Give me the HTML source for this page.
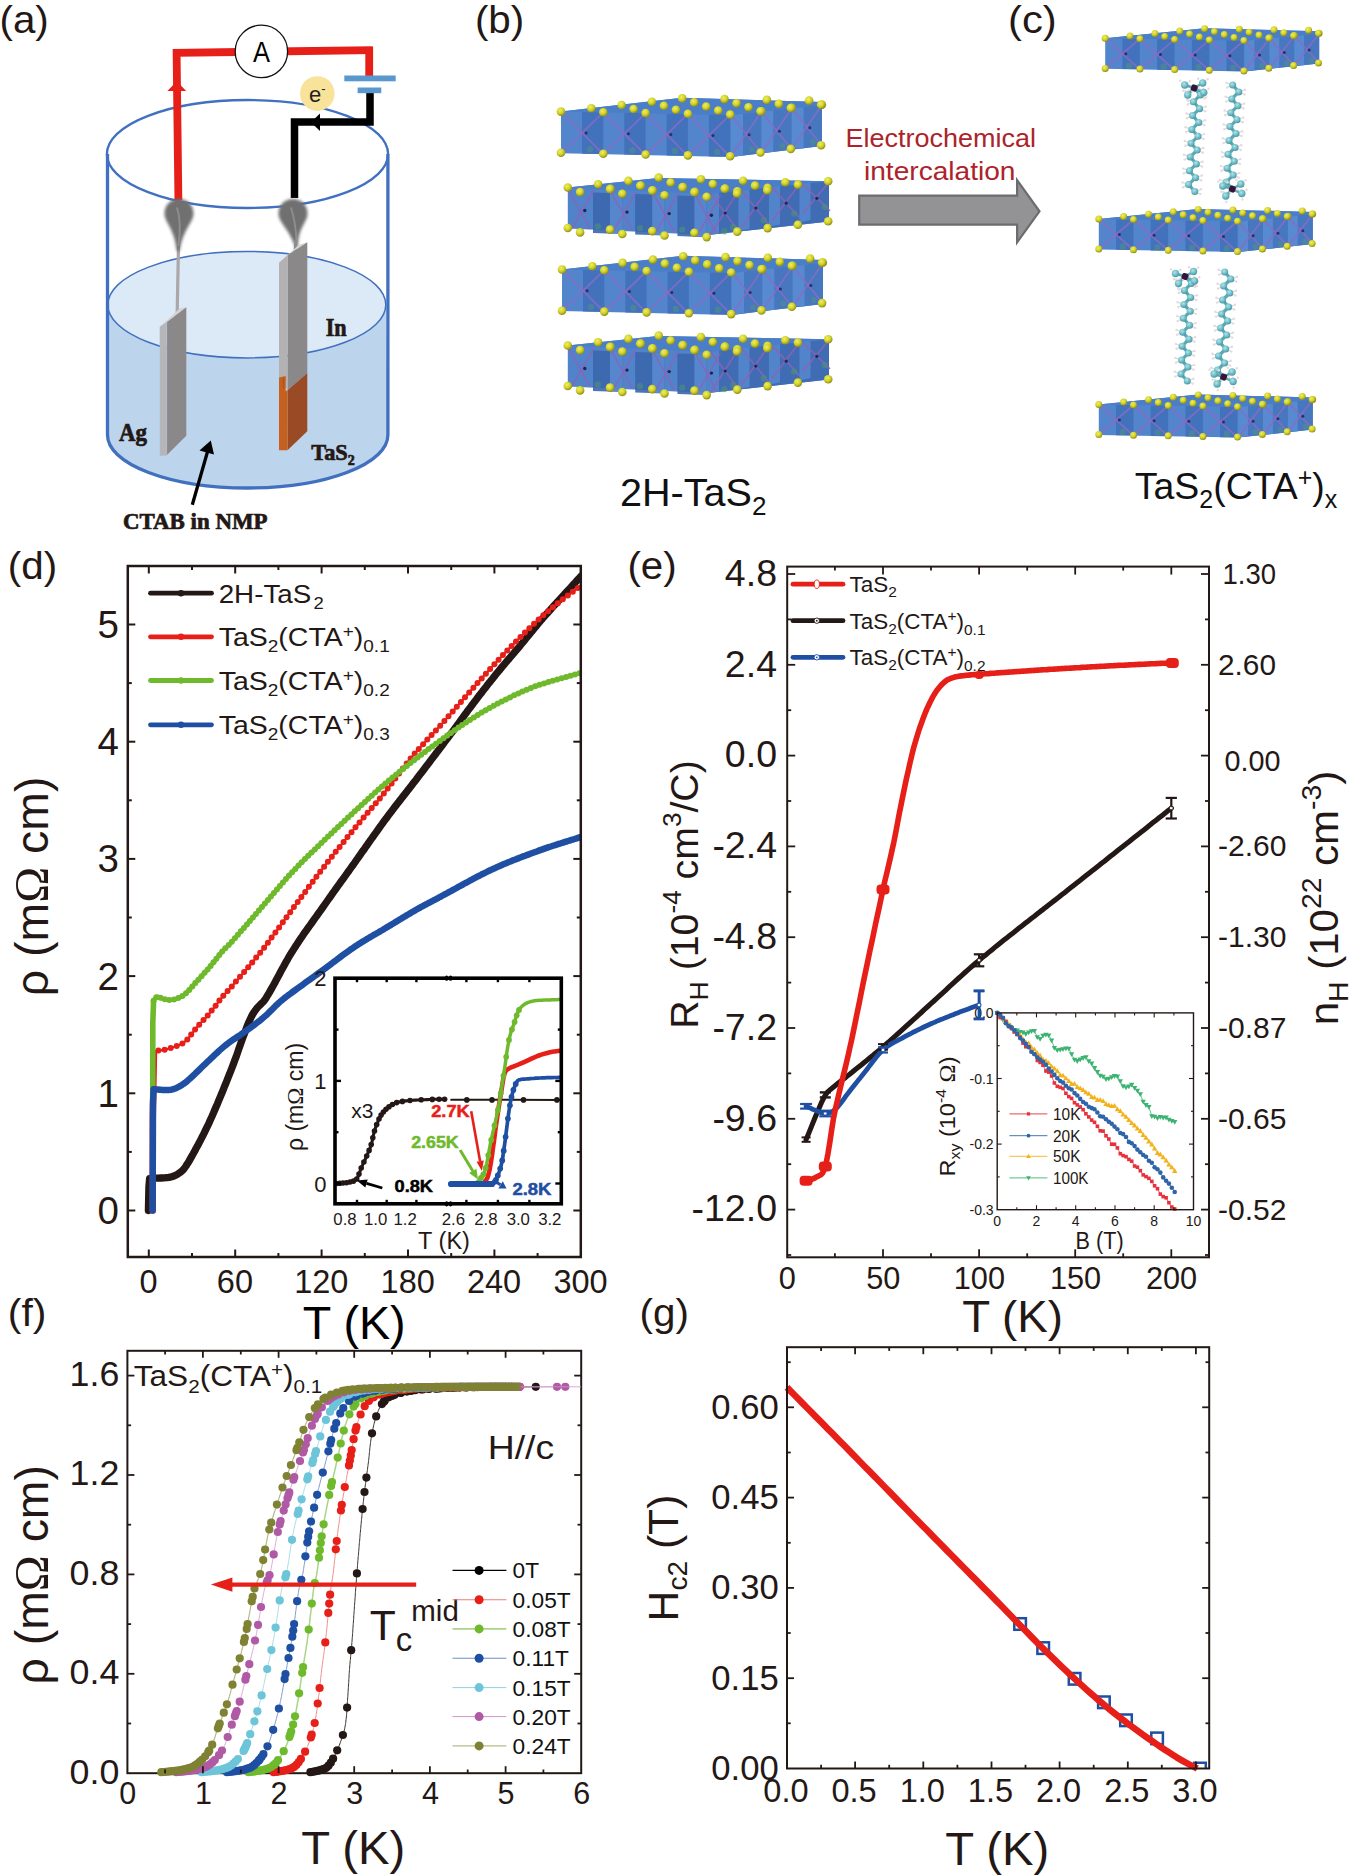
<!DOCTYPE html>
<html><head><meta charset="utf-8"><title>Figure</title>
<style>html,body{margin:0;padding:0;background:#fff}svg{display:block}</style>
</head><body>
<svg width="1349" height="1875" viewBox="0 0 1349 1875" font-family="'Liberation Sans', 'DejaVu Sans', sans-serif">
<rect width="1349" height="1875" fill="#fff"/>
<text x="-0.5" y="32.7" font-size="38.5" fill="#231815" textLength="49.3" lengthAdjust="spacingAndGlyphs">(a)</text>
<text x="474.9" y="32.7" font-size="38.5" fill="#231815" textLength="49.3" lengthAdjust="spacingAndGlyphs">(b)</text>
<text x="1008" y="32.7" font-size="38.5" fill="#231815" textLength="48.7" lengthAdjust="spacingAndGlyphs">(c)</text>
<defs><radialGradient id="gs" cx="50%" cy="40%" r="60%"><stop offset="0" stop-color="#777"/><stop offset="0.7" stop-color="#666"/><stop offset="1" stop-color="#8a8a8a"/></radialGradient><filter id="bl" x="-30%" y="-30%" width="160%" height="160%"><feGaussianBlur stdDeviation="1.6"/></filter><filter id="bl2" x="-30%" y="-30%" width="160%" height="160%"><feGaussianBlur stdDeviation="0.7"/></filter><radialGradient id="sy" cx="40%" cy="35%" r="65%"><stop offset="0" stop-color="#eeee66"/><stop offset="0.55" stop-color="#d3d328"/><stop offset="1" stop-color="#8f8d1a"/></radialGradient><radialGradient id="sc" cx="40%" cy="35%" r="65%"><stop offset="0" stop-color="#b4e3e8"/><stop offset="0.55" stop-color="#72c0c9"/><stop offset="1" stop-color="#4a98a3"/></radialGradient></defs>
<path d="M107.8,304.7 A139,53.2 0 0 0 385.8,304.7 L388,435 A140.5,53 0 0 1 107,435 Z" fill="#bdd5ec"/>
<ellipse cx="246.8" cy="304.7" rx="139" ry="53.2" fill="#dce9f6" stroke="#4170c0" stroke-width="1.5"/>
<ellipse cx="247.5" cy="154" rx="140.6" ry="54" fill="none" stroke="#4170c0" stroke-width="2.3"/>
<path d="M107.5,154 L107.5,435 A140.2,53 0 0 0 387.9,435 L387.9,154" fill="none" stroke="#4170c0" stroke-width="3.3"/>
<path d="M178.4,200 L176.6,52.8 L372.8,50.2" fill="none" stroke="#e71f19" stroke-width="7.8" stroke-linejoin="miter"/>
<path d="M369.2,47 L369.2,77" fill="none" stroke="#e71f19" stroke-width="7.8"/>
<polygon points="176.8,81.3 167.4,90.9 186.2,90.9" fill="#e71f19" />
<path d="M370,92 L370,122 L294.5,122 L294.5,198" fill="none" stroke="#000" stroke-width="7.5" stroke-linejoin="miter"/>
<polygon points="310.9,122.2 320,113.5 320,131" fill="#000" />
<rect x="344.3" y="75.5" width="51.4" height="5.8" fill="#5b97cf" />
<rect x="357.6" y="87.5" width="23.7" height="5.7" fill="#5b97cf" />
<circle cx="261.4" cy="51.4" r="26.2" fill="#fff" stroke="#111" stroke-width="1.3"/>
<text x="261.4" y="61.5" font-size="29" text-anchor="middle" fill="#000" textLength="17" lengthAdjust="spacingAndGlyphs">A</text>
<circle cx="317.3" cy="93.6" r="17.3" fill="#f9e29a" />
<text x="309" y="102" font-size="22" fill="#222">e<tspan font-size="13" dy="-9">-</tspan></text>
<path d="M178.6,240 L177,322" stroke="#aaa8a9" stroke-width="3.2" fill="none"/>
<path d="M179,199 C188,199 193.5,205.5 193.5,213.5 C193.5,222.5 184,227.5 179.7,250 C179.2,252 177.2,252 176.7,250 C174,227.5 164.5,222.5 164.5,213.5 C164.5,205.5 170,199 179,199 Z" fill="#6f6f6f" filter="url(#bl)"/>
<path d="M177,207.5 Q182,223.5 178.2,246" stroke="#999" stroke-width="2" fill="none" opacity="0.7" filter="url(#bl2)"/>
<path d="M293,199 C302,199 307.5,205.5 307.5,213.5 C307.5,222.5 298,227.5 298,246 C297.5,248 295.5,248 295,246 C288,227.5 278.5,222.5 278.5,213.5 C278.5,205.5 284,199 293,199 Z" fill="#6f6f6f" filter="url(#bl)"/>
<path d="M291,207.5 Q296,223.5 296.5,242" stroke="#999" stroke-width="2" fill="none" opacity="0.7" filter="url(#bl2)"/>
<path d="M296,240 L294,262" stroke="#8d8b8c" stroke-width="3" fill="none"/>
<polygon points="160,326.8 179.6,308.5 186.3,307.2 166.7,322.3" fill="#d4d3d4" />
<polygon points="166.7,322.3 186.3,307.2 186.3,435.7 166.7,455.3" fill="#8b8889" />
<polygon points="160,326.8 166.7,322.3 166.7,455.3 160,455.8" fill="#b7b5b6" stroke="#a9bfdc" stroke-width="0.6"/>
<polygon points="279,262.7 298.6,244.9 307.3,242.3 287.5,255.2" fill="#d4d3d4" />
<polygon points="287.5,255.2 307.3,242.3 307.3,373 287.5,390.2" fill="#8b8889" />
<polygon points="279,262.7 287.5,255.2 287.5,390.2 279,377.5" fill="#b3b1b2" />
<polygon points="287.5,390.2 307.3,373 307.3,431.3 287.5,450.2" fill="#9a4a25" />
<polygon points="279,377.5 285.7,376 285.7,391 287.5,390.2 287.5,450.2 279,450.2" fill="#c5601f" />
<path d="M283.5,378 L283.5,388" stroke="#a9521f" stroke-width="1.2"/>
<text x="325.7" y="335.7" font-size="25" fill="#231815" font-family="'Liberation Serif', 'DejaVu Serif', serif" font-weight="bold" textLength="21" lengthAdjust="spacingAndGlyphs" stroke="#231815" stroke-width="0.7">In</text>
<text x="118.9" y="441.3" font-size="25" fill="#231815" font-family="'Liberation Serif', 'DejaVu Serif', serif" font-weight="bold" textLength="28" lengthAdjust="spacingAndGlyphs" stroke="#231815" stroke-width="0.7">Ag</text>
<text x="311.3" y="460.2" font-size="24" fill="#231815" font-family="'Liberation Serif', 'DejaVu Serif', serif" font-weight="bold" textLength="43.5" lengthAdjust="spacingAndGlyphs" stroke="#231815" stroke-width="0.7">TaS<tspan font-size="15" dy="5">2</tspan></text>
<text x="123" y="529.1" font-size="22.5" fill="#231815" font-family="'Liberation Serif', 'DejaVu Serif', serif" font-weight="bold" textLength="144.5" lengthAdjust="spacingAndGlyphs" stroke="#231815" stroke-width="0.7">CTAB in NMP</text>
<line x1="192.3" y1="504.7" x2="208.3" y2="449" stroke="#000" stroke-width="3.3" />
<polygon points="210.8,440.5 199.5,450.5 214,454.6" fill="#000" />
<polygon points="561,111.6 682,97.8 822,102 822,146 731,157 561,153.2" fill="#5385cc" />
<polygon points="582,112 603.3,112.3 603.3,154.1 582,153.7" fill="#3f6fb8" opacity="0.85"/>
<polygon points="624.3,112.8 645.6,113.1 645.6,155 624.3,154.6" fill="#3f6fb8" opacity="0.85"/>
<polygon points="666.6,113.5 687.9,113.8 687.9,155.9 666.6,155.5" fill="#3f6fb8" opacity="0.85"/>
<polygon points="708.9,114.2 730.2,114.6 730.2,156.8 708.9,156.4" fill="#3f6fb8" opacity="0.85"/>
<polygon points="731,115 822,104.9 822,146 731,157" fill="#4677bf" />
<polygon points="731,115 743,113.7 743,155.2 731,157" fill="#5b8fd6" opacity="0.8"/>
<polygon points="761.3,111.7 773.3,110.4 773.3,151.9 761.3,152.5" fill="#5b8fd6" opacity="0.8"/>
<polygon points="791.6,108.4 803.6,107.1 803.6,148.6 791.6,148" fill="#5b8fd6" opacity="0.8"/>
<polygon points="561,111.6 682,97.8 822,102 822,104.9 731,115" fill="#4a7ec8" />
<line x1="561" y1="111.6" x2="603.3" y2="154.1" stroke="#8a6cc6" stroke-width="1.8" opacity="0.8"/>
<line x1="561" y1="153.2" x2="603.3" y2="112.3" stroke="#8a6cc6" stroke-width="1.8" opacity="0.8"/>
<circle cx="586.1" cy="132.9" r="1.5" fill="#2a2f6a" />
<circle cx="590.1" cy="149.2" r="3.2" fill="#4f8f8a" opacity="0.6"/>
<line x1="603.3" y1="112.3" x2="645.6" y2="155" stroke="#8a6cc6" stroke-width="1.8" opacity="0.8"/>
<line x1="603.3" y1="154.1" x2="645.6" y2="113.1" stroke="#8a6cc6" stroke-width="1.8" opacity="0.8"/>
<circle cx="628.4" cy="133.7" r="1.5" fill="#2a2f6a" />
<circle cx="632.4" cy="150.1" r="3.2" fill="#4f8f8a" opacity="0.6"/>
<line x1="645.6" y1="113.1" x2="687.9" y2="155.9" stroke="#8a6cc6" stroke-width="1.8" opacity="0.8"/>
<line x1="645.6" y1="155" x2="687.9" y2="113.8" stroke="#8a6cc6" stroke-width="1.8" opacity="0.8"/>
<circle cx="670.8" cy="134.6" r="1.5" fill="#2a2f6a" />
<circle cx="674.8" cy="151" r="3.2" fill="#4f8f8a" opacity="0.6"/>
<line x1="687.9" y1="113.8" x2="730.2" y2="156.8" stroke="#8a6cc6" stroke-width="1.8" opacity="0.8"/>
<line x1="687.9" y1="155.9" x2="730.2" y2="114.6" stroke="#8a6cc6" stroke-width="1.8" opacity="0.8"/>
<circle cx="713" cy="135.4" r="1.5" fill="#2a2f6a" />
<circle cx="717" cy="151.9" r="3.2" fill="#4f8f8a" opacity="0.6"/>
<line x1="731" y1="115" x2="761.3" y2="152.7" stroke="#8a6cc6" stroke-width="1.8" opacity="0.8"/>
<line x1="731" y1="156.3" x2="761.3" y2="111.7" stroke="#8a6cc6" stroke-width="1.8" opacity="0.8"/>
<circle cx="749.1" cy="134.7" r="1.5" fill="#2a2f6a" />
<circle cx="752.1" cy="149.3" r="3" fill="#4f8f8a" opacity="0.6"/>
<line x1="761.3" y1="111.7" x2="791.6" y2="149.1" stroke="#8a6cc6" stroke-width="1.8" opacity="0.8"/>
<line x1="761.3" y1="152.7" x2="791.6" y2="108.4" stroke="#8a6cc6" stroke-width="1.8" opacity="0.8"/>
<circle cx="779.4" cy="131.2" r="1.5" fill="#2a2f6a" />
<circle cx="782.4" cy="145.7" r="3" fill="#4f8f8a" opacity="0.6"/>
<line x1="791.6" y1="108.4" x2="821.9" y2="145.5" stroke="#8a6cc6" stroke-width="1.8" opacity="0.8"/>
<line x1="791.6" y1="149.1" x2="821.9" y2="105.1" stroke="#8a6cc6" stroke-width="1.8" opacity="0.8"/>
<circle cx="809.8" cy="127.8" r="1.5" fill="#2a2f6a" />
<circle cx="812.8" cy="142.1" r="3" fill="#4f8f8a" opacity="0.6"/>
<circle cx="682.2" cy="98.4" r="4.3" fill="url(#sy)"/>
<circle cx="724.5" cy="99.1" r="4.3" fill="url(#sy)"/>
<circle cx="766.8" cy="99.9" r="4.3" fill="url(#sy)"/>
<circle cx="809.1" cy="100.6" r="4.3" fill="url(#sy)"/>
<circle cx="651.9" cy="101.7" r="4.3" fill="url(#sy)"/>
<circle cx="694.2" cy="102.4" r="4.3" fill="url(#sy)"/>
<circle cx="736.5" cy="103.2" r="4.3" fill="url(#sy)"/>
<circle cx="778.8" cy="103.9" r="4.3" fill="url(#sy)"/>
<circle cx="821.9" cy="104.6" r="4.3" fill="url(#sy)"/>
<circle cx="821.1" cy="104.7" r="4.3" fill="url(#sy)"/>
<circle cx="621.6" cy="105" r="4.3" fill="url(#sy)"/>
<circle cx="663.9" cy="105.8" r="4.3" fill="url(#sy)"/>
<circle cx="706.2" cy="106.5" r="4.3" fill="url(#sy)"/>
<circle cx="748.5" cy="107.2" r="4.3" fill="url(#sy)"/>
<circle cx="791.6" cy="107.9" r="4.3" fill="url(#sy)"/>
<circle cx="790.8" cy="108" r="4.3" fill="url(#sy)"/>
<circle cx="591.3" cy="108.3" r="4.3" fill="url(#sy)"/>
<circle cx="633.6" cy="109" r="4.3" fill="url(#sy)"/>
<circle cx="675.9" cy="109.8" r="4.3" fill="url(#sy)"/>
<circle cx="718.2" cy="110.5" r="4.3" fill="url(#sy)"/>
<circle cx="761.3" cy="111.2" r="4.3" fill="url(#sy)"/>
<circle cx="760.5" cy="111.3" r="4.3" fill="url(#sy)"/>
<circle cx="561" cy="111.6" r="4.3" fill="url(#sy)"/>
<circle cx="603.3" cy="112.3" r="4.3" fill="url(#sy)"/>
<circle cx="645.6" cy="113.1" r="4.3" fill="url(#sy)"/>
<circle cx="687.9" cy="113.8" r="4.3" fill="url(#sy)"/>
<circle cx="730.2" cy="114.6" r="4.3" fill="url(#sy)"/>
<circle cx="561" cy="152.8" r="4.3" fill="url(#sy)"/>
<circle cx="603.3" cy="153.7" r="4.3" fill="url(#sy)"/>
<circle cx="645.6" cy="154.5" r="4.3" fill="url(#sy)"/>
<circle cx="687.9" cy="155.4" r="4.3" fill="url(#sy)"/>
<circle cx="730.2" cy="156.2" r="4.3" fill="url(#sy)"/>
<circle cx="760.5" cy="152.5" r="4.3" fill="url(#sy)"/>
<circle cx="790.8" cy="148.9" r="4.3" fill="url(#sy)"/>
<circle cx="821.1" cy="145.2" r="4.3" fill="url(#sy)"/>
<polygon points="567.8,187.5 658,178 829,181.2 829,221.5 708,235 567.8,228.5" fill="#5183ca" />
<polygon points="567.8,187.5 658,178 829,181.2 708,194" fill="#4a7ec8" />
<polygon points="593,192.5 622.2,193.6 622.2,234.1 593,233" fill="#3a66ad" opacity="0.9"/>
<polygon points="610,193 622.2,193.6 622.2,234.1 610,233" fill="#5f92d8" opacity="0.75"/>
<polygon points="635.2,194.1 664.4,195.1 664.4,235.6 635.2,234.6" fill="#3a66ad" opacity="0.9"/>
<polygon points="652.2,194.6 664.4,195.1 664.4,235.6 652.2,234.6" fill="#5f92d8" opacity="0.75"/>
<polygon points="677.4,195.6 706.6,196.7 706.6,237.2 677.4,236.1" fill="#3a66ad" opacity="0.9"/>
<polygon points="694.4,196.1 706.6,196.7 706.6,237.2 694.4,236.1" fill="#5f92d8" opacity="0.75"/>
<polygon points="708,194 829,181.2 829,221.5 708,235" fill="#3f6cb3" />
<polygon points="708,194 719,192.8 719,233.5 708,235" fill="#5b8fd6" opacity="0.7"/>
<line x1="711" y1="194" x2="738.5" y2="231" stroke="#8d62b8" stroke-width="1.8" opacity="0.8"/>
<line x1="711" y1="234" x2="738.5" y2="190.7" stroke="#8d62b8" stroke-width="1.8" opacity="0.8"/>
<circle cx="725.2" cy="213" r="1.6" fill="#1f2450" />
<circle cx="733.2" cy="227" r="3.2" fill="#4f8f7a" opacity="0.6"/>
<polygon points="738.5,190.7 749.5,189.5 749.5,229 738.5,230.8" fill="#5b8fd6" opacity="0.7"/>
<line x1="741.5" y1="190.7" x2="769" y2="224.3" stroke="#8d62b8" stroke-width="1.8" opacity="0.8"/>
<line x1="741.5" y1="227.3" x2="769" y2="187.4" stroke="#8d62b8" stroke-width="1.8" opacity="0.8"/>
<circle cx="755.8" cy="208.1" r="1.6" fill="#1f2450" />
<circle cx="763.8" cy="220.3" r="3.2" fill="#4f8f7a" opacity="0.6"/>
<polygon points="769,187.4 780,186.2 780,224.5 769,226.6" fill="#5b8fd6" opacity="0.7"/>
<line x1="772" y1="187.4" x2="799.5" y2="217.6" stroke="#8d62b8" stroke-width="1.8" opacity="0.8"/>
<line x1="772" y1="220.6" x2="799.5" y2="184.1" stroke="#8d62b8" stroke-width="1.8" opacity="0.8"/>
<circle cx="786.2" cy="203.2" r="1.6" fill="#1f2450" />
<circle cx="794.2" cy="213.6" r="3.2" fill="#4f8f7a" opacity="0.6"/>
<polygon points="799.5,184.1 810.5,182.9 810.5,220 799.5,222.4" fill="#5b8fd6" opacity="0.7"/>
<line x1="802.5" y1="184.1" x2="830" y2="210.9" stroke="#8d62b8" stroke-width="1.8" opacity="0.8"/>
<line x1="802.5" y1="213.9" x2="830" y2="180.8" stroke="#8d62b8" stroke-width="1.8" opacity="0.8"/>
<circle cx="816.8" cy="198.3" r="1.6" fill="#1f2450" />
<circle cx="824.8" cy="206.9" r="3.2" fill="#4f8f7a" opacity="0.6"/>
<line x1="567.8" y1="188.5" x2="589.8" y2="228.5" stroke="#8d62b8" stroke-width="1.8" opacity="0.75"/>
<line x1="571.8" y1="228.5" x2="593.8" y2="190.5" stroke="#8d62b8" stroke-width="1.8" opacity="0.75"/>
<circle cx="584.8" cy="210.5" r="1.7" fill="#1f2450" />
<circle cx="597.8" cy="226.5" r="3.2" fill="#4f8f7a" opacity="0.6"/>
<line x1="610" y1="190.1" x2="632" y2="230.1" stroke="#8d62b8" stroke-width="1.8" opacity="0.75"/>
<line x1="614" y1="230.1" x2="636" y2="192.1" stroke="#8d62b8" stroke-width="1.8" opacity="0.75"/>
<circle cx="627" cy="212.1" r="1.7" fill="#1f2450" />
<circle cx="640" cy="228.1" r="3.2" fill="#4f8f7a" opacity="0.6"/>
<line x1="652.2" y1="191.6" x2="674.2" y2="231.6" stroke="#8d62b8" stroke-width="1.8" opacity="0.75"/>
<line x1="656.2" y1="231.6" x2="678.2" y2="193.6" stroke="#8d62b8" stroke-width="1.8" opacity="0.75"/>
<circle cx="669.2" cy="213.6" r="1.7" fill="#1f2450" />
<circle cx="682.2" cy="229.6" r="3.2" fill="#4f8f7a" opacity="0.6"/>
<line x1="694.4" y1="193.2" x2="716.4" y2="233.2" stroke="#8d62b8" stroke-width="1.8" opacity="0.75"/>
<line x1="698.4" y1="233.2" x2="720.4" y2="195.2" stroke="#8d62b8" stroke-width="1.8" opacity="0.75"/>
<circle cx="711.4" cy="215.2" r="1.7" fill="#1f2450" />
<circle cx="724.4" cy="231.2" r="3.2" fill="#4f8f7a" opacity="0.6"/>
<circle cx="658.7" cy="177.6" r="4.3" fill="url(#sy)"/>
<circle cx="700.9" cy="179.2" r="4.3" fill="url(#sy)"/>
<circle cx="743.1" cy="180.7" r="4.3" fill="url(#sy)"/>
<circle cx="628.4" cy="180.9" r="4.3" fill="url(#sy)"/>
<circle cx="828.2" cy="181.3" r="4.3" fill="url(#sy)"/>
<circle cx="785.3" cy="182.2" r="4.3" fill="url(#sy)"/>
<circle cx="670.6" cy="182.5" r="4.3" fill="url(#sy)"/>
<circle cx="712.8" cy="184" r="4.3" fill="url(#sy)"/>
<circle cx="598.1" cy="184.2" r="4.3" fill="url(#sy)"/>
<circle cx="797.9" cy="184.6" r="4.3" fill="url(#sy)"/>
<circle cx="640.7" cy="185.5" r="4.3" fill="url(#sy)"/>
<circle cx="755" cy="185.6" r="4.3" fill="url(#sy)"/>
<circle cx="640.3" cy="185.8" r="4.3" fill="url(#sy)"/>
<circle cx="682.9" cy="187.1" r="4.3" fill="url(#sy)"/>
<circle cx="682.5" cy="187.3" r="4.3" fill="url(#sy)"/>
<circle cx="567.8" cy="187.5" r="4.3" fill="url(#sy)"/>
<circle cx="767.6" cy="187.9" r="4.3" fill="url(#sy)"/>
<circle cx="725.1" cy="188.6" r="4.3" fill="url(#sy)"/>
<circle cx="610.4" cy="188.8" r="4.3" fill="url(#sy)"/>
<circle cx="724.7" cy="188.8" r="4.3" fill="url(#sy)"/>
<circle cx="610" cy="189.1" r="4.3" fill="url(#sy)"/>
<circle cx="767.3" cy="190.2" r="4.3" fill="url(#sy)"/>
<circle cx="652.6" cy="190.3" r="4.3" fill="url(#sy)"/>
<circle cx="652.2" cy="190.6" r="4.3" fill="url(#sy)"/>
<circle cx="737.3" cy="191.2" r="4.3" fill="url(#sy)"/>
<circle cx="694.8" cy="191.9" r="4.3" fill="url(#sy)"/>
<circle cx="580.1" cy="192.1" r="4.3" fill="url(#sy)"/>
<circle cx="694.4" cy="192.2" r="4.3" fill="url(#sy)"/>
<circle cx="737" cy="193.4" r="4.3" fill="url(#sy)"/>
<circle cx="622.3" cy="193.7" r="4.3" fill="url(#sy)"/>
<circle cx="664.5" cy="195.2" r="4.3" fill="url(#sy)"/>
<circle cx="706.7" cy="196.8" r="4.3" fill="url(#sy)"/>
<circle cx="567.8" cy="228" r="4.3" fill="url(#sy)"/>
<circle cx="580.1" cy="232.4" r="4.3" fill="url(#sy)"/>
<circle cx="610" cy="229.6" r="4.3" fill="url(#sy)"/>
<circle cx="622.3" cy="234" r="4.3" fill="url(#sy)"/>
<circle cx="652.2" cy="231.1" r="4.3" fill="url(#sy)"/>
<circle cx="664.5" cy="235.5" r="4.3" fill="url(#sy)"/>
<circle cx="694.4" cy="232.7" r="4.3" fill="url(#sy)"/>
<circle cx="706.7" cy="237.1" r="4.3" fill="url(#sy)"/>
<circle cx="737.3" cy="231.6" r="4.3" fill="url(#sy)"/>
<circle cx="767.6" cy="228.1" r="4.3" fill="url(#sy)"/>
<circle cx="797.9" cy="224.7" r="4.3" fill="url(#sy)"/>
<circle cx="828.2" cy="221.2" r="4.3" fill="url(#sy)"/>
<polygon points="562,269.5 683,255.7 823,259.9 823,303.9 732,314.9 562,311.1" fill="#5385cc" />
<polygon points="583,269.9 604.3,270.2 604.3,312 583,311.6" fill="#3f6fb8" opacity="0.85"/>
<polygon points="625.3,270.6 646.6,271 646.6,312.9 625.3,312.5" fill="#3f6fb8" opacity="0.85"/>
<polygon points="667.6,271.4 688.9,271.8 688.9,313.8 667.6,313.4" fill="#3f6fb8" opacity="0.85"/>
<polygon points="709.9,272.1 731.2,272.5 731.2,314.7 709.9,314.3" fill="#3f6fb8" opacity="0.85"/>
<polygon points="732,272.9 823,262.8 823,303.9 732,314.9" fill="#4677bf" />
<polygon points="732,272.9 744,271.6 744,313.1 732,314.9" fill="#5b8fd6" opacity="0.8"/>
<polygon points="762.3,269.6 774.3,268.3 774.3,309.8 762.3,310.4" fill="#5b8fd6" opacity="0.8"/>
<polygon points="792.6,266.3 804.6,265 804.6,306.5 792.6,305.9" fill="#5b8fd6" opacity="0.8"/>
<polygon points="562,269.5 683,255.7 823,259.9 823,262.8 732,272.9" fill="#4a7ec8" />
<line x1="562" y1="269.5" x2="604.3" y2="312" stroke="#8a6cc6" stroke-width="1.8" opacity="0.8"/>
<line x1="562" y1="311.1" x2="604.3" y2="270.2" stroke="#8a6cc6" stroke-width="1.8" opacity="0.8"/>
<circle cx="587.1" cy="290.8" r="1.5" fill="#2a2f6a" />
<circle cx="591.1" cy="307.1" r="3.2" fill="#4f8f8a" opacity="0.6"/>
<line x1="604.3" y1="270.2" x2="646.6" y2="312.9" stroke="#8a6cc6" stroke-width="1.8" opacity="0.8"/>
<line x1="604.3" y1="312" x2="646.6" y2="271" stroke="#8a6cc6" stroke-width="1.8" opacity="0.8"/>
<circle cx="629.4" cy="291.6" r="1.5" fill="#2a2f6a" />
<circle cx="633.4" cy="308" r="3.2" fill="#4f8f8a" opacity="0.6"/>
<line x1="646.6" y1="271" x2="688.9" y2="313.8" stroke="#8a6cc6" stroke-width="1.8" opacity="0.8"/>
<line x1="646.6" y1="312.9" x2="688.9" y2="271.8" stroke="#8a6cc6" stroke-width="1.8" opacity="0.8"/>
<circle cx="671.8" cy="292.5" r="1.5" fill="#2a2f6a" />
<circle cx="675.8" cy="308.9" r="3.2" fill="#4f8f8a" opacity="0.6"/>
<line x1="688.9" y1="271.8" x2="731.2" y2="314.7" stroke="#8a6cc6" stroke-width="1.8" opacity="0.8"/>
<line x1="688.9" y1="313.8" x2="731.2" y2="272.5" stroke="#8a6cc6" stroke-width="1.8" opacity="0.8"/>
<circle cx="714" cy="293.3" r="1.5" fill="#2a2f6a" />
<circle cx="718" cy="309.8" r="3.2" fill="#4f8f8a" opacity="0.6"/>
<line x1="732" y1="272.9" x2="762.3" y2="310.6" stroke="#8a6cc6" stroke-width="1.8" opacity="0.8"/>
<line x1="732" y1="314.2" x2="762.3" y2="269.6" stroke="#8a6cc6" stroke-width="1.8" opacity="0.8"/>
<circle cx="750.1" cy="292.6" r="1.5" fill="#2a2f6a" />
<circle cx="753.1" cy="307.2" r="3" fill="#4f8f8a" opacity="0.6"/>
<line x1="762.3" y1="269.6" x2="792.6" y2="307" stroke="#8a6cc6" stroke-width="1.8" opacity="0.8"/>
<line x1="762.3" y1="310.6" x2="792.6" y2="266.3" stroke="#8a6cc6" stroke-width="1.8" opacity="0.8"/>
<circle cx="780.4" cy="289.1" r="1.5" fill="#2a2f6a" />
<circle cx="783.4" cy="303.6" r="3" fill="#4f8f8a" opacity="0.6"/>
<line x1="792.6" y1="266.3" x2="822.9" y2="303.4" stroke="#8a6cc6" stroke-width="1.8" opacity="0.8"/>
<line x1="792.6" y1="307" x2="822.9" y2="263" stroke="#8a6cc6" stroke-width="1.8" opacity="0.8"/>
<circle cx="810.8" cy="285.6" r="1.5" fill="#2a2f6a" />
<circle cx="813.8" cy="300" r="3" fill="#4f8f8a" opacity="0.6"/>
<circle cx="683.2" cy="256.3" r="4.3" fill="url(#sy)"/>
<circle cx="725.5" cy="257.1" r="4.3" fill="url(#sy)"/>
<circle cx="767.8" cy="257.8" r="4.3" fill="url(#sy)"/>
<circle cx="810.1" cy="258.6" r="4.3" fill="url(#sy)"/>
<circle cx="652.9" cy="259.6" r="4.3" fill="url(#sy)"/>
<circle cx="695.2" cy="260.4" r="4.3" fill="url(#sy)"/>
<circle cx="737.5" cy="261.1" r="4.3" fill="url(#sy)"/>
<circle cx="779.8" cy="261.9" r="4.3" fill="url(#sy)"/>
<circle cx="822.9" cy="262.5" r="4.3" fill="url(#sy)"/>
<circle cx="822.1" cy="262.6" r="4.3" fill="url(#sy)"/>
<circle cx="622.6" cy="262.9" r="4.3" fill="url(#sy)"/>
<circle cx="664.9" cy="263.6" r="4.3" fill="url(#sy)"/>
<circle cx="707.2" cy="264.4" r="4.3" fill="url(#sy)"/>
<circle cx="749.5" cy="265.1" r="4.3" fill="url(#sy)"/>
<circle cx="792.6" cy="265.8" r="4.3" fill="url(#sy)"/>
<circle cx="791.8" cy="265.9" r="4.3" fill="url(#sy)"/>
<circle cx="592.3" cy="266.2" r="4.3" fill="url(#sy)"/>
<circle cx="634.6" cy="266.9" r="4.3" fill="url(#sy)"/>
<circle cx="676.9" cy="267.7" r="4.3" fill="url(#sy)"/>
<circle cx="719.2" cy="268.4" r="4.3" fill="url(#sy)"/>
<circle cx="762.3" cy="269.1" r="4.3" fill="url(#sy)"/>
<circle cx="761.5" cy="269.2" r="4.3" fill="url(#sy)"/>
<circle cx="562" cy="269.5" r="4.3" fill="url(#sy)"/>
<circle cx="604.3" cy="270.2" r="4.3" fill="url(#sy)"/>
<circle cx="646.6" cy="271" r="4.3" fill="url(#sy)"/>
<circle cx="688.9" cy="271.8" r="4.3" fill="url(#sy)"/>
<circle cx="731.2" cy="272.5" r="4.3" fill="url(#sy)"/>
<circle cx="562" cy="310.7" r="4.3" fill="url(#sy)"/>
<circle cx="604.3" cy="311.6" r="4.3" fill="url(#sy)"/>
<circle cx="646.6" cy="312.4" r="4.3" fill="url(#sy)"/>
<circle cx="688.9" cy="313.2" r="4.3" fill="url(#sy)"/>
<circle cx="731.2" cy="314.1" r="4.3" fill="url(#sy)"/>
<circle cx="761.5" cy="310.4" r="4.3" fill="url(#sy)"/>
<circle cx="791.8" cy="306.8" r="4.3" fill="url(#sy)"/>
<circle cx="822.1" cy="303.1" r="4.3" fill="url(#sy)"/>
<polygon points="567.8,345.5 658,336 829,339.2 829,379.5 708,393 567.8,386.5" fill="#5183ca" />
<polygon points="567.8,345.5 658,336 829,339.2 708,352" fill="#4a7ec8" />
<polygon points="593,350.5 622.2,351.6 622.2,392.1 593,391" fill="#3a66ad" opacity="0.9"/>
<polygon points="610,351 622.2,351.6 622.2,392.1 610,391" fill="#5f92d8" opacity="0.75"/>
<polygon points="635.2,352.1 664.4,353.1 664.4,393.6 635.2,392.6" fill="#3a66ad" opacity="0.9"/>
<polygon points="652.2,352.6 664.4,353.1 664.4,393.6 652.2,392.6" fill="#5f92d8" opacity="0.75"/>
<polygon points="677.4,353.6 706.6,354.6 706.6,395.1 677.4,394.1" fill="#3a66ad" opacity="0.9"/>
<polygon points="694.4,354.1 706.6,354.6 706.6,395.1 694.4,394.1" fill="#5f92d8" opacity="0.75"/>
<polygon points="708,352 829,339.2 829,379.5 708,393" fill="#3f6cb3" />
<polygon points="708,352 719,350.8 719,391.5 708,393" fill="#5b8fd6" opacity="0.7"/>
<line x1="711" y1="352" x2="738.5" y2="389" stroke="#8d62b8" stroke-width="1.8" opacity="0.8"/>
<line x1="711" y1="392" x2="738.5" y2="348.7" stroke="#8d62b8" stroke-width="1.8" opacity="0.8"/>
<circle cx="725.2" cy="371" r="1.6" fill="#1f2450" />
<circle cx="733.2" cy="385" r="3.2" fill="#4f8f7a" opacity="0.6"/>
<polygon points="738.5,348.7 749.5,347.5 749.5,387 738.5,388.8" fill="#5b8fd6" opacity="0.7"/>
<line x1="741.5" y1="348.7" x2="769" y2="382.3" stroke="#8d62b8" stroke-width="1.8" opacity="0.8"/>
<line x1="741.5" y1="385.3" x2="769" y2="345.4" stroke="#8d62b8" stroke-width="1.8" opacity="0.8"/>
<circle cx="755.8" cy="366.1" r="1.6" fill="#1f2450" />
<circle cx="763.8" cy="378.3" r="3.2" fill="#4f8f7a" opacity="0.6"/>
<polygon points="769,345.4 780,344.2 780,382.5 769,384.6" fill="#5b8fd6" opacity="0.7"/>
<line x1="772" y1="345.4" x2="799.5" y2="375.6" stroke="#8d62b8" stroke-width="1.8" opacity="0.8"/>
<line x1="772" y1="378.6" x2="799.5" y2="342.1" stroke="#8d62b8" stroke-width="1.8" opacity="0.8"/>
<circle cx="786.2" cy="361.2" r="1.6" fill="#1f2450" />
<circle cx="794.2" cy="371.6" r="3.2" fill="#4f8f7a" opacity="0.6"/>
<polygon points="799.5,342.1 810.5,340.9 810.5,378 799.5,380.4" fill="#5b8fd6" opacity="0.7"/>
<line x1="802.5" y1="342.1" x2="830" y2="368.9" stroke="#8d62b8" stroke-width="1.8" opacity="0.8"/>
<line x1="802.5" y1="371.9" x2="830" y2="338.8" stroke="#8d62b8" stroke-width="1.8" opacity="0.8"/>
<circle cx="816.8" cy="356.3" r="1.6" fill="#1f2450" />
<circle cx="824.8" cy="364.9" r="3.2" fill="#4f8f7a" opacity="0.6"/>
<line x1="567.8" y1="346.5" x2="589.8" y2="386.5" stroke="#8d62b8" stroke-width="1.8" opacity="0.75"/>
<line x1="571.8" y1="386.5" x2="593.8" y2="348.5" stroke="#8d62b8" stroke-width="1.8" opacity="0.75"/>
<circle cx="584.8" cy="368.5" r="1.7" fill="#1f2450" />
<circle cx="597.8" cy="384.5" r="3.2" fill="#4f8f7a" opacity="0.6"/>
<line x1="610" y1="348.1" x2="632" y2="388.1" stroke="#8d62b8" stroke-width="1.8" opacity="0.75"/>
<line x1="614" y1="388.1" x2="636" y2="350.1" stroke="#8d62b8" stroke-width="1.8" opacity="0.75"/>
<circle cx="627" cy="370.1" r="1.7" fill="#1f2450" />
<circle cx="640" cy="386.1" r="3.2" fill="#4f8f7a" opacity="0.6"/>
<line x1="652.2" y1="349.6" x2="674.2" y2="389.6" stroke="#8d62b8" stroke-width="1.8" opacity="0.75"/>
<line x1="656.2" y1="389.6" x2="678.2" y2="351.6" stroke="#8d62b8" stroke-width="1.8" opacity="0.75"/>
<circle cx="669.2" cy="371.6" r="1.7" fill="#1f2450" />
<circle cx="682.2" cy="387.6" r="3.2" fill="#4f8f7a" opacity="0.6"/>
<line x1="694.4" y1="351.1" x2="716.4" y2="391.1" stroke="#8d62b8" stroke-width="1.8" opacity="0.75"/>
<line x1="698.4" y1="391.1" x2="720.4" y2="353.1" stroke="#8d62b8" stroke-width="1.8" opacity="0.75"/>
<circle cx="711.4" cy="373.1" r="1.7" fill="#1f2450" />
<circle cx="724.4" cy="389.1" r="3.2" fill="#4f8f7a" opacity="0.6"/>
<circle cx="658.7" cy="335.6" r="4.3" fill="url(#sy)"/>
<circle cx="700.9" cy="337.1" r="4.3" fill="url(#sy)"/>
<circle cx="743.1" cy="338.7" r="4.3" fill="url(#sy)"/>
<circle cx="628.4" cy="338.9" r="4.3" fill="url(#sy)"/>
<circle cx="828.2" cy="339.3" r="4.3" fill="url(#sy)"/>
<circle cx="785.3" cy="340.2" r="4.3" fill="url(#sy)"/>
<circle cx="670.6" cy="340.5" r="4.3" fill="url(#sy)"/>
<circle cx="712.8" cy="342" r="4.3" fill="url(#sy)"/>
<circle cx="598.1" cy="342.2" r="4.3" fill="url(#sy)"/>
<circle cx="797.9" cy="342.6" r="4.3" fill="url(#sy)"/>
<circle cx="640.7" cy="343.5" r="4.3" fill="url(#sy)"/>
<circle cx="755" cy="343.6" r="4.3" fill="url(#sy)"/>
<circle cx="640.3" cy="343.8" r="4.3" fill="url(#sy)"/>
<circle cx="682.9" cy="345.1" r="4.3" fill="url(#sy)"/>
<circle cx="682.5" cy="345.3" r="4.3" fill="url(#sy)"/>
<circle cx="567.8" cy="345.5" r="4.3" fill="url(#sy)"/>
<circle cx="767.6" cy="345.9" r="4.3" fill="url(#sy)"/>
<circle cx="725.1" cy="346.6" r="4.3" fill="url(#sy)"/>
<circle cx="610.4" cy="346.8" r="4.3" fill="url(#sy)"/>
<circle cx="724.7" cy="346.9" r="4.3" fill="url(#sy)"/>
<circle cx="610" cy="347.1" r="4.3" fill="url(#sy)"/>
<circle cx="767.3" cy="348.1" r="4.3" fill="url(#sy)"/>
<circle cx="652.6" cy="348.4" r="4.3" fill="url(#sy)"/>
<circle cx="652.2" cy="348.6" r="4.3" fill="url(#sy)"/>
<circle cx="737.3" cy="349.2" r="4.3" fill="url(#sy)"/>
<circle cx="694.8" cy="349.9" r="4.3" fill="url(#sy)"/>
<circle cx="580.1" cy="350.1" r="4.3" fill="url(#sy)"/>
<circle cx="694.4" cy="350.1" r="4.3" fill="url(#sy)"/>
<circle cx="737" cy="351.4" r="4.3" fill="url(#sy)"/>
<circle cx="622.3" cy="351.6" r="4.3" fill="url(#sy)"/>
<circle cx="664.5" cy="353.2" r="4.3" fill="url(#sy)"/>
<circle cx="706.7" cy="354.8" r="4.3" fill="url(#sy)"/>
<circle cx="567.8" cy="386" r="4.3" fill="url(#sy)"/>
<circle cx="580.1" cy="390.4" r="4.3" fill="url(#sy)"/>
<circle cx="610" cy="387.6" r="4.3" fill="url(#sy)"/>
<circle cx="622.3" cy="392" r="4.3" fill="url(#sy)"/>
<circle cx="652.2" cy="389.1" r="4.3" fill="url(#sy)"/>
<circle cx="664.5" cy="393.5" r="4.3" fill="url(#sy)"/>
<circle cx="694.4" cy="390.6" r="4.3" fill="url(#sy)"/>
<circle cx="706.7" cy="395.1" r="4.3" fill="url(#sy)"/>
<circle cx="737.3" cy="389.6" r="4.3" fill="url(#sy)"/>
<circle cx="767.6" cy="386.1" r="4.3" fill="url(#sy)"/>
<circle cx="797.9" cy="382.6" r="4.3" fill="url(#sy)"/>
<circle cx="828.2" cy="379.2" r="4.3" fill="url(#sy)"/>
<text x="620" y="506.2" font-size="39.5" fill="#111" textLength="146.5" lengthAdjust="spacingAndGlyphs">2H-TaS<tspan font-size="26" dy="9">2</tspan></text>
<text x="845.5" y="146.8" font-size="25.5" fill="#ad232a" textLength="190.5" lengthAdjust="spacingAndGlyphs">Electrochemical</text>
<text x="864" y="180.1" font-size="25.5" fill="#ad232a" textLength="151.5" lengthAdjust="spacingAndGlyphs">intercalation</text>
<polygon points="859.2,195.7 1017.1,195.7 1017.1,180.1 1039.5,211.3 1017.1,242.4 1017.1,224.6 859.2,224.6" fill="#939395" stroke="#6c6c6e" stroke-width="2.2" stroke-linejoin="miter"/>
<polygon points="1105.2,38.3 1204.4,28.2 1319.2,31.3 1319.2,63.4 1244.6,71.4 1105.2,68.7" fill="#5385cc" />
<polygon points="1122.4,38.6 1139.9,38.8 1139.9,69.3 1122.4,69" fill="#3f6fb8" opacity="0.85"/>
<polygon points="1157.1,39.1 1174.6,39.4 1174.6,70 1157.1,69.7" fill="#3f6fb8" opacity="0.85"/>
<polygon points="1191.8,39.7 1209.3,39.9 1209.3,70.6 1191.8,70.3" fill="#3f6fb8" opacity="0.85"/>
<polygon points="1226.5,40.2 1243.9,40.5 1243.9,71.3 1226.5,71" fill="#3f6fb8" opacity="0.85"/>
<polygon points="1244.6,40.8 1319.2,33.4 1319.2,63.4 1244.6,71.4" fill="#4677bf" />
<polygon points="1244.6,40.8 1254.4,39.8 1254.4,70.1 1244.6,71.4" fill="#5b8fd6" opacity="0.8"/>
<polygon points="1269.4,38.4 1279.3,37.4 1279.3,67.7 1269.4,68.2" fill="#5b8fd6" opacity="0.8"/>
<polygon points="1294.3,36 1304.1,35 1304.1,65.3 1294.3,64.9" fill="#5b8fd6" opacity="0.8"/>
<polygon points="1105.2,38.3 1204.4,28.2 1319.2,31.3 1319.2,33.4 1244.6,40.8" fill="#4a7ec8" />
<line x1="1105.2" y1="38.3" x2="1139.9" y2="69.3" stroke="#8a6cc6" stroke-width="1.8" opacity="0.8"/>
<line x1="1105.2" y1="68.7" x2="1139.9" y2="38.8" stroke="#8a6cc6" stroke-width="1.8" opacity="0.8"/>
<circle cx="1125.8" cy="53.8" r="1.5" fill="#2a2f6a" />
<circle cx="1129.1" cy="65.7" r="3.2" fill="#4f8f8a" opacity="0.6"/>
<line x1="1139.9" y1="38.8" x2="1174.6" y2="70" stroke="#8a6cc6" stroke-width="1.8" opacity="0.8"/>
<line x1="1139.9" y1="69.3" x2="1174.6" y2="39.4" stroke="#8a6cc6" stroke-width="1.8" opacity="0.8"/>
<circle cx="1160.5" cy="54.5" r="1.5" fill="#2a2f6a" />
<circle cx="1163.8" cy="66.4" r="3.2" fill="#4f8f8a" opacity="0.6"/>
<line x1="1174.6" y1="39.4" x2="1209.3" y2="70.6" stroke="#8a6cc6" stroke-width="1.8" opacity="0.8"/>
<line x1="1174.6" y1="70" x2="1209.3" y2="39.9" stroke="#8a6cc6" stroke-width="1.8" opacity="0.8"/>
<circle cx="1195.2" cy="55.1" r="1.5" fill="#2a2f6a" />
<circle cx="1198.5" cy="67.1" r="3.2" fill="#4f8f8a" opacity="0.6"/>
<line x1="1209.3" y1="39.9" x2="1243.9" y2="71.3" stroke="#8a6cc6" stroke-width="1.8" opacity="0.8"/>
<line x1="1209.3" y1="70.6" x2="1243.9" y2="40.5" stroke="#8a6cc6" stroke-width="1.8" opacity="0.8"/>
<circle cx="1229.9" cy="55.7" r="1.5" fill="#2a2f6a" />
<circle cx="1233.2" cy="67.7" r="3.2" fill="#4f8f8a" opacity="0.6"/>
<line x1="1244.6" y1="40.8" x2="1269.4" y2="68.3" stroke="#8a6cc6" stroke-width="1.8" opacity="0.8"/>
<line x1="1244.6" y1="70.9" x2="1269.4" y2="38.4" stroke="#8a6cc6" stroke-width="1.8" opacity="0.8"/>
<circle cx="1259.5" cy="55.1" r="1.5" fill="#2a2f6a" />
<circle cx="1261.9" cy="65.8" r="3" fill="#4f8f8a" opacity="0.6"/>
<line x1="1269.4" y1="38.4" x2="1294.3" y2="65.7" stroke="#8a6cc6" stroke-width="1.8" opacity="0.8"/>
<line x1="1269.4" y1="68.3" x2="1294.3" y2="36" stroke="#8a6cc6" stroke-width="1.8" opacity="0.8"/>
<circle cx="1284.3" cy="52.6" r="1.5" fill="#2a2f6a" />
<circle cx="1286.8" cy="63.2" r="3" fill="#4f8f8a" opacity="0.6"/>
<line x1="1294.3" y1="36" x2="1319.1" y2="63" stroke="#8a6cc6" stroke-width="1.8" opacity="0.8"/>
<line x1="1294.3" y1="65.7" x2="1319.1" y2="33.6" stroke="#8a6cc6" stroke-width="1.8" opacity="0.8"/>
<circle cx="1309.2" cy="50.1" r="1.5" fill="#2a2f6a" />
<circle cx="1311.6" cy="60.6" r="3" fill="#4f8f8a" opacity="0.6"/>
<circle cx="1204.6" cy="28.7" r="3.5" fill="url(#sy)"/>
<circle cx="1239.3" cy="29.2" r="3.5" fill="url(#sy)"/>
<circle cx="1274" cy="29.8" r="3.5" fill="url(#sy)"/>
<circle cx="1308.6" cy="30.3" r="3.5" fill="url(#sy)"/>
<circle cx="1179.7" cy="31.1" r="3.5" fill="url(#sy)"/>
<circle cx="1214.4" cy="31.6" r="3.5" fill="url(#sy)"/>
<circle cx="1249.1" cy="32.2" r="3.5" fill="url(#sy)"/>
<circle cx="1283.8" cy="32.7" r="3.5" fill="url(#sy)"/>
<circle cx="1319.1" cy="33.2" r="3.5" fill="url(#sy)"/>
<circle cx="1318.5" cy="33.3" r="3.5" fill="url(#sy)"/>
<circle cx="1154.9" cy="33.5" r="3.5" fill="url(#sy)"/>
<circle cx="1189.6" cy="34" r="3.5" fill="url(#sy)"/>
<circle cx="1224.3" cy="34.6" r="3.5" fill="url(#sy)"/>
<circle cx="1259" cy="35.1" r="3.5" fill="url(#sy)"/>
<circle cx="1294.3" cy="35.6" r="3.5" fill="url(#sy)"/>
<circle cx="1293.6" cy="35.7" r="3.5" fill="url(#sy)"/>
<circle cx="1130" cy="35.9" r="3.5" fill="url(#sy)"/>
<circle cx="1164.7" cy="36.4" r="3.5" fill="url(#sy)"/>
<circle cx="1199.4" cy="37" r="3.5" fill="url(#sy)"/>
<circle cx="1234.1" cy="37.5" r="3.5" fill="url(#sy)"/>
<circle cx="1269.4" cy="38" r="3.5" fill="url(#sy)"/>
<circle cx="1268.8" cy="38.1" r="3.5" fill="url(#sy)"/>
<circle cx="1105.2" cy="38.3" r="3.5" fill="url(#sy)"/>
<circle cx="1139.9" cy="38.8" r="3.5" fill="url(#sy)"/>
<circle cx="1174.6" cy="39.4" r="3.5" fill="url(#sy)"/>
<circle cx="1209.3" cy="39.9" r="3.5" fill="url(#sy)"/>
<circle cx="1243.9" cy="40.5" r="3.5" fill="url(#sy)"/>
<circle cx="1105.2" cy="68.4" r="3.5" fill="url(#sy)"/>
<circle cx="1139.9" cy="69" r="3.5" fill="url(#sy)"/>
<circle cx="1174.6" cy="69.6" r="3.5" fill="url(#sy)"/>
<circle cx="1209.3" cy="70.2" r="3.5" fill="url(#sy)"/>
<circle cx="1243.9" cy="70.9" r="3.5" fill="url(#sy)"/>
<circle cx="1268.8" cy="68.2" r="3.5" fill="url(#sy)"/>
<circle cx="1293.6" cy="65.5" r="3.5" fill="url(#sy)"/>
<circle cx="1318.5" cy="62.9" r="3.5" fill="url(#sy)"/>
<polygon points="1098.8,219 1198,208.9 1312.8,212 1312.8,244.1 1238.2,252.1 1098.8,249.4" fill="#5385cc" />
<polygon points="1116,219.3 1133.5,219.5 1133.5,250 1116,249.7" fill="#3f6fb8" opacity="0.85"/>
<polygon points="1150.7,219.8 1168.2,220.1 1168.2,250.7 1150.7,250.4" fill="#3f6fb8" opacity="0.85"/>
<polygon points="1185.4,220.4 1202.9,220.6 1202.9,251.3 1185.4,251" fill="#3f6fb8" opacity="0.85"/>
<polygon points="1220.1,220.9 1237.5,221.2 1237.5,252 1220.1,251.7" fill="#3f6fb8" opacity="0.85"/>
<polygon points="1238.2,221.5 1312.8,214.1 1312.8,244.1 1238.2,252.1" fill="#4677bf" />
<polygon points="1238.2,221.5 1248,220.5 1248,250.8 1238.2,252.1" fill="#5b8fd6" opacity="0.8"/>
<polygon points="1263,219.1 1272.9,218.1 1272.9,248.4 1263,248.9" fill="#5b8fd6" opacity="0.8"/>
<polygon points="1287.9,216.7 1297.7,215.7 1297.7,246 1287.9,245.6" fill="#5b8fd6" opacity="0.8"/>
<polygon points="1098.8,219 1198,208.9 1312.8,212 1312.8,214.1 1238.2,221.5" fill="#4a7ec8" />
<line x1="1098.8" y1="219" x2="1133.5" y2="250" stroke="#8a6cc6" stroke-width="1.8" opacity="0.8"/>
<line x1="1098.8" y1="249.4" x2="1133.5" y2="219.5" stroke="#8a6cc6" stroke-width="1.8" opacity="0.8"/>
<circle cx="1119.4" cy="234.5" r="1.5" fill="#2a2f6a" />
<circle cx="1122.7" cy="246.4" r="3.2" fill="#4f8f8a" opacity="0.6"/>
<line x1="1133.5" y1="219.5" x2="1168.2" y2="250.7" stroke="#8a6cc6" stroke-width="1.8" opacity="0.8"/>
<line x1="1133.5" y1="250" x2="1168.2" y2="220.1" stroke="#8a6cc6" stroke-width="1.8" opacity="0.8"/>
<circle cx="1154.1" cy="235.2" r="1.5" fill="#2a2f6a" />
<circle cx="1157.4" cy="247.1" r="3.2" fill="#4f8f8a" opacity="0.6"/>
<line x1="1168.2" y1="220.1" x2="1202.9" y2="251.3" stroke="#8a6cc6" stroke-width="1.8" opacity="0.8"/>
<line x1="1168.2" y1="250.7" x2="1202.9" y2="220.6" stroke="#8a6cc6" stroke-width="1.8" opacity="0.8"/>
<circle cx="1188.8" cy="235.8" r="1.5" fill="#2a2f6a" />
<circle cx="1192.1" cy="247.8" r="3.2" fill="#4f8f8a" opacity="0.6"/>
<line x1="1202.9" y1="220.6" x2="1237.5" y2="252" stroke="#8a6cc6" stroke-width="1.8" opacity="0.8"/>
<line x1="1202.9" y1="251.3" x2="1237.5" y2="221.2" stroke="#8a6cc6" stroke-width="1.8" opacity="0.8"/>
<circle cx="1223.5" cy="236.4" r="1.5" fill="#2a2f6a" />
<circle cx="1226.8" cy="248.4" r="3.2" fill="#4f8f8a" opacity="0.6"/>
<line x1="1238.2" y1="221.5" x2="1263" y2="249" stroke="#8a6cc6" stroke-width="1.8" opacity="0.8"/>
<line x1="1238.2" y1="251.6" x2="1263" y2="219.1" stroke="#8a6cc6" stroke-width="1.8" opacity="0.8"/>
<circle cx="1253.1" cy="235.8" r="1.5" fill="#2a2f6a" />
<circle cx="1255.5" cy="246.5" r="3" fill="#4f8f8a" opacity="0.6"/>
<line x1="1263" y1="219.1" x2="1287.9" y2="246.4" stroke="#8a6cc6" stroke-width="1.8" opacity="0.8"/>
<line x1="1263" y1="249" x2="1287.9" y2="216.7" stroke="#8a6cc6" stroke-width="1.8" opacity="0.8"/>
<circle cx="1277.9" cy="233.3" r="1.5" fill="#2a2f6a" />
<circle cx="1280.4" cy="243.9" r="3" fill="#4f8f8a" opacity="0.6"/>
<line x1="1287.9" y1="216.7" x2="1312.7" y2="243.7" stroke="#8a6cc6" stroke-width="1.8" opacity="0.8"/>
<line x1="1287.9" y1="246.4" x2="1312.7" y2="214.3" stroke="#8a6cc6" stroke-width="1.8" opacity="0.8"/>
<circle cx="1302.8" cy="230.8" r="1.5" fill="#2a2f6a" />
<circle cx="1305.2" cy="241.3" r="3" fill="#4f8f8a" opacity="0.6"/>
<circle cx="1198.2" cy="209.4" r="3.5" fill="url(#sy)"/>
<circle cx="1232.9" cy="209.9" r="3.5" fill="url(#sy)"/>
<circle cx="1267.6" cy="210.5" r="3.5" fill="url(#sy)"/>
<circle cx="1302.2" cy="211" r="3.5" fill="url(#sy)"/>
<circle cx="1173.3" cy="211.8" r="3.5" fill="url(#sy)"/>
<circle cx="1208" cy="212.3" r="3.5" fill="url(#sy)"/>
<circle cx="1242.7" cy="212.9" r="3.5" fill="url(#sy)"/>
<circle cx="1277.4" cy="213.4" r="3.5" fill="url(#sy)"/>
<circle cx="1312.7" cy="213.9" r="3.5" fill="url(#sy)"/>
<circle cx="1312.1" cy="214" r="3.5" fill="url(#sy)"/>
<circle cx="1148.5" cy="214.2" r="3.5" fill="url(#sy)"/>
<circle cx="1183.2" cy="214.7" r="3.5" fill="url(#sy)"/>
<circle cx="1217.9" cy="215.3" r="3.5" fill="url(#sy)"/>
<circle cx="1252.5" cy="215.8" r="3.5" fill="url(#sy)"/>
<circle cx="1287.9" cy="216.3" r="3.5" fill="url(#sy)"/>
<circle cx="1287.2" cy="216.4" r="3.5" fill="url(#sy)"/>
<circle cx="1123.6" cy="216.6" r="3.5" fill="url(#sy)"/>
<circle cx="1158.3" cy="217.1" r="3.5" fill="url(#sy)"/>
<circle cx="1193" cy="217.7" r="3.5" fill="url(#sy)"/>
<circle cx="1227.7" cy="218.2" r="3.5" fill="url(#sy)"/>
<circle cx="1263" cy="218.7" r="3.5" fill="url(#sy)"/>
<circle cx="1262.4" cy="218.8" r="3.5" fill="url(#sy)"/>
<circle cx="1098.8" cy="219" r="3.5" fill="url(#sy)"/>
<circle cx="1133.5" cy="219.5" r="3.5" fill="url(#sy)"/>
<circle cx="1168.2" cy="220.1" r="3.5" fill="url(#sy)"/>
<circle cx="1202.9" cy="220.6" r="3.5" fill="url(#sy)"/>
<circle cx="1237.5" cy="221.2" r="3.5" fill="url(#sy)"/>
<circle cx="1098.8" cy="249.1" r="3.5" fill="url(#sy)"/>
<circle cx="1133.5" cy="249.7" r="3.5" fill="url(#sy)"/>
<circle cx="1168.2" cy="250.3" r="3.5" fill="url(#sy)"/>
<circle cx="1202.9" cy="250.9" r="3.5" fill="url(#sy)"/>
<circle cx="1237.5" cy="251.6" r="3.5" fill="url(#sy)"/>
<circle cx="1262.4" cy="248.9" r="3.5" fill="url(#sy)"/>
<circle cx="1287.2" cy="246.2" r="3.5" fill="url(#sy)"/>
<circle cx="1312.1" cy="243.6" r="3.5" fill="url(#sy)"/>
<polygon points="1098.8,404.5 1198,394.4 1312.8,397.5 1312.8,429.6 1238.2,437.6 1098.8,434.9" fill="#5385cc" />
<polygon points="1116,404.8 1133.5,405 1133.5,435.5 1116,435.2" fill="#3f6fb8" opacity="0.85"/>
<polygon points="1150.7,405.3 1168.2,405.6 1168.2,436.2 1150.7,435.9" fill="#3f6fb8" opacity="0.85"/>
<polygon points="1185.4,405.9 1202.9,406.1 1202.9,436.8 1185.4,436.5" fill="#3f6fb8" opacity="0.85"/>
<polygon points="1220.1,406.4 1237.5,406.7 1237.5,437.5 1220.1,437.2" fill="#3f6fb8" opacity="0.85"/>
<polygon points="1238.2,407 1312.8,399.6 1312.8,429.6 1238.2,437.6" fill="#4677bf" />
<polygon points="1238.2,407 1248,406 1248,436.3 1238.2,437.6" fill="#5b8fd6" opacity="0.8"/>
<polygon points="1263,404.6 1272.9,403.6 1272.9,433.9 1263,434.4" fill="#5b8fd6" opacity="0.8"/>
<polygon points="1287.9,402.2 1297.7,401.2 1297.7,431.5 1287.9,431.1" fill="#5b8fd6" opacity="0.8"/>
<polygon points="1098.8,404.5 1198,394.4 1312.8,397.5 1312.8,399.6 1238.2,407" fill="#4a7ec8" />
<line x1="1098.8" y1="404.5" x2="1133.5" y2="435.5" stroke="#8a6cc6" stroke-width="1.8" opacity="0.8"/>
<line x1="1098.8" y1="434.9" x2="1133.5" y2="405" stroke="#8a6cc6" stroke-width="1.8" opacity="0.8"/>
<circle cx="1119.4" cy="420" r="1.5" fill="#2a2f6a" />
<circle cx="1122.7" cy="431.9" r="3.2" fill="#4f8f8a" opacity="0.6"/>
<line x1="1133.5" y1="405" x2="1168.2" y2="436.2" stroke="#8a6cc6" stroke-width="1.8" opacity="0.8"/>
<line x1="1133.5" y1="435.5" x2="1168.2" y2="405.6" stroke="#8a6cc6" stroke-width="1.8" opacity="0.8"/>
<circle cx="1154.1" cy="420.7" r="1.5" fill="#2a2f6a" />
<circle cx="1157.4" cy="432.6" r="3.2" fill="#4f8f8a" opacity="0.6"/>
<line x1="1168.2" y1="405.6" x2="1202.9" y2="436.8" stroke="#8a6cc6" stroke-width="1.8" opacity="0.8"/>
<line x1="1168.2" y1="436.2" x2="1202.9" y2="406.1" stroke="#8a6cc6" stroke-width="1.8" opacity="0.8"/>
<circle cx="1188.8" cy="421.3" r="1.5" fill="#2a2f6a" />
<circle cx="1192.1" cy="433.3" r="3.2" fill="#4f8f8a" opacity="0.6"/>
<line x1="1202.9" y1="406.1" x2="1237.5" y2="437.5" stroke="#8a6cc6" stroke-width="1.8" opacity="0.8"/>
<line x1="1202.9" y1="436.8" x2="1237.5" y2="406.7" stroke="#8a6cc6" stroke-width="1.8" opacity="0.8"/>
<circle cx="1223.5" cy="421.9" r="1.5" fill="#2a2f6a" />
<circle cx="1226.8" cy="433.9" r="3.2" fill="#4f8f8a" opacity="0.6"/>
<line x1="1238.2" y1="407" x2="1263" y2="434.5" stroke="#8a6cc6" stroke-width="1.8" opacity="0.8"/>
<line x1="1238.2" y1="437.1" x2="1263" y2="404.6" stroke="#8a6cc6" stroke-width="1.8" opacity="0.8"/>
<circle cx="1253.1" cy="421.3" r="1.5" fill="#2a2f6a" />
<circle cx="1255.5" cy="432" r="3" fill="#4f8f8a" opacity="0.6"/>
<line x1="1263" y1="404.6" x2="1287.9" y2="431.9" stroke="#8a6cc6" stroke-width="1.8" opacity="0.8"/>
<line x1="1263" y1="434.5" x2="1287.9" y2="402.2" stroke="#8a6cc6" stroke-width="1.8" opacity="0.8"/>
<circle cx="1277.9" cy="418.8" r="1.5" fill="#2a2f6a" />
<circle cx="1280.4" cy="429.4" r="3" fill="#4f8f8a" opacity="0.6"/>
<line x1="1287.9" y1="402.2" x2="1312.7" y2="429.2" stroke="#8a6cc6" stroke-width="1.8" opacity="0.8"/>
<line x1="1287.9" y1="431.9" x2="1312.7" y2="399.8" stroke="#8a6cc6" stroke-width="1.8" opacity="0.8"/>
<circle cx="1302.8" cy="416.3" r="1.5" fill="#2a2f6a" />
<circle cx="1305.2" cy="426.8" r="3" fill="#4f8f8a" opacity="0.6"/>
<circle cx="1198.2" cy="394.9" r="3.5" fill="url(#sy)"/>
<circle cx="1232.9" cy="395.4" r="3.5" fill="url(#sy)"/>
<circle cx="1267.6" cy="396" r="3.5" fill="url(#sy)"/>
<circle cx="1302.2" cy="396.5" r="3.5" fill="url(#sy)"/>
<circle cx="1173.3" cy="397.3" r="3.5" fill="url(#sy)"/>
<circle cx="1208" cy="397.8" r="3.5" fill="url(#sy)"/>
<circle cx="1242.7" cy="398.4" r="3.5" fill="url(#sy)"/>
<circle cx="1277.4" cy="398.9" r="3.5" fill="url(#sy)"/>
<circle cx="1312.7" cy="399.4" r="3.5" fill="url(#sy)"/>
<circle cx="1312.1" cy="399.5" r="3.5" fill="url(#sy)"/>
<circle cx="1148.5" cy="399.7" r="3.5" fill="url(#sy)"/>
<circle cx="1183.2" cy="400.2" r="3.5" fill="url(#sy)"/>
<circle cx="1217.9" cy="400.8" r="3.5" fill="url(#sy)"/>
<circle cx="1252.5" cy="401.3" r="3.5" fill="url(#sy)"/>
<circle cx="1287.9" cy="401.8" r="3.5" fill="url(#sy)"/>
<circle cx="1287.2" cy="401.9" r="3.5" fill="url(#sy)"/>
<circle cx="1123.6" cy="402.1" r="3.5" fill="url(#sy)"/>
<circle cx="1158.3" cy="402.6" r="3.5" fill="url(#sy)"/>
<circle cx="1193" cy="403.2" r="3.5" fill="url(#sy)"/>
<circle cx="1227.7" cy="403.7" r="3.5" fill="url(#sy)"/>
<circle cx="1263" cy="404.2" r="3.5" fill="url(#sy)"/>
<circle cx="1262.4" cy="404.3" r="3.5" fill="url(#sy)"/>
<circle cx="1098.8" cy="404.5" r="3.5" fill="url(#sy)"/>
<circle cx="1133.5" cy="405" r="3.5" fill="url(#sy)"/>
<circle cx="1168.2" cy="405.6" r="3.5" fill="url(#sy)"/>
<circle cx="1202.9" cy="406.1" r="3.5" fill="url(#sy)"/>
<circle cx="1237.5" cy="406.7" r="3.5" fill="url(#sy)"/>
<circle cx="1098.8" cy="434.6" r="3.5" fill="url(#sy)"/>
<circle cx="1133.5" cy="435.2" r="3.5" fill="url(#sy)"/>
<circle cx="1168.2" cy="435.8" r="3.5" fill="url(#sy)"/>
<circle cx="1202.9" cy="436.4" r="3.5" fill="url(#sy)"/>
<circle cx="1237.5" cy="437.1" r="3.5" fill="url(#sy)"/>
<circle cx="1262.4" cy="434.4" r="3.5" fill="url(#sy)"/>
<circle cx="1287.2" cy="431.7" r="3.5" fill="url(#sy)"/>
<circle cx="1312.1" cy="429.1" r="3.5" fill="url(#sy)"/>
<line x1="1194.2" y1="88" x2="1188" y2="85.8" stroke="#d9dfe1" stroke-width="1.3" />
<circle cx="1188" cy="85.8" r="1.2" fill="#e9d9de" />
<line x1="1194.2" y1="88" x2="1188.6" y2="90.6" stroke="#d9dfe1" stroke-width="1.3" />
<circle cx="1188.6" cy="90.6" r="1.2" fill="#e9d9de" />
<line x1="1200.4" y1="94.9" x2="1206.6" y2="92.7" stroke="#d9dfe1" stroke-width="1.3" />
<circle cx="1206.6" cy="92.7" r="1.2" fill="#e9d9de" />
<line x1="1200.4" y1="94.9" x2="1206" y2="97.5" stroke="#d9dfe1" stroke-width="1.3" />
<circle cx="1206" cy="97.5" r="1.2" fill="#e9d9de" />
<line x1="1193.4" y1="101.8" x2="1187.2" y2="99.6" stroke="#d9dfe1" stroke-width="1.3" />
<circle cx="1187.2" cy="99.6" r="1.2" fill="#e9d9de" />
<line x1="1193.4" y1="101.8" x2="1187.8" y2="104.4" stroke="#d9dfe1" stroke-width="1.3" />
<circle cx="1187.8" cy="104.4" r="1.2" fill="#e9d9de" />
<line x1="1199.6" y1="108.7" x2="1205.8" y2="106.5" stroke="#d9dfe1" stroke-width="1.3" />
<circle cx="1205.8" cy="106.5" r="1.2" fill="#e9d9de" />
<line x1="1199.6" y1="108.7" x2="1205.2" y2="111.3" stroke="#d9dfe1" stroke-width="1.3" />
<circle cx="1205.2" cy="111.3" r="1.2" fill="#e9d9de" />
<line x1="1192.6" y1="115.6" x2="1186.4" y2="113.4" stroke="#d9dfe1" stroke-width="1.3" />
<circle cx="1186.4" cy="113.4" r="1.2" fill="#e9d9de" />
<line x1="1192.6" y1="115.6" x2="1187" y2="118.2" stroke="#d9dfe1" stroke-width="1.3" />
<circle cx="1187" cy="118.2" r="1.2" fill="#e9d9de" />
<line x1="1198.8" y1="122.5" x2="1205" y2="120.3" stroke="#d9dfe1" stroke-width="1.3" />
<circle cx="1205" cy="120.3" r="1.2" fill="#e9d9de" />
<line x1="1198.8" y1="122.5" x2="1204.4" y2="125.1" stroke="#d9dfe1" stroke-width="1.3" />
<circle cx="1204.4" cy="125.1" r="1.2" fill="#e9d9de" />
<line x1="1191.8" y1="129.4" x2="1185.6" y2="127.2" stroke="#d9dfe1" stroke-width="1.3" />
<circle cx="1185.6" cy="127.2" r="1.2" fill="#e9d9de" />
<line x1="1191.8" y1="129.4" x2="1186.2" y2="132" stroke="#d9dfe1" stroke-width="1.3" />
<circle cx="1186.2" cy="132" r="1.2" fill="#e9d9de" />
<line x1="1198" y1="136.3" x2="1204.2" y2="134.1" stroke="#d9dfe1" stroke-width="1.3" />
<circle cx="1204.2" cy="134.1" r="1.2" fill="#e9d9de" />
<line x1="1198" y1="136.3" x2="1203.6" y2="138.9" stroke="#d9dfe1" stroke-width="1.3" />
<circle cx="1203.6" cy="138.9" r="1.2" fill="#e9d9de" />
<line x1="1191" y1="143.2" x2="1184.8" y2="141" stroke="#d9dfe1" stroke-width="1.3" />
<circle cx="1184.8" cy="141" r="1.2" fill="#e9d9de" />
<line x1="1191" y1="143.2" x2="1185.4" y2="145.8" stroke="#d9dfe1" stroke-width="1.3" />
<circle cx="1185.4" cy="145.8" r="1.2" fill="#e9d9de" />
<line x1="1197.2" y1="150.1" x2="1203.4" y2="147.9" stroke="#d9dfe1" stroke-width="1.3" />
<circle cx="1203.4" cy="147.9" r="1.2" fill="#e9d9de" />
<line x1="1197.2" y1="150.1" x2="1202.8" y2="152.7" stroke="#d9dfe1" stroke-width="1.3" />
<circle cx="1202.8" cy="152.7" r="1.2" fill="#e9d9de" />
<line x1="1190.2" y1="157" x2="1184" y2="154.8" stroke="#d9dfe1" stroke-width="1.3" />
<circle cx="1184" cy="154.8" r="1.2" fill="#e9d9de" />
<line x1="1190.2" y1="157" x2="1184.6" y2="159.6" stroke="#d9dfe1" stroke-width="1.3" />
<circle cx="1184.6" cy="159.6" r="1.2" fill="#e9d9de" />
<line x1="1196.4" y1="163.9" x2="1202.6" y2="161.7" stroke="#d9dfe1" stroke-width="1.3" />
<circle cx="1202.6" cy="161.7" r="1.2" fill="#e9d9de" />
<line x1="1196.4" y1="163.9" x2="1202" y2="166.5" stroke="#d9dfe1" stroke-width="1.3" />
<circle cx="1202" cy="166.5" r="1.2" fill="#e9d9de" />
<line x1="1189.4" y1="170.8" x2="1183.2" y2="168.6" stroke="#d9dfe1" stroke-width="1.3" />
<circle cx="1183.2" cy="168.6" r="1.2" fill="#e9d9de" />
<line x1="1189.4" y1="170.8" x2="1183.8" y2="173.4" stroke="#d9dfe1" stroke-width="1.3" />
<circle cx="1183.8" cy="173.4" r="1.2" fill="#e9d9de" />
<line x1="1195.6" y1="177.7" x2="1201.8" y2="175.5" stroke="#d9dfe1" stroke-width="1.3" />
<circle cx="1201.8" cy="175.5" r="1.2" fill="#e9d9de" />
<line x1="1195.6" y1="177.7" x2="1201.2" y2="180.3" stroke="#d9dfe1" stroke-width="1.3" />
<circle cx="1201.2" cy="180.3" r="1.2" fill="#e9d9de" />
<line x1="1188.6" y1="184.6" x2="1182.4" y2="182.4" stroke="#d9dfe1" stroke-width="1.3" />
<circle cx="1182.4" cy="182.4" r="1.2" fill="#e9d9de" />
<line x1="1188.6" y1="184.6" x2="1183" y2="187.2" stroke="#d9dfe1" stroke-width="1.3" />
<circle cx="1183" cy="187.2" r="1.2" fill="#e9d9de" />
<line x1="1194.8" y1="191.5" x2="1201" y2="189.3" stroke="#d9dfe1" stroke-width="1.3" />
<circle cx="1201" cy="189.3" r="1.2" fill="#e9d9de" />
<line x1="1194.8" y1="191.5" x2="1200.4" y2="194.1" stroke="#d9dfe1" stroke-width="1.3" />
<circle cx="1200.4" cy="194.1" r="1.2" fill="#e9d9de" />
<polyline points="1194.2,88 1200.4,94.9 1193.4,101.8 1199.6,108.7 1192.6,115.6 1198.8,122.5 1191.8,129.4 1198,136.3 1191,143.2 1197.2,150.1 1190.2,157 1196.4,163.9 1189.4,170.8 1195.6,177.7 1188.6,184.6 1194.8,191.5" fill="none" stroke="#5aa9b5" stroke-width="3.2" stroke-linejoin="round"/>
<circle cx="1194.2" cy="88" r="3.5" fill="url(#sc)" />
<circle cx="1200.4" cy="94.9" r="3.5" fill="url(#sc)" />
<circle cx="1193.4" cy="101.8" r="3.5" fill="url(#sc)" />
<circle cx="1199.6" cy="108.7" r="3.5" fill="url(#sc)" />
<circle cx="1192.6" cy="115.6" r="3.5" fill="url(#sc)" />
<circle cx="1198.8" cy="122.5" r="3.5" fill="url(#sc)" />
<circle cx="1191.8" cy="129.4" r="3.5" fill="url(#sc)" />
<circle cx="1198" cy="136.3" r="3.5" fill="url(#sc)" />
<circle cx="1191" cy="143.2" r="3.5" fill="url(#sc)" />
<circle cx="1197.2" cy="150.1" r="3.5" fill="url(#sc)" />
<circle cx="1190.2" cy="157" r="3.5" fill="url(#sc)" />
<circle cx="1196.4" cy="163.9" r="3.5" fill="url(#sc)" />
<circle cx="1189.4" cy="170.8" r="3.5" fill="url(#sc)" />
<circle cx="1195.6" cy="177.7" r="3.5" fill="url(#sc)" />
<circle cx="1188.6" cy="184.6" r="3.5" fill="url(#sc)" />
<circle cx="1194.8" cy="191.5" r="3.5" fill="url(#sc)" />
<line x1="1194.2" y1="88" x2="1184.7" y2="85" stroke="#5aa9b5" stroke-width="2.6" />
<circle cx="1180.2" cy="80.8" r="1.2" fill="#e9d9de" />
<circle cx="1189.5" cy="81.2" r="1.2" fill="#e9d9de" />
<circle cx="1185.3" cy="91" r="1.2" fill="#e9d9de" />
<circle cx="1184.7" cy="85" r="3.7" fill="url(#sc)" />
<line x1="1194.2" y1="88" x2="1202.7" y2="83" stroke="#5aa9b5" stroke-width="2.6" />
<circle cx="1198.2" cy="78.8" r="1.2" fill="#e9d9de" />
<circle cx="1207.5" cy="79.2" r="1.2" fill="#e9d9de" />
<circle cx="1203.3" cy="89" r="1.2" fill="#e9d9de" />
<circle cx="1202.7" cy="83" r="3.7" fill="url(#sc)" />
<line x1="1194.2" y1="88" x2="1187.7" y2="95" stroke="#5aa9b5" stroke-width="2.6" />
<circle cx="1183.2" cy="90.8" r="1.2" fill="#e9d9de" />
<circle cx="1192.5" cy="91.2" r="1.2" fill="#e9d9de" />
<circle cx="1188.3" cy="101" r="1.2" fill="#e9d9de" />
<circle cx="1187.7" cy="95" r="3.7" fill="url(#sc)" />
<line x1="1194.2" y1="88" x2="1203.7" y2="92.5" stroke="#5aa9b5" stroke-width="2.6" />
<circle cx="1199.2" cy="88.2" r="1.2" fill="#e9d9de" />
<circle cx="1208.5" cy="88.8" r="1.2" fill="#e9d9de" />
<circle cx="1204.3" cy="98.5" r="1.2" fill="#e9d9de" />
<circle cx="1203.7" cy="92.5" r="3.7" fill="url(#sc)" />
<rect x="1191.1" y="84.9" width="6.2" height="6.2" fill="#3a1238" rx="1.6" transform="rotate(20 1194.2 88)"/>
<line x1="1232.7" y1="85" x2="1226.5" y2="82.8" stroke="#d9dfe1" stroke-width="1.3" />
<circle cx="1226.5" cy="82.8" r="1.2" fill="#e9d9de" />
<line x1="1232.7" y1="85" x2="1227.1" y2="87.6" stroke="#d9dfe1" stroke-width="1.3" />
<circle cx="1227.1" cy="87.6" r="1.2" fill="#e9d9de" />
<line x1="1238.8" y1="91.9" x2="1245" y2="89.7" stroke="#d9dfe1" stroke-width="1.3" />
<circle cx="1245" cy="89.7" r="1.2" fill="#e9d9de" />
<line x1="1238.8" y1="91.9" x2="1244.4" y2="94.5" stroke="#d9dfe1" stroke-width="1.3" />
<circle cx="1244.4" cy="94.5" r="1.2" fill="#e9d9de" />
<line x1="1231.8" y1="98.9" x2="1225.6" y2="96.7" stroke="#d9dfe1" stroke-width="1.3" />
<circle cx="1225.6" cy="96.7" r="1.2" fill="#e9d9de" />
<line x1="1231.8" y1="98.9" x2="1226.2" y2="101.5" stroke="#d9dfe1" stroke-width="1.3" />
<circle cx="1226.2" cy="101.5" r="1.2" fill="#e9d9de" />
<line x1="1237.9" y1="105.8" x2="1244.1" y2="103.6" stroke="#d9dfe1" stroke-width="1.3" />
<circle cx="1244.1" cy="103.6" r="1.2" fill="#e9d9de" />
<line x1="1237.9" y1="105.8" x2="1243.5" y2="108.4" stroke="#d9dfe1" stroke-width="1.3" />
<circle cx="1243.5" cy="108.4" r="1.2" fill="#e9d9de" />
<line x1="1230.8" y1="112.7" x2="1224.6" y2="110.5" stroke="#d9dfe1" stroke-width="1.3" />
<circle cx="1224.6" cy="110.5" r="1.2" fill="#e9d9de" />
<line x1="1230.8" y1="112.7" x2="1225.2" y2="115.3" stroke="#d9dfe1" stroke-width="1.3" />
<circle cx="1225.2" cy="115.3" r="1.2" fill="#e9d9de" />
<line x1="1237" y1="119.7" x2="1243.2" y2="117.5" stroke="#d9dfe1" stroke-width="1.3" />
<circle cx="1243.2" cy="117.5" r="1.2" fill="#e9d9de" />
<line x1="1237" y1="119.7" x2="1242.6" y2="122.3" stroke="#d9dfe1" stroke-width="1.3" />
<circle cx="1242.6" cy="122.3" r="1.2" fill="#e9d9de" />
<line x1="1229.9" y1="126.6" x2="1223.7" y2="124.4" stroke="#d9dfe1" stroke-width="1.3" />
<circle cx="1223.7" cy="124.4" r="1.2" fill="#e9d9de" />
<line x1="1229.9" y1="126.6" x2="1224.3" y2="129.2" stroke="#d9dfe1" stroke-width="1.3" />
<circle cx="1224.3" cy="129.2" r="1.2" fill="#e9d9de" />
<line x1="1236" y1="133.5" x2="1242.2" y2="131.3" stroke="#d9dfe1" stroke-width="1.3" />
<circle cx="1242.2" cy="131.3" r="1.2" fill="#e9d9de" />
<line x1="1236" y1="133.5" x2="1241.6" y2="136.1" stroke="#d9dfe1" stroke-width="1.3" />
<circle cx="1241.6" cy="136.1" r="1.2" fill="#e9d9de" />
<line x1="1229" y1="140.5" x2="1222.8" y2="138.3" stroke="#d9dfe1" stroke-width="1.3" />
<circle cx="1222.8" cy="138.3" r="1.2" fill="#e9d9de" />
<line x1="1229" y1="140.5" x2="1223.4" y2="143.1" stroke="#d9dfe1" stroke-width="1.3" />
<circle cx="1223.4" cy="143.1" r="1.2" fill="#e9d9de" />
<line x1="1235.1" y1="147.4" x2="1241.3" y2="145.2" stroke="#d9dfe1" stroke-width="1.3" />
<circle cx="1241.3" cy="145.2" r="1.2" fill="#e9d9de" />
<line x1="1235.1" y1="147.4" x2="1240.7" y2="150" stroke="#d9dfe1" stroke-width="1.3" />
<circle cx="1240.7" cy="150" r="1.2" fill="#e9d9de" />
<line x1="1228" y1="154.3" x2="1221.8" y2="152.1" stroke="#d9dfe1" stroke-width="1.3" />
<circle cx="1221.8" cy="152.1" r="1.2" fill="#e9d9de" />
<line x1="1228" y1="154.3" x2="1222.4" y2="156.9" stroke="#d9dfe1" stroke-width="1.3" />
<circle cx="1222.4" cy="156.9" r="1.2" fill="#e9d9de" />
<line x1="1234.2" y1="161.3" x2="1240.4" y2="159.1" stroke="#d9dfe1" stroke-width="1.3" />
<circle cx="1240.4" cy="159.1" r="1.2" fill="#e9d9de" />
<line x1="1234.2" y1="161.3" x2="1239.8" y2="163.9" stroke="#d9dfe1" stroke-width="1.3" />
<circle cx="1239.8" cy="163.9" r="1.2" fill="#e9d9de" />
<line x1="1227.1" y1="168.2" x2="1220.9" y2="166" stroke="#d9dfe1" stroke-width="1.3" />
<circle cx="1220.9" cy="166" r="1.2" fill="#e9d9de" />
<line x1="1227.1" y1="168.2" x2="1221.5" y2="170.8" stroke="#d9dfe1" stroke-width="1.3" />
<circle cx="1221.5" cy="170.8" r="1.2" fill="#e9d9de" />
<line x1="1233.2" y1="175.1" x2="1239.4" y2="172.9" stroke="#d9dfe1" stroke-width="1.3" />
<circle cx="1239.4" cy="172.9" r="1.2" fill="#e9d9de" />
<line x1="1233.2" y1="175.1" x2="1238.8" y2="177.7" stroke="#d9dfe1" stroke-width="1.3" />
<circle cx="1238.8" cy="177.7" r="1.2" fill="#e9d9de" />
<line x1="1226.2" y1="182.1" x2="1220" y2="179.9" stroke="#d9dfe1" stroke-width="1.3" />
<circle cx="1220" cy="179.9" r="1.2" fill="#e9d9de" />
<line x1="1226.2" y1="182.1" x2="1220.6" y2="184.7" stroke="#d9dfe1" stroke-width="1.3" />
<circle cx="1220.6" cy="184.7" r="1.2" fill="#e9d9de" />
<line x1="1232.3" y1="189" x2="1238.5" y2="186.8" stroke="#d9dfe1" stroke-width="1.3" />
<circle cx="1238.5" cy="186.8" r="1.2" fill="#e9d9de" />
<line x1="1232.3" y1="189" x2="1237.9" y2="191.6" stroke="#d9dfe1" stroke-width="1.3" />
<circle cx="1237.9" cy="191.6" r="1.2" fill="#e9d9de" />
<polyline points="1232.7,85 1238.8,91.9 1231.8,98.9 1237.9,105.8 1230.8,112.7 1237,119.7 1229.9,126.6 1236,133.5 1229,140.5 1235.1,147.4 1228,154.3 1234.2,161.3 1227.1,168.2 1233.2,175.1 1226.2,182.1 1232.3,189" fill="none" stroke="#5aa9b5" stroke-width="3.2" stroke-linejoin="round"/>
<circle cx="1232.7" cy="85" r="3.5" fill="url(#sc)" />
<circle cx="1238.8" cy="91.9" r="3.5" fill="url(#sc)" />
<circle cx="1231.8" cy="98.9" r="3.5" fill="url(#sc)" />
<circle cx="1237.9" cy="105.8" r="3.5" fill="url(#sc)" />
<circle cx="1230.8" cy="112.7" r="3.5" fill="url(#sc)" />
<circle cx="1237" cy="119.7" r="3.5" fill="url(#sc)" />
<circle cx="1229.9" cy="126.6" r="3.5" fill="url(#sc)" />
<circle cx="1236" cy="133.5" r="3.5" fill="url(#sc)" />
<circle cx="1229" cy="140.5" r="3.5" fill="url(#sc)" />
<circle cx="1235.1" cy="147.4" r="3.5" fill="url(#sc)" />
<circle cx="1228" cy="154.3" r="3.5" fill="url(#sc)" />
<circle cx="1234.2" cy="161.3" r="3.5" fill="url(#sc)" />
<circle cx="1227.1" cy="168.2" r="3.5" fill="url(#sc)" />
<circle cx="1233.2" cy="175.1" r="3.5" fill="url(#sc)" />
<circle cx="1226.2" cy="182.1" r="3.5" fill="url(#sc)" />
<circle cx="1232.3" cy="189" r="3.5" fill="url(#sc)" />
<line x1="1232.3" y1="189" x2="1222.8" y2="186" stroke="#5aa9b5" stroke-width="2.6" />
<circle cx="1218.3" cy="181.8" r="1.2" fill="#e9d9de" />
<circle cx="1227.5" cy="182.2" r="1.2" fill="#e9d9de" />
<circle cx="1223.4" cy="192" r="1.2" fill="#e9d9de" />
<circle cx="1222.8" cy="186" r="3.7" fill="url(#sc)" />
<line x1="1232.3" y1="189" x2="1240.8" y2="184" stroke="#5aa9b5" stroke-width="2.6" />
<circle cx="1236.3" cy="179.8" r="1.2" fill="#e9d9de" />
<circle cx="1245.5" cy="180.2" r="1.2" fill="#e9d9de" />
<circle cx="1241.4" cy="190" r="1.2" fill="#e9d9de" />
<circle cx="1240.8" cy="184" r="3.7" fill="url(#sc)" />
<line x1="1232.3" y1="189" x2="1225.8" y2="196" stroke="#5aa9b5" stroke-width="2.6" />
<circle cx="1221.3" cy="191.8" r="1.2" fill="#e9d9de" />
<circle cx="1230.5" cy="192.2" r="1.2" fill="#e9d9de" />
<circle cx="1226.4" cy="202" r="1.2" fill="#e9d9de" />
<circle cx="1225.8" cy="196" r="3.7" fill="url(#sc)" />
<line x1="1232.3" y1="189" x2="1241.8" y2="193.5" stroke="#5aa9b5" stroke-width="2.6" />
<circle cx="1237.3" cy="189.2" r="1.2" fill="#e9d9de" />
<circle cx="1246.5" cy="189.8" r="1.2" fill="#e9d9de" />
<circle cx="1242.4" cy="199.5" r="1.2" fill="#e9d9de" />
<circle cx="1241.8" cy="193.5" r="3.7" fill="url(#sc)" />
<rect x="1229.2" y="185.9" width="6.2" height="6.2" fill="#3a1238" rx="1.6" transform="rotate(20 1232.3 189)"/>
<line x1="1185" y1="276.5" x2="1178.8" y2="274.3" stroke="#d9dfe1" stroke-width="1.3" />
<circle cx="1178.8" cy="274.3" r="1.2" fill="#e9d9de" />
<line x1="1185" y1="276.5" x2="1179.4" y2="279.1" stroke="#d9dfe1" stroke-width="1.3" />
<circle cx="1179.4" cy="279.1" r="1.2" fill="#e9d9de" />
<line x1="1191.3" y1="283.5" x2="1197.5" y2="281.3" stroke="#d9dfe1" stroke-width="1.3" />
<circle cx="1197.5" cy="281.3" r="1.2" fill="#e9d9de" />
<line x1="1191.3" y1="283.5" x2="1196.9" y2="286.1" stroke="#d9dfe1" stroke-width="1.3" />
<circle cx="1196.9" cy="286.1" r="1.2" fill="#e9d9de" />
<line x1="1184.4" y1="290.4" x2="1178.2" y2="288.2" stroke="#d9dfe1" stroke-width="1.3" />
<circle cx="1178.2" cy="288.2" r="1.2" fill="#e9d9de" />
<line x1="1184.4" y1="290.4" x2="1178.8" y2="293" stroke="#d9dfe1" stroke-width="1.3" />
<circle cx="1178.8" cy="293" r="1.2" fill="#e9d9de" />
<line x1="1190.7" y1="297.4" x2="1196.9" y2="295.2" stroke="#d9dfe1" stroke-width="1.3" />
<circle cx="1196.9" cy="295.2" r="1.2" fill="#e9d9de" />
<line x1="1190.7" y1="297.4" x2="1196.3" y2="300" stroke="#d9dfe1" stroke-width="1.3" />
<circle cx="1196.3" cy="300" r="1.2" fill="#e9d9de" />
<line x1="1183.9" y1="304.4" x2="1177.7" y2="302.2" stroke="#d9dfe1" stroke-width="1.3" />
<circle cx="1177.7" cy="302.2" r="1.2" fill="#e9d9de" />
<line x1="1183.9" y1="304.4" x2="1178.3" y2="307" stroke="#d9dfe1" stroke-width="1.3" />
<circle cx="1178.3" cy="307" r="1.2" fill="#e9d9de" />
<line x1="1190.2" y1="311.3" x2="1196.4" y2="309.1" stroke="#d9dfe1" stroke-width="1.3" />
<circle cx="1196.4" cy="309.1" r="1.2" fill="#e9d9de" />
<line x1="1190.2" y1="311.3" x2="1195.8" y2="313.9" stroke="#d9dfe1" stroke-width="1.3" />
<circle cx="1195.8" cy="313.9" r="1.2" fill="#e9d9de" />
<line x1="1183.3" y1="318.3" x2="1177.1" y2="316.1" stroke="#d9dfe1" stroke-width="1.3" />
<circle cx="1177.1" cy="316.1" r="1.2" fill="#e9d9de" />
<line x1="1183.3" y1="318.3" x2="1177.7" y2="320.9" stroke="#d9dfe1" stroke-width="1.3" />
<circle cx="1177.7" cy="320.9" r="1.2" fill="#e9d9de" />
<line x1="1189.6" y1="325.3" x2="1195.8" y2="323.1" stroke="#d9dfe1" stroke-width="1.3" />
<circle cx="1195.8" cy="323.1" r="1.2" fill="#e9d9de" />
<line x1="1189.6" y1="325.3" x2="1195.2" y2="327.9" stroke="#d9dfe1" stroke-width="1.3" />
<circle cx="1195.2" cy="327.9" r="1.2" fill="#e9d9de" />
<line x1="1182.7" y1="332.2" x2="1176.5" y2="330" stroke="#d9dfe1" stroke-width="1.3" />
<circle cx="1176.5" cy="330" r="1.2" fill="#e9d9de" />
<line x1="1182.7" y1="332.2" x2="1177.1" y2="334.8" stroke="#d9dfe1" stroke-width="1.3" />
<circle cx="1177.1" cy="334.8" r="1.2" fill="#e9d9de" />
<line x1="1189" y1="339.2" x2="1195.2" y2="337" stroke="#d9dfe1" stroke-width="1.3" />
<circle cx="1195.2" cy="337" r="1.2" fill="#e9d9de" />
<line x1="1189" y1="339.2" x2="1194.6" y2="341.8" stroke="#d9dfe1" stroke-width="1.3" />
<circle cx="1194.6" cy="341.8" r="1.2" fill="#e9d9de" />
<line x1="1182.1" y1="346.2" x2="1175.9" y2="344" stroke="#d9dfe1" stroke-width="1.3" />
<circle cx="1175.9" cy="344" r="1.2" fill="#e9d9de" />
<line x1="1182.1" y1="346.2" x2="1176.5" y2="348.8" stroke="#d9dfe1" stroke-width="1.3" />
<circle cx="1176.5" cy="348.8" r="1.2" fill="#e9d9de" />
<line x1="1188.4" y1="353.1" x2="1194.6" y2="350.9" stroke="#d9dfe1" stroke-width="1.3" />
<circle cx="1194.6" cy="350.9" r="1.2" fill="#e9d9de" />
<line x1="1188.4" y1="353.1" x2="1194" y2="355.7" stroke="#d9dfe1" stroke-width="1.3" />
<circle cx="1194" cy="355.7" r="1.2" fill="#e9d9de" />
<line x1="1181.6" y1="360.1" x2="1175.4" y2="357.9" stroke="#d9dfe1" stroke-width="1.3" />
<circle cx="1175.4" cy="357.9" r="1.2" fill="#e9d9de" />
<line x1="1181.6" y1="360.1" x2="1176" y2="362.7" stroke="#d9dfe1" stroke-width="1.3" />
<circle cx="1176" cy="362.7" r="1.2" fill="#e9d9de" />
<line x1="1187.9" y1="367.1" x2="1194.1" y2="364.9" stroke="#d9dfe1" stroke-width="1.3" />
<circle cx="1194.1" cy="364.9" r="1.2" fill="#e9d9de" />
<line x1="1187.9" y1="367.1" x2="1193.5" y2="369.7" stroke="#d9dfe1" stroke-width="1.3" />
<circle cx="1193.5" cy="369.7" r="1.2" fill="#e9d9de" />
<line x1="1181" y1="374" x2="1174.8" y2="371.8" stroke="#d9dfe1" stroke-width="1.3" />
<circle cx="1174.8" cy="371.8" r="1.2" fill="#e9d9de" />
<line x1="1181" y1="374" x2="1175.4" y2="376.6" stroke="#d9dfe1" stroke-width="1.3" />
<circle cx="1175.4" cy="376.6" r="1.2" fill="#e9d9de" />
<line x1="1187.3" y1="381" x2="1193.5" y2="378.8" stroke="#d9dfe1" stroke-width="1.3" />
<circle cx="1193.5" cy="378.8" r="1.2" fill="#e9d9de" />
<line x1="1187.3" y1="381" x2="1192.9" y2="383.6" stroke="#d9dfe1" stroke-width="1.3" />
<circle cx="1192.9" cy="383.6" r="1.2" fill="#e9d9de" />
<polyline points="1185,276.5 1191.3,283.5 1184.4,290.4 1190.7,297.4 1183.9,304.4 1190.2,311.3 1183.3,318.3 1189.6,325.3 1182.7,332.2 1189,339.2 1182.1,346.2 1188.4,353.1 1181.6,360.1 1187.9,367.1 1181,374 1187.3,381" fill="none" stroke="#5aa9b5" stroke-width="3.2" stroke-linejoin="round"/>
<circle cx="1185" cy="276.5" r="3.5" fill="url(#sc)" />
<circle cx="1191.3" cy="283.5" r="3.5" fill="url(#sc)" />
<circle cx="1184.4" cy="290.4" r="3.5" fill="url(#sc)" />
<circle cx="1190.7" cy="297.4" r="3.5" fill="url(#sc)" />
<circle cx="1183.9" cy="304.4" r="3.5" fill="url(#sc)" />
<circle cx="1190.2" cy="311.3" r="3.5" fill="url(#sc)" />
<circle cx="1183.3" cy="318.3" r="3.5" fill="url(#sc)" />
<circle cx="1189.6" cy="325.3" r="3.5" fill="url(#sc)" />
<circle cx="1182.7" cy="332.2" r="3.5" fill="url(#sc)" />
<circle cx="1189" cy="339.2" r="3.5" fill="url(#sc)" />
<circle cx="1182.1" cy="346.2" r="3.5" fill="url(#sc)" />
<circle cx="1188.4" cy="353.1" r="3.5" fill="url(#sc)" />
<circle cx="1181.6" cy="360.1" r="3.5" fill="url(#sc)" />
<circle cx="1187.9" cy="367.1" r="3.5" fill="url(#sc)" />
<circle cx="1181" cy="374" r="3.5" fill="url(#sc)" />
<circle cx="1187.3" cy="381" r="3.5" fill="url(#sc)" />
<line x1="1185" y1="276.5" x2="1175.5" y2="273.5" stroke="#5aa9b5" stroke-width="2.6" />
<circle cx="1171" cy="269.2" r="1.2" fill="#e9d9de" />
<circle cx="1180.2" cy="269.8" r="1.2" fill="#e9d9de" />
<circle cx="1176.1" cy="279.5" r="1.2" fill="#e9d9de" />
<circle cx="1175.5" cy="273.5" r="3.7" fill="url(#sc)" />
<line x1="1185" y1="276.5" x2="1193.5" y2="271.5" stroke="#5aa9b5" stroke-width="2.6" />
<circle cx="1189" cy="267.2" r="1.2" fill="#e9d9de" />
<circle cx="1198.2" cy="267.8" r="1.2" fill="#e9d9de" />
<circle cx="1194.1" cy="277.5" r="1.2" fill="#e9d9de" />
<circle cx="1193.5" cy="271.5" r="3.7" fill="url(#sc)" />
<line x1="1185" y1="276.5" x2="1178.5" y2="283.5" stroke="#5aa9b5" stroke-width="2.6" />
<circle cx="1174" cy="279.2" r="1.2" fill="#e9d9de" />
<circle cx="1183.2" cy="279.8" r="1.2" fill="#e9d9de" />
<circle cx="1179.1" cy="289.5" r="1.2" fill="#e9d9de" />
<circle cx="1178.5" cy="283.5" r="3.7" fill="url(#sc)" />
<line x1="1185" y1="276.5" x2="1194.5" y2="281" stroke="#5aa9b5" stroke-width="2.6" />
<circle cx="1190" cy="276.8" r="1.2" fill="#e9d9de" />
<circle cx="1199.2" cy="277.2" r="1.2" fill="#e9d9de" />
<circle cx="1195.1" cy="287" r="1.2" fill="#e9d9de" />
<circle cx="1194.5" cy="281" r="3.7" fill="url(#sc)" />
<rect x="1181.9" y="273.4" width="6.2" height="6.2" fill="#3a1238" rx="1.6" transform="rotate(20 1185 276.5)"/>
<line x1="1224.7" y1="272" x2="1218.5" y2="269.8" stroke="#d9dfe1" stroke-width="1.3" />
<circle cx="1218.5" cy="269.8" r="1.2" fill="#e9d9de" />
<line x1="1224.7" y1="272" x2="1219.1" y2="274.6" stroke="#d9dfe1" stroke-width="1.3" />
<circle cx="1219.1" cy="274.6" r="1.2" fill="#e9d9de" />
<line x1="1230.8" y1="279" x2="1237" y2="276.8" stroke="#d9dfe1" stroke-width="1.3" />
<circle cx="1237" cy="276.8" r="1.2" fill="#e9d9de" />
<line x1="1230.8" y1="279" x2="1236.4" y2="281.6" stroke="#d9dfe1" stroke-width="1.3" />
<circle cx="1236.4" cy="281.6" r="1.2" fill="#e9d9de" />
<line x1="1223.7" y1="286" x2="1217.5" y2="283.8" stroke="#d9dfe1" stroke-width="1.3" />
<circle cx="1217.5" cy="283.8" r="1.2" fill="#e9d9de" />
<line x1="1223.7" y1="286" x2="1218.1" y2="288.6" stroke="#d9dfe1" stroke-width="1.3" />
<circle cx="1218.1" cy="288.6" r="1.2" fill="#e9d9de" />
<line x1="1229.8" y1="293" x2="1236" y2="290.8" stroke="#d9dfe1" stroke-width="1.3" />
<circle cx="1236" cy="290.8" r="1.2" fill="#e9d9de" />
<line x1="1229.8" y1="293" x2="1235.4" y2="295.6" stroke="#d9dfe1" stroke-width="1.3" />
<circle cx="1235.4" cy="295.6" r="1.2" fill="#e9d9de" />
<line x1="1222.6" y1="300" x2="1216.4" y2="297.8" stroke="#d9dfe1" stroke-width="1.3" />
<circle cx="1216.4" cy="297.8" r="1.2" fill="#e9d9de" />
<line x1="1222.6" y1="300" x2="1217" y2="302.6" stroke="#d9dfe1" stroke-width="1.3" />
<circle cx="1217" cy="302.6" r="1.2" fill="#e9d9de" />
<line x1="1228.7" y1="307" x2="1234.9" y2="304.8" stroke="#d9dfe1" stroke-width="1.3" />
<circle cx="1234.9" cy="304.8" r="1.2" fill="#e9d9de" />
<line x1="1228.7" y1="307" x2="1234.3" y2="309.6" stroke="#d9dfe1" stroke-width="1.3" />
<circle cx="1234.3" cy="309.6" r="1.2" fill="#e9d9de" />
<line x1="1221.6" y1="314" x2="1215.4" y2="311.8" stroke="#d9dfe1" stroke-width="1.3" />
<circle cx="1215.4" cy="311.8" r="1.2" fill="#e9d9de" />
<line x1="1221.6" y1="314" x2="1216" y2="316.6" stroke="#d9dfe1" stroke-width="1.3" />
<circle cx="1216" cy="316.6" r="1.2" fill="#e9d9de" />
<line x1="1227.7" y1="321" x2="1233.9" y2="318.8" stroke="#d9dfe1" stroke-width="1.3" />
<circle cx="1233.9" cy="318.8" r="1.2" fill="#e9d9de" />
<line x1="1227.7" y1="321" x2="1233.3" y2="323.6" stroke="#d9dfe1" stroke-width="1.3" />
<circle cx="1233.3" cy="323.6" r="1.2" fill="#e9d9de" />
<line x1="1220.6" y1="328" x2="1214.4" y2="325.8" stroke="#d9dfe1" stroke-width="1.3" />
<circle cx="1214.4" cy="325.8" r="1.2" fill="#e9d9de" />
<line x1="1220.6" y1="328" x2="1215" y2="330.6" stroke="#d9dfe1" stroke-width="1.3" />
<circle cx="1215" cy="330.6" r="1.2" fill="#e9d9de" />
<line x1="1226.7" y1="335" x2="1232.9" y2="332.8" stroke="#d9dfe1" stroke-width="1.3" />
<circle cx="1232.9" cy="332.8" r="1.2" fill="#e9d9de" />
<line x1="1226.7" y1="335" x2="1232.3" y2="337.6" stroke="#d9dfe1" stroke-width="1.3" />
<circle cx="1232.3" cy="337.6" r="1.2" fill="#e9d9de" />
<line x1="1219.6" y1="342" x2="1213.4" y2="339.8" stroke="#d9dfe1" stroke-width="1.3" />
<circle cx="1213.4" cy="339.8" r="1.2" fill="#e9d9de" />
<line x1="1219.6" y1="342" x2="1214" y2="344.6" stroke="#d9dfe1" stroke-width="1.3" />
<circle cx="1214" cy="344.6" r="1.2" fill="#e9d9de" />
<line x1="1225.7" y1="349" x2="1231.9" y2="346.8" stroke="#d9dfe1" stroke-width="1.3" />
<circle cx="1231.9" cy="346.8" r="1.2" fill="#e9d9de" />
<line x1="1225.7" y1="349" x2="1231.3" y2="351.6" stroke="#d9dfe1" stroke-width="1.3" />
<circle cx="1231.3" cy="351.6" r="1.2" fill="#e9d9de" />
<line x1="1218.5" y1="356" x2="1212.3" y2="353.8" stroke="#d9dfe1" stroke-width="1.3" />
<circle cx="1212.3" cy="353.8" r="1.2" fill="#e9d9de" />
<line x1="1218.5" y1="356" x2="1212.9" y2="358.6" stroke="#d9dfe1" stroke-width="1.3" />
<circle cx="1212.9" cy="358.6" r="1.2" fill="#e9d9de" />
<line x1="1224.6" y1="363" x2="1230.8" y2="360.8" stroke="#d9dfe1" stroke-width="1.3" />
<circle cx="1230.8" cy="360.8" r="1.2" fill="#e9d9de" />
<line x1="1224.6" y1="363" x2="1230.2" y2="365.6" stroke="#d9dfe1" stroke-width="1.3" />
<circle cx="1230.2" cy="365.6" r="1.2" fill="#e9d9de" />
<line x1="1217.5" y1="370" x2="1211.3" y2="367.8" stroke="#d9dfe1" stroke-width="1.3" />
<circle cx="1211.3" cy="367.8" r="1.2" fill="#e9d9de" />
<line x1="1217.5" y1="370" x2="1211.9" y2="372.6" stroke="#d9dfe1" stroke-width="1.3" />
<circle cx="1211.9" cy="372.6" r="1.2" fill="#e9d9de" />
<line x1="1223.6" y1="377" x2="1229.8" y2="374.8" stroke="#d9dfe1" stroke-width="1.3" />
<circle cx="1229.8" cy="374.8" r="1.2" fill="#e9d9de" />
<line x1="1223.6" y1="377" x2="1229.2" y2="379.6" stroke="#d9dfe1" stroke-width="1.3" />
<circle cx="1229.2" cy="379.6" r="1.2" fill="#e9d9de" />
<polyline points="1224.7,272 1230.8,279 1223.7,286 1229.8,293 1222.6,300 1228.7,307 1221.6,314 1227.7,321 1220.6,328 1226.7,335 1219.6,342 1225.7,349 1218.5,356 1224.6,363 1217.5,370 1223.6,377" fill="none" stroke="#5aa9b5" stroke-width="3.2" stroke-linejoin="round"/>
<circle cx="1224.7" cy="272" r="3.5" fill="url(#sc)" />
<circle cx="1230.8" cy="279" r="3.5" fill="url(#sc)" />
<circle cx="1223.7" cy="286" r="3.5" fill="url(#sc)" />
<circle cx="1229.8" cy="293" r="3.5" fill="url(#sc)" />
<circle cx="1222.6" cy="300" r="3.5" fill="url(#sc)" />
<circle cx="1228.7" cy="307" r="3.5" fill="url(#sc)" />
<circle cx="1221.6" cy="314" r="3.5" fill="url(#sc)" />
<circle cx="1227.7" cy="321" r="3.5" fill="url(#sc)" />
<circle cx="1220.6" cy="328" r="3.5" fill="url(#sc)" />
<circle cx="1226.7" cy="335" r="3.5" fill="url(#sc)" />
<circle cx="1219.6" cy="342" r="3.5" fill="url(#sc)" />
<circle cx="1225.7" cy="349" r="3.5" fill="url(#sc)" />
<circle cx="1218.5" cy="356" r="3.5" fill="url(#sc)" />
<circle cx="1224.6" cy="363" r="3.5" fill="url(#sc)" />
<circle cx="1217.5" cy="370" r="3.5" fill="url(#sc)" />
<circle cx="1223.6" cy="377" r="3.5" fill="url(#sc)" />
<line x1="1223.6" y1="377" x2="1214.1" y2="374" stroke="#5aa9b5" stroke-width="2.6" />
<circle cx="1209.6" cy="369.8" r="1.2" fill="#e9d9de" />
<circle cx="1218.8" cy="370.2" r="1.2" fill="#e9d9de" />
<circle cx="1214.7" cy="380" r="1.2" fill="#e9d9de" />
<circle cx="1214.1" cy="374" r="3.7" fill="url(#sc)" />
<line x1="1223.6" y1="377" x2="1232.1" y2="372" stroke="#5aa9b5" stroke-width="2.6" />
<circle cx="1227.6" cy="367.8" r="1.2" fill="#e9d9de" />
<circle cx="1236.8" cy="368.2" r="1.2" fill="#e9d9de" />
<circle cx="1232.7" cy="378" r="1.2" fill="#e9d9de" />
<circle cx="1232.1" cy="372" r="3.7" fill="url(#sc)" />
<line x1="1223.6" y1="377" x2="1217.1" y2="384" stroke="#5aa9b5" stroke-width="2.6" />
<circle cx="1212.6" cy="379.8" r="1.2" fill="#e9d9de" />
<circle cx="1221.8" cy="380.2" r="1.2" fill="#e9d9de" />
<circle cx="1217.7" cy="390" r="1.2" fill="#e9d9de" />
<circle cx="1217.1" cy="384" r="3.7" fill="url(#sc)" />
<line x1="1223.6" y1="377" x2="1233.1" y2="381.5" stroke="#5aa9b5" stroke-width="2.6" />
<circle cx="1228.6" cy="377.2" r="1.2" fill="#e9d9de" />
<circle cx="1237.8" cy="377.8" r="1.2" fill="#e9d9de" />
<circle cx="1233.7" cy="387.5" r="1.2" fill="#e9d9de" />
<circle cx="1233.1" cy="381.5" r="3.7" fill="url(#sc)" />
<rect x="1220.5" y="373.9" width="6.2" height="6.2" fill="#3a1238" rx="1.6" transform="rotate(20 1223.6 377)"/>
<text x="1134.8" y="498.5" font-size="37.5" fill="#111" textLength="202.5" lengthAdjust="spacingAndGlyphs">TaS<tspan font-size="25" dy="9">2</tspan><tspan dy="-9">(CTA</tspan><tspan font-size="25" dy="-13">+</tspan><tspan dy="13">)</tspan><tspan font-size="25" dy="9">x</tspan></text>
<text x="7.8" y="579.2" font-size="38.5" fill="#231815" textLength="49.3" lengthAdjust="spacingAndGlyphs">(d)</text>
<clipPath id="cd"><rect x="127.8" y="566" width="454" height="691"/></clipPath>
<g stroke-linecap="round" stroke-linejoin="round" clip-path="url(#cd)">
<polyline points="148.4,1210.5 148.9,1187.1 149.6,1178.6 151.7,1178.3 153.1,1178.2 154.5,1178.2 156,1178.2 157.4,1178.2 158.8,1178.1 160.3,1178 161.7,1178 163.1,1177.9 164.6,1177.8 166,1177.7 167.4,1177.6 168.8,1177.4 170.3,1177.1 171.7,1176.8 173.1,1176.3 174.6,1175.8 176,1175.1 177.4,1174.3 178.9,1173.3 180.3,1172.3 181.7,1171.2 183.1,1169.8 184.6,1168 186,1166 187.4,1163.7 188.9,1161.4 190.3,1158.9 191.7,1156.4 193.2,1153.8 194.6,1151.2 196,1148.5 197.5,1145.9 198.9,1143.3 200.3,1140.6 201.7,1137.8 203.2,1135 204.6,1132.1 206,1129.2 207.5,1126.2 208.9,1123.2 210.3,1120 211.8,1116.8 213.2,1113.6 214.6,1110.3 216,1107 217.5,1103.7 218.9,1100.2 220.3,1096.8 221.8,1093.3 223.2,1089.8 224.6,1086.2 226.1,1082.7 227.5,1079.1 228.9,1075.5 230.4,1071.9 231.8,1068.3 233.2,1064.6 234.6,1060.8 236.1,1056.9 237.5,1052.9 238.9,1048.7 240.4,1044.5 241.8,1040.5 243.2,1036.6 244.7,1032.8 246.1,1029.1 247.5,1025.4 248.9,1022 250.4,1018.8 251.8,1015.9 253.2,1013.4 254.7,1011.2 256.1,1009.3 257.5,1007.5 259,1006 260.4,1004.6 261.8,1003.2 263.3,1001.8 264.7,1000 266.1,997.9 267.5,995.5 269,993.1 270.4,990.6 271.8,988.1 273.3,985.5 274.7,982.9 276.1,980.3 277.6,977.6 279,975 280.4,972.3 281.8,969.6 283.3,967 284.7,964.4 286.1,961.8 287.6,959.3 289,956.8 290.4,954.4 291.9,952.1 293.3,949.8 294.7,947.6 296.2,945.4 297.6,943.2 299,941 300.4,938.9 301.9,936.8 303.3,934.7 304.7,932.7 306.2,930.6 307.6,928.6 309,926.6 310.5,924.6 311.9,922.6 313.3,920.6 314.7,918.6 316.2,916.6 317.6,914.6 319,912.6 320.5,910.6 321.9,908.6 323.3,906.6 324.8,904.5 326.2,902.5 327.6,900.5 329,898.5 330.5,896.5 331.9,894.4 333.3,892.4 334.8,890.4 336.2,888.4 337.6,886.4 339.1,884.4 340.5,882.4 341.9,880.4 343.4,878.5 344.8,876.5 346.2,874.5 347.6,872.5 349.1,870.5 350.5,868.5 351.9,866.5 353.4,864.5 354.8,862.5 356.2,860.4 357.7,858.4 359.1,856.4 360.5,854.4 361.9,852.3 363.4,850.3 364.8,848.3 366.2,846.2 367.7,844.2 369.1,842.2 370.5,840.1 372,838.1 373.4,836.1 374.8,834.1 376.3,832.1 377.7,830.1 379.1,828.1 380.5,826.1 382,824.1 383.4,822.1 384.8,820.2 386.3,818.3 387.7,816.3 389.1,814.4 390.6,812.5 392,810.7 393.4,808.8 394.8,806.9 396.3,805.1 397.7,803.2 399.1,801.4 400.6,799.6 402,797.7 403.4,795.9 404.9,794.1 406.3,792.3 407.7,790.4 409.2,788.6 410.6,786.8 412,784.9 413.4,783.1 414.9,781.2 416.3,779.4 417.7,777.5 419.2,775.6 420.6,773.7 422,771.9 423.5,770 424.9,768.1 426.3,766.2 427.7,764.4 429.2,762.5 430.6,760.6 432,758.7 433.5,756.8 434.9,755 436.3,753.1 437.8,751.2 439.2,749.3 440.6,747.4 442.1,745.5 443.5,743.6 444.9,741.7 446.3,739.8 447.8,737.9 449.2,736 450.6,734.1 452.1,732.2 453.5,730.3 454.9,728.4 456.4,726.4 457.8,724.5 459.2,722.5 460.6,720.5 462.1,718.6 463.5,716.6 464.9,714.6 466.4,712.7 467.8,710.7 469.2,708.8 470.7,706.9 472.1,705 473.5,703.1 475,701.2 476.4,699.3 477.8,697.4 479.2,695.6 480.7,693.7 482.1,691.9 483.5,690 485,688.2 486.4,686.4 487.8,684.5 489.3,682.7 490.7,680.9 492.1,679.2 493.5,677.4 495,675.6 496.4,673.8 497.8,672.1 499.3,670.4 500.7,668.6 502.1,666.9 503.6,665.2 505,663.5 506.4,661.8 507.8,660.2 509.3,658.5 510.7,656.8 512.1,655.1 513.6,653.4 515,651.7 516.4,650.1 517.9,648.4 519.3,646.7 520.7,644.9 522.2,643.2 523.6,641.5 525,639.7 526.4,638 527.9,636.2 529.3,634.5 530.7,632.7 532.2,631 533.6,629.2 535,627.5 536.5,625.8 537.9,624 539.3,622.3 540.7,620.7 542.2,619 543.6,617.3 545,615.7 546.5,614.1 547.9,612.5 549.3,610.9 550.8,609.3 552.2,607.7 553.6,606.1 555.1,604.5 556.5,603 557.9,601.4 559.3,599.8 560.8,598.3 562.2,596.7 563.6,595.2 565.1,593.6 566.5,592 567.9,590.5 569.4,588.9 570.8,587.4 572.2,585.8 573.6,584.3 575.1,582.7 576.5,581.1 577.9,579.6 579.4,578 580.8,576.4" fill="none" stroke="#231815" stroke-width="7.3" />
<polyline points="152.8,1210.5 152.8,1116.7 154,1053.5" fill="none" stroke="#e71f19" stroke-width="6.4" />
<polyline points="154,1053.5 154.6,1051.1 155.6,1051 156.7,1050.8 157.8,1050.7 158.8,1050.6 159.9,1050.4 161,1050.3 162,1050.1 163.1,1050 164.2,1049.8 165.2,1049.6 166.3,1049.3 167.3,1049.1 168.4,1048.8 169.5,1048.5 170.5,1048.1 171.6,1047.7 172.7,1047.4 173.7,1047 174.8,1046.7 175.9,1046.3 176.9,1045.9 178,1045.5 179.1,1045.1 180.1,1044.6 181.2,1044.1 182.3,1043.5 183.3,1042.8 184.4,1042 185.5,1041.2 186.5,1040.2 187.6,1039 188.7,1037.8 189.7,1036.5 190.8,1035.1 191.9,1033.7 192.9,1032.3 194,1030.9 195.1,1029.5 196.1,1028.3 197.2,1027 198.2,1025.8 199.3,1024.7 200.4,1023.5 201.4,1022.3 202.5,1021.2 203.6,1020 204.6,1018.9 205.7,1017.7 206.8,1016.5 207.8,1015.3 208.9,1014.1 210,1012.8 211,1011.5 212.1,1010.2 213.2,1008.8 214.2,1007.5 215.3,1006.1 216.4,1004.7 217.4,1003.3 218.5,1001.8 219.6,1000.4 220.6,999.1 221.7,997.7 222.8,996.3 223.8,995 224.9,993.8 226,992.7 227,991.6 228.1,990.5 229.2,989.4 230.2,988.2 231.3,986.9 232.3,985.7 233.4,984.5 234.5,983.2 235.5,982 236.6,980.7 237.7,979.5 238.7,978.3 239.8,977 240.9,975.8 241.9,974.6 243,973.3 244.1,972.1 245.1,970.8 246.2,969.6 247.3,968.3 248.3,967.1 249.4,965.8 250.5,964.6 251.5,963.3 252.6,962 253.7,960.7 254.7,959.4 255.8,958.1 256.9,956.8 257.9,955.5 259,954.2 260.1,952.8 261.1,951.5 262.2,950.1 263.3,948.8 264.3,947.4 265.4,946 266.4,944.6 267.5,943.2 268.6,941.7 269.6,940.3 270.7,938.9 271.8,937.4 272.8,936 273.9,934.5 275,933.1 276,931.6 277.1,930.2 278.2,928.7 279.2,927.2 280.3,925.8 281.4,924.3 282.4,922.8 283.5,921.3 284.6,919.9 285.6,918.4 286.7,916.9 287.8,915.5 288.8,914 289.9,912.6 291,911.1 292,909.7 293.1,908.2 294.2,906.8 295.2,905.4 296.3,903.9 297.4,902.5 298.4,901 299.5,899.6 300.5,898.1 301.6,896.7 302.7,895.3 303.7,893.8 304.8,892.4 305.9,890.9 306.9,889.5 308,888 309.1,886.6 310.1,885.2 311.2,883.7 312.3,882.3 313.3,880.9 314.4,879.4 315.5,878 316.5,876.6 317.6,875.2 318.7,873.8 319.7,872.4 320.8,871 321.9,869.6 322.9,868.2 324,866.8 325.1,865.4 326.1,864 327.2,862.7 328.3,861.3 329.3,859.9 330.4,858.6 331.4,857.2 332.5,855.9 333.6,854.5 334.6,853.2 335.7,851.8 336.8,850.5 337.8,849.1 338.9,847.8 340,846.5 341,845.1 342.1,843.8 343.2,842.5 344.2,841.2 345.3,839.8 346.4,838.5 347.4,837.2 348.5,835.9 349.6,834.6 350.6,833.3 351.7,832 352.8,830.7 353.8,829.3 354.9,828 356,826.7 357,825.4 358.1,824.2 359.2,822.9 360.2,821.6 361.3,820.3 362.4,819.1 363.4,817.8 364.5,816.5 365.5,815.3 366.6,814 367.7,812.8 368.7,811.5 369.8,810.3 370.9,809 371.9,807.7 373,806.5 374.1,805.2 375.1,804 376.2,802.7 377.3,801.4 378.3,800.1 379.4,798.9 380.5,797.6 381.5,796.3 382.6,795 383.7,793.7 384.7,792.3 385.8,791 386.9,789.7 387.9,788.3 389,786.9 390.1,785.5 391.1,784.1 392.2,782.7 393.3,781.3 394.3,779.8 395.4,778.4 396.5,777 397.5,775.5 398.6,774.1 399.6,772.6 400.7,771.2 401.8,769.8 402.8,768.3 403.9,766.9 405,765.5 406,764.2 407.1,762.8 408.2,761.4 409.2,760.1 410.3,758.8 411.4,757.5 412.4,756.2 413.5,755 414.6,753.8 415.6,752.5 416.7,751.3 417.8,750.1 418.8,748.9 419.9,747.7 421,746.6 422,745.4 423.1,744.2 424.2,743.1 425.2,741.9 426.3,740.8 427.4,739.6 428.4,738.5 429.5,737.3 430.6,736.2 431.6,735.1 432.7,733.9 433.7,732.8 434.8,731.6 435.9,730.5 436.9,729.3 438,728.1 439.1,727 440.1,725.8 441.2,724.6 442.3,723.4 443.3,722.2 444.4,721 445.5,719.8 446.5,718.6 447.6,717.4 448.7,716.2 449.7,714.9 450.8,713.7 451.9,712.5 452.9,711.3 454,710 455.1,708.8 456.1,707.6 457.2,706.3 458.3,705.1 459.3,703.9 460.4,702.6 461.5,701.4 462.5,700.2 463.6,699 464.6,697.7 465.7,696.5 466.8,695.3 467.8,694.1 468.9,692.8 470,691.6 471,690.4 472.1,689.2 473.2,688 474.2,686.8 475.3,685.6 476.4,684.4 477.4,683.2 478.5,682 479.6,680.8 480.6,679.6 481.7,678.4 482.8,677.2 483.8,676 484.9,674.8 486,673.6 487,672.5 488.1,671.3 489.2,670.1 490.2,668.9 491.3,667.7 492.4,666.5 493.4,665.4 494.5,664.2 495.6,663 496.6,661.9 497.7,660.7 498.7,659.6 499.8,658.4 500.9,657.3 501.9,656.1 503,655 504.1,653.9 505.1,652.8 506.2,651.6 507.3,650.5 508.3,649.4 509.4,648.3 510.5,647.2 511.5,646.1 512.6,645 513.7,643.9 514.7,642.8 515.8,641.7 516.9,640.6 517.9,639.5 519,638.5 520.1,637.4 521.1,636.3 522.2,635.3 523.3,634.2 524.3,633.2 525.4,632.1 526.5,631.1 527.5,630 528.6,629 529.7,627.9 530.7,626.9 531.8,625.9 532.8,624.9 533.9,623.9 535,622.9 536,621.9 537.1,620.9 538.2,619.9 539.2,618.9 540.3,618 541.4,617 542.4,616.1 543.5,615.1 544.6,614.2 545.6,613.3 546.7,612.4 547.8,611.5 548.8,610.6 549.9,609.7 551,608.8 552,607.9 553.1,607.1 554.2,606.2 555.2,605.3 556.3,604.5 557.4,603.6 558.4,602.7 559.5,601.9 560.6,601 561.6,600.2 562.7,599.4 563.8,598.5 564.8,597.7 565.9,596.9 566.9,596.1 568,595.3 569.1,594.5 570.1,593.7 571.2,592.9 572.3,592.2 573.3,591.4 574.4,590.6 575.5,589.8 576.5,589 577.6,588.2 578.7,587.4 579.7,586.6 580.8,585.8" fill="none" stroke="#e71f19" stroke-width="2.2" />
<g fill="#e71f19">
<circle cx="154" cy="1053.5" r="3"/>
<circle cx="158.4" cy="1050.6" r="3"/>
<circle cx="164.6" cy="1049.7" r="3"/>
<circle cx="170.7" cy="1048.1" r="3"/>
<circle cx="176.7" cy="1046" r="3"/>
<circle cx="182.4" cy="1043.4" r="3"/>
<circle cx="187.3" cy="1039.4" r="3"/>
<circle cx="191.2" cy="1034.5" r="3"/>
<circle cx="195.1" cy="1029.5" r="3"/>
<circle cx="199.2" cy="1024.8" r="3"/>
<circle cx="203.5" cy="1020.1" r="3"/>
<circle cx="207.7" cy="1015.5" r="3"/>
<circle cx="211.7" cy="1010.6" r="3"/>
<circle cx="215.6" cy="1005.7" r="3"/>
<circle cx="219.4" cy="1000.6" r="3"/>
<circle cx="223.3" cy="995.7" r="3"/>
<circle cx="227.6" cy="991" r="3"/>
<circle cx="231.8" cy="986.4" r="3"/>
<circle cx="235.9" cy="981.6" r="3"/>
<circle cx="240" cy="976.8" r="3"/>
<circle cx="244.1" cy="972.1" r="3"/>
<circle cx="248.2" cy="967.3" r="3"/>
<circle cx="252.2" cy="962.4" r="3"/>
<circle cx="256.2" cy="957.6" r="3"/>
<circle cx="260.2" cy="952.7" r="3"/>
<circle cx="264.1" cy="947.7" r="3"/>
<circle cx="267.9" cy="942.7" r="3"/>
<circle cx="271.6" cy="937.6" r="3"/>
<circle cx="275.4" cy="932.5" r="3"/>
<circle cx="279.1" cy="927.4" r="3"/>
<circle cx="282.8" cy="922.3" r="3"/>
<circle cx="286.5" cy="917.2" r="3"/>
<circle cx="290.2" cy="912.2" r="3"/>
<circle cx="293.9" cy="907.1" r="3"/>
<circle cx="297.7" cy="902" r="3"/>
<circle cx="301.4" cy="897" r="3"/>
<circle cx="305.2" cy="891.9" r="3"/>
<circle cx="308.9" cy="886.8" r="3"/>
<circle cx="312.7" cy="881.8" r="3"/>
<circle cx="316.4" cy="876.7" r="3"/>
<circle cx="320.2" cy="871.7" r="3"/>
<circle cx="324.1" cy="866.7" r="3"/>
<circle cx="327.9" cy="861.7" r="3"/>
<circle cx="331.8" cy="856.8" r="3"/>
<circle cx="335.7" cy="851.8" r="3"/>
<circle cx="339.6" cy="846.9" r="3"/>
<circle cx="343.6" cy="842" r="3"/>
<circle cx="347.5" cy="837.1" r="3"/>
<circle cx="351.5" cy="832.2" r="3"/>
<circle cx="355.5" cy="827.3" r="3"/>
<circle cx="359.5" cy="822.4" r="3"/>
<circle cx="363.6" cy="817.6" r="3"/>
<circle cx="367.6" cy="812.8" r="3"/>
<circle cx="371.7" cy="808" r="3"/>
<circle cx="375.8" cy="803.2" r="3"/>
<circle cx="379.8" cy="798.4" r="3"/>
<circle cx="383.8" cy="793.5" r="3"/>
<circle cx="387.7" cy="788.6" r="3"/>
<circle cx="391.6" cy="783.5" r="3"/>
<circle cx="395.3" cy="778.5" r="3"/>
<circle cx="399.1" cy="773.4" r="3"/>
<circle cx="402.8" cy="768.4" r="3"/>
<circle cx="406.7" cy="763.4" r="3"/>
<circle cx="410.6" cy="758.5" r="3"/>
<circle cx="414.7" cy="753.6" r="3"/>
<circle cx="418.8" cy="748.9" r="3"/>
<circle cx="423.1" cy="744.3" r="3"/>
<circle cx="427.3" cy="739.6" r="3"/>
<circle cx="431.6" cy="735" r="3"/>
<circle cx="435.9" cy="730.4" r="3"/>
<circle cx="440.2" cy="725.8" r="3"/>
<circle cx="444.4" cy="721.1" r="3"/>
<circle cx="448.5" cy="716.3" r="3"/>
<circle cx="452.7" cy="711.6" r="3"/>
<circle cx="456.8" cy="706.8" r="3"/>
<circle cx="460.9" cy="702" r="3"/>
<circle cx="465" cy="697.3" r="3"/>
<circle cx="469.2" cy="692.5" r="3"/>
<circle cx="473.4" cy="687.8" r="3"/>
<circle cx="477.5" cy="683.1" r="3"/>
<circle cx="481.7" cy="678.4" r="3"/>
<circle cx="485.9" cy="673.7" r="3"/>
<circle cx="490.1" cy="669" r="3"/>
<circle cx="494.4" cy="664.3" r="3"/>
<circle cx="498.6" cy="659.7" r="3"/>
<circle cx="502.9" cy="655.1" r="3"/>
<circle cx="507.3" cy="650.5" r="3"/>
<circle cx="511.6" cy="646" r="3"/>
<circle cx="516" cy="641.5" r="3"/>
<circle cx="520.5" cy="637" r="3"/>
<circle cx="524.9" cy="632.6" r="3"/>
<circle cx="529.4" cy="628.2" r="3"/>
<circle cx="534" cy="623.8" r="3"/>
<circle cx="538.6" cy="619.5" r="3"/>
<circle cx="543.3" cy="615.3" r="3"/>
<circle cx="548.1" cy="611.2" r="3"/>
<circle cx="552.9" cy="607.2" r="3"/>
<circle cx="557.8" cy="603.2" r="3"/>
<circle cx="562.8" cy="599.3" r="3"/>
<circle cx="567.8" cy="595.5" r="3"/>
<circle cx="572.8" cy="591.7" r="3"/>
<circle cx="577.9" cy="588" r="3"/>
</g>
<polyline points="152.7,1105 152.8,1023 153.6,1000.7" fill="none" stroke="#6fba2c" stroke-width="5.6" />
<polyline points="153.6,1000.7 153.8,999.5 154.9,998.5 156,997.4 157,996.7 158.1,996.6 159.2,997 160.2,997.5 161.3,998.1 162.4,998.7 163.4,999 164.5,999.3 165.6,999.5 166.6,999.7 167.7,999.9 168.8,1000 169.9,1000 170.9,1000 172,999.9 173.1,999.7 174.1,999.5 175.2,999.2 176.3,998.9 177.3,998.5 178.4,998 179.5,997.6 180.5,997.1 181.6,996.5 182.7,995.9 183.7,995.1 184.8,994.3 185.9,993.3 186.9,992.3 188,991.2 189.1,990.1 190.1,988.9 191.2,987.7 192.3,986.5 193.3,985.3 194.4,984.1 195.5,982.9 196.5,981.7 197.6,980.5 198.7,979.4 199.7,978.2 200.8,977 201.9,975.8 202.9,974.6 204,973.4 205.1,972.2 206.1,971 207.2,969.8 208.3,968.6 209.3,967.4 210.4,966.1 211.5,964.8 212.5,963.5 213.6,962.2 214.7,960.9 215.7,959.6 216.8,958.2 217.9,956.9 219,955.5 220,954.2 221.1,952.9 222.2,951.6 223.2,950.4 224.3,949.2 225.4,948.1 226.4,947.2 227.5,946.2 228.6,945.2 229.6,944.2 230.7,943 231.8,941.8 232.8,940.6 233.9,939.4 235,938.2 236,936.9 237.1,935.7 238.2,934.5 239.2,933.3 240.3,932 241.4,930.8 242.4,929.6 243.5,928.3 244.6,927.1 245.6,925.9 246.7,924.6 247.8,923.4 248.8,922.1 249.9,920.9 251,919.7 252,918.4 253.1,917.2 254.2,915.9 255.2,914.7 256.3,913.4 257.4,912.2 258.4,911 259.5,909.7 260.6,908.5 261.6,907.3 262.7,906 263.8,904.8 264.8,903.6 265.9,902.3 267,901.1 268.1,899.8 269.1,898.6 270.2,897.3 271.3,896.1 272.3,894.8 273.4,893.6 274.5,892.3 275.5,891.1 276.6,889.8 277.7,888.6 278.7,887.3 279.8,886.1 280.9,884.9 281.9,883.6 283,882.4 284.1,881.2 285.1,880 286.2,878.8 287.3,877.6 288.3,876.4 289.4,875.2 290.5,874 291.5,872.9 292.6,871.7 293.7,870.6 294.7,869.5 295.8,868.4 296.9,867.2 297.9,866.1 299,865 300.1,863.9 301.1,862.9 302.2,861.8 303.3,860.7 304.3,859.6 305.4,858.6 306.5,857.5 307.5,856.5 308.6,855.4 309.7,854.4 310.7,853.3 311.8,852.3 312.9,851.2 314,850.2 315,849.2 316.1,848.1 317.2,847.1 318.2,846.1 319.3,845 320.4,844 321.4,843 322.5,841.9 323.6,840.9 324.6,839.8 325.7,838.8 326.8,837.8 327.8,836.7 328.9,835.7 330,834.7 331,833.7 332.1,832.6 333.2,831.6 334.2,830.6 335.3,829.6 336.4,828.5 337.4,827.5 338.5,826.5 339.6,825.5 340.6,824.5 341.7,823.5 342.8,822.5 343.8,821.5 344.9,820.5 346,819.5 347,818.5 348.1,817.5 349.2,816.5 350.2,815.5 351.3,814.5 352.4,813.5 353.4,812.5 354.5,811.5 355.6,810.5 356.6,809.5 357.7,808.5 358.8,807.5 359.8,806.5 360.9,805.6 362,804.6 363.1,803.6 364.1,802.6 365.2,801.6 366.3,800.6 367.3,799.7 368.4,798.7 369.5,797.7 370.5,796.7 371.6,795.8 372.7,794.8 373.7,793.8 374.8,792.9 375.9,791.9 376.9,791 378,790 379.1,789.1 380.1,788.1 381.2,787.2 382.3,786.3 383.3,785.3 384.4,784.4 385.5,783.5 386.5,782.6 387.6,781.7 388.7,780.8 389.7,779.9 390.8,779 391.9,778.1 392.9,777.2 394,776.3 395.1,775.4 396.1,774.5 397.2,773.7 398.3,772.8 399.3,771.9 400.4,771.1 401.5,770.2 402.5,769.4 403.6,768.5 404.7,767.6 405.7,766.8 406.8,765.9 407.9,765.1 408.9,764.3 410,763.4 411.1,762.6 412.2,761.7 413.2,760.9 414.3,760.1 415.4,759.2 416.4,758.4 417.5,757.6 418.6,756.7 419.6,755.9 420.7,755.1 421.8,754.3 422.8,753.4 423.9,752.6 425,751.8 426,751 427.1,750.2 428.2,749.4 429.2,748.6 430.3,747.8 431.4,747 432.4,746.3 433.5,745.5 434.6,744.7 435.6,743.9 436.7,743.1 437.8,742.4 438.8,741.6 439.9,740.8 441,740.1 442,739.3 443.1,738.5 444.2,737.8 445.2,737 446.3,736.2 447.4,735.5 448.4,734.7 449.5,733.9 450.6,733.2 451.6,732.4 452.7,731.7 453.8,730.9 454.8,730.2 455.9,729.4 457,728.6 458,727.9 459.1,727.2 460.2,726.4 461.3,725.7 462.3,724.9 463.4,724.2 464.5,723.5 465.5,722.8 466.6,722.1 467.7,721.4 468.7,720.7 469.8,720 470.9,719.3 471.9,718.6 473,717.9 474.1,717.2 475.1,716.6 476.2,715.9 477.3,715.3 478.3,714.6 479.4,714 480.5,713.3 481.5,712.7 482.6,712.1 483.7,711.4 484.7,710.8 485.8,710.2 486.9,709.6 487.9,709 489,708.4 490.1,707.8 491.1,707.2 492.2,706.6 493.3,706 494.3,705.4 495.4,704.8 496.5,704.3 497.5,703.7 498.6,703.1 499.7,702.6 500.7,702 501.8,701.5 502.9,700.9 503.9,700.4 505,699.8 506.1,699.3 507.1,698.8 508.2,698.2 509.3,697.7 510.4,697.2 511.4,696.6 512.5,696.1 513.6,695.6 514.6,695.1 515.7,694.6 516.8,694.1 517.8,693.6 518.9,693.1 520,692.6 521,692.1 522.1,691.6 523.2,691.2 524.2,690.7 525.3,690.2 526.4,689.8 527.4,689.4 528.5,688.9 529.6,688.5 530.6,688.1 531.7,687.6 532.8,687.2 533.8,686.8 534.9,686.4 536,686.1 537,685.7 538.1,685.3 539.2,685 540.2,684.6 541.3,684.2 542.4,683.9 543.4,683.6 544.5,683.2 545.6,682.9 546.6,682.5 547.7,682.2 548.8,681.9 549.8,681.6 550.9,681.3 552,681 553,680.6 554.1,680.3 555.2,680 556.2,679.7 557.3,679.4 558.4,679.1 559.5,678.8 560.5,678.5 561.6,678.3 562.7,678 563.7,677.7 564.8,677.4 565.9,677.1 566.9,676.8 568,676.5 569.1,676.2 570.1,675.9 571.2,675.6 572.3,675.3 573.3,675 574.4,674.7 575.5,674.4 576.5,674.1 577.6,673.8 578.7,673.5 579.7,673.2 580.8,672.9" fill="none" stroke="#6fba2c" stroke-width="4.2" />
<g fill="#6fba2c">
<circle cx="153.6" cy="1000.7" r="3"/>
<circle cx="156.3" cy="997.2" r="3"/>
<circle cx="160.5" cy="997.7" r="3"/>
<circle cx="164.8" cy="999.3" r="3"/>
<circle cx="169.3" cy="1000" r="3"/>
<circle cx="173.9" cy="999.5" r="3"/>
<circle cx="178.3" cy="998.1" r="3"/>
<circle cx="182.4" cy="996.1" r="3"/>
<circle cx="186" cy="993.2" r="3"/>
<circle cx="189.2" cy="989.9" r="3"/>
<circle cx="192.3" cy="986.5" r="3"/>
<circle cx="195.3" cy="983.1" r="3"/>
<circle cx="198.4" cy="979.7" r="3"/>
<circle cx="201.5" cy="976.3" r="3"/>
<circle cx="204.6" cy="972.8" r="3"/>
<circle cx="207.6" cy="969.4" r="3"/>
<circle cx="210.6" cy="965.9" r="3"/>
<circle cx="213.5" cy="962.3" r="3"/>
<circle cx="216.4" cy="958.7" r="3"/>
<circle cx="219.3" cy="955.1" r="3"/>
<circle cx="222.2" cy="951.6" r="3"/>
<circle cx="225.3" cy="948.2" r="3"/>
<circle cx="228.7" cy="945.1" r="3"/>
<circle cx="231.8" cy="941.7" r="3"/>
<circle cx="234.9" cy="938.3" r="3"/>
<circle cx="237.9" cy="934.8" r="3"/>
<circle cx="240.9" cy="931.3" r="3"/>
<circle cx="243.9" cy="927.9" r="3"/>
<circle cx="246.9" cy="924.4" r="3"/>
<circle cx="249.9" cy="920.9" r="3"/>
<circle cx="252.9" cy="917.4" r="3"/>
<circle cx="255.9" cy="913.9" r="3"/>
<circle cx="258.9" cy="910.4" r="3"/>
<circle cx="261.9" cy="907" r="3"/>
<circle cx="264.9" cy="903.5" r="3"/>
<circle cx="267.9" cy="900" r="3"/>
<circle cx="270.9" cy="896.5" r="3"/>
<circle cx="273.9" cy="893" r="3"/>
<circle cx="276.9" cy="889.5" r="3"/>
<circle cx="279.9" cy="886" r="3"/>
<circle cx="282.9" cy="882.5" r="3"/>
<circle cx="285.9" cy="879.1" r="3"/>
<circle cx="289" cy="875.6" r="3"/>
<circle cx="292.1" cy="872.3" r="3"/>
<circle cx="295.3" cy="868.9" r="3"/>
<circle cx="298.5" cy="865.6" r="3"/>
<circle cx="301.7" cy="862.3" r="3"/>
<circle cx="304.9" cy="859.1" r="3"/>
<circle cx="308.2" cy="855.8" r="3"/>
<circle cx="311.5" cy="852.6" r="3"/>
<circle cx="314.8" cy="849.4" r="3"/>
<circle cx="318.1" cy="846.2" r="3"/>
<circle cx="321.4" cy="843" r="3"/>
<circle cx="324.7" cy="839.8" r="3"/>
<circle cx="328" cy="836.6" r="3"/>
<circle cx="331.3" cy="833.4" r="3"/>
<circle cx="334.6" cy="830.2" r="3"/>
<circle cx="338" cy="827" r="3"/>
<circle cx="341.3" cy="823.9" r="3"/>
<circle cx="344.6" cy="820.7" r="3"/>
<circle cx="348" cy="817.6" r="3"/>
<circle cx="351.4" cy="814.4" r="3"/>
<circle cx="354.7" cy="811.3" r="3"/>
<circle cx="358.1" cy="808.2" r="3"/>
<circle cx="361.5" cy="805" r="3"/>
<circle cx="364.9" cy="801.9" r="3"/>
<circle cx="368.3" cy="798.8" r="3"/>
<circle cx="371.7" cy="795.7" r="3"/>
<circle cx="375.1" cy="792.6" r="3"/>
<circle cx="378.5" cy="789.6" r="3"/>
<circle cx="382" cy="786.5" r="3"/>
<circle cx="385.4" cy="783.5" r="3"/>
<circle cx="388.9" cy="780.5" r="3"/>
<circle cx="392.5" cy="777.6" r="3"/>
<circle cx="396" cy="774.7" r="3"/>
<circle cx="399.6" cy="771.7" r="3"/>
<circle cx="403.2" cy="768.9" r="3"/>
<circle cx="406.8" cy="766" r="3"/>
<circle cx="410.4" cy="763.1" r="3"/>
<circle cx="414" cy="760.3" r="3"/>
<circle cx="417.6" cy="757.5" r="3"/>
<circle cx="421.2" cy="754.7" r="3"/>
<circle cx="424.9" cy="751.9" r="3"/>
<circle cx="428.6" cy="749.1" r="3"/>
<circle cx="432.3" cy="746.4" r="3"/>
<circle cx="436" cy="743.7" r="3"/>
<circle cx="439.7" cy="741" r="3"/>
<circle cx="443.5" cy="738.3" r="3"/>
<circle cx="447.2" cy="735.6" r="3"/>
<circle cx="450.9" cy="732.9" r="3"/>
<circle cx="454.7" cy="730.3" r="3"/>
<circle cx="458.5" cy="727.6" r="3"/>
<circle cx="462.2" cy="725" r="3"/>
<circle cx="466" cy="722.4" r="3"/>
<circle cx="469.9" cy="719.9" r="3"/>
<circle cx="473.8" cy="717.4" r="3"/>
<circle cx="477.7" cy="715" r="3"/>
<circle cx="481.6" cy="712.6" r="3"/>
<circle cx="485.6" cy="710.3" r="3"/>
<circle cx="489.6" cy="708" r="3"/>
<circle cx="493.6" cy="705.8" r="3"/>
<circle cx="497.7" cy="703.6" r="3"/>
<circle cx="501.7" cy="701.5" r="3"/>
<circle cx="505.8" cy="699.4" r="3"/>
<circle cx="510" cy="697.4" r="3"/>
<circle cx="514.1" cy="695.3" r="3"/>
<circle cx="518.3" cy="693.4" r="3"/>
<circle cx="522.4" cy="691.5" r="3"/>
<circle cx="526.7" cy="689.7" r="3"/>
<circle cx="530.9" cy="687.9" r="3"/>
<circle cx="535.2" cy="686.3" r="3"/>
<circle cx="539.6" cy="684.8" r="3"/>
<circle cx="544" cy="683.4" r="3"/>
<circle cx="548.4" cy="682" r="3"/>
<circle cx="552.8" cy="680.7" r="3"/>
<circle cx="557.2" cy="679.5" r="3"/>
<circle cx="561.6" cy="678.2" r="3"/>
<circle cx="566.1" cy="677" r="3"/>
<circle cx="570.5" cy="675.8" r="3"/>
<circle cx="574.9" cy="674.6" r="3"/>
<circle cx="579.4" cy="673.3" r="3"/>
</g>
<polyline points="152.6,1210.5 153,1105 153.6,1089.2 153.8,1089.2 155.3,1089.3 156.7,1089.5 158.1,1089.6 159.5,1089.7 161,1089.8 162.4,1089.9 163.8,1089.9 165.2,1090 166.6,1090 168.1,1090 169.5,1089.9 170.9,1089.7 172.3,1089.4 173.8,1089 175.2,1088.5 176.6,1087.9 178,1087.2 179.5,1086.4 180.9,1085.6 182.3,1084.7 183.7,1083.7 185.2,1082.7 186.6,1081.6 188,1080.3 189.4,1079.1 190.8,1077.8 192.3,1076.5 193.7,1075.1 195.1,1073.8 196.5,1072.4 198,1071 199.4,1069.6 200.8,1068.2 202.2,1066.8 203.7,1065.4 205.1,1064.1 206.5,1062.7 207.9,1061.4 209.3,1060.1 210.8,1058.7 212.2,1057.3 213.6,1056 215,1054.6 216.5,1053.3 217.9,1052 219.3,1050.6 220.7,1049.4 222.2,1048.1 223.6,1046.9 225,1045.7 226.4,1044.6 227.8,1043.5 229.3,1042.4 230.7,1041.4 232.1,1040.4 233.5,1039.4 235,1038.5 236.4,1037.5 237.8,1036.6 239.2,1035.7 240.7,1034.7 242.1,1033.7 243.5,1032.7 244.9,1031.7 246.3,1030.7 247.8,1029.6 249.2,1028.6 250.6,1027.6 252,1026.5 253.5,1025.5 254.9,1024.4 256.3,1023.3 257.7,1022.2 259.2,1021.1 260.6,1020 262,1018.8 263.4,1017.6 264.8,1016.4 266.3,1015.1 267.7,1013.8 269.1,1012.4 270.5,1011 272,1009.6 273.4,1008.1 274.8,1006.7 276.2,1005.3 277.7,1004 279.1,1002.6 280.5,1001.4 281.9,1000.2 283.4,999 284.8,997.9 286.2,996.8 287.6,995.7 289,994.6 290.5,993.6 291.9,992.5 293.3,991.5 294.7,990.5 296.2,989.4 297.6,988.4 299,987.4 300.4,986.4 301.9,985.3 303.3,984.3 304.7,983.2 306.1,982.2 307.5,981.2 309,980.1 310.4,979.1 311.8,978.1 313.2,977.1 314.7,976 316.1,975 317.5,974 318.9,973 320.4,971.9 321.8,970.9 323.2,969.9 324.6,968.8 326,967.8 327.5,966.7 328.9,965.6 330.3,964.6 331.7,963.5 333.2,962.4 334.6,961.3 336,960.3 337.4,959.2 338.9,958.1 340.3,957 341.7,956 343.1,954.9 344.5,953.9 346,952.8 347.4,951.8 348.8,950.8 350.2,949.8 351.7,948.8 353.1,947.8 354.5,946.8 355.9,945.9 357.4,945 358.8,944.1 360.2,943.2 361.6,942.3 363.1,941.4 364.5,940.5 365.9,939.7 367.3,938.8 368.7,938 370.2,937.1 371.6,936.3 373,935.5 374.4,934.6 375.9,933.8 377.3,933 378.7,932.2 380.1,931.3 381.6,930.5 383,929.7 384.4,928.8 385.8,928 387.2,927.1 388.7,926.2 390.1,925.4 391.5,924.5 392.9,923.7 394.4,922.8 395.8,921.9 397.2,921.1 398.6,920.2 400.1,919.3 401.5,918.5 402.9,917.6 404.3,916.8 405.7,915.9 407.2,915 408.6,914.2 410,913.4 411.4,912.5 412.9,911.7 414.3,910.9 415.7,910 417.1,909.2 418.6,908.4 420,907.6 421.4,906.8 422.8,906.1 424.2,905.3 425.7,904.5 427.1,903.8 428.5,903 429.9,902.3 431.4,901.5 432.8,900.8 434.2,900 435.6,899.3 437.1,898.5 438.5,897.8 439.9,897 441.3,896.3 442.7,895.5 444.2,894.7 445.6,894 447,893.2 448.4,892.4 449.9,891.6 451.3,890.9 452.7,890.1 454.1,889.3 455.6,888.5 457,887.7 458.4,886.9 459.8,886.2 461.3,885.4 462.7,884.6 464.1,883.8 465.5,883 466.9,882.3 468.4,881.5 469.8,880.7 471.2,880 472.6,879.2 474.1,878.4 475.5,877.7 476.9,876.9 478.3,876.2 479.8,875.5 481.2,874.7 482.6,874 484,873.3 485.4,872.6 486.9,871.9 488.3,871.2 489.7,870.5 491.1,869.8 492.6,869.2 494,868.5 495.4,867.9 496.8,867.2 498.3,866.6 499.7,866 501.1,865.3 502.5,864.7 503.9,864.1 505.4,863.5 506.8,862.9 508.2,862.3 509.6,861.8 511.1,861.2 512.5,860.6 513.9,860 515.3,859.5 516.8,858.9 518.2,858.4 519.6,857.8 521,857.3 522.4,856.7 523.9,856.2 525.3,855.7 526.7,855.1 528.1,854.6 529.6,854.1 531,853.5 532.4,853 533.8,852.5 535.3,852 536.7,851.5 538.1,850.9 539.5,850.4 541,849.9 542.4,849.4 543.8,848.9 545.2,848.4 546.6,847.9 548.1,847.4 549.5,846.9 550.9,846.5 552.3,846 553.8,845.5 555.2,845.1 556.6,844.6 558,844.2 559.5,843.7 560.9,843.3 562.3,842.8 563.7,842.4 565.1,841.9 566.6,841.5 568,841 569.4,840.6 570.8,840.1 572.3,839.7 573.7,839.3 575.1,838.8 576.5,838.4 578,837.9 579.4,837.4 580.8,837" fill="none" stroke="#1f4fa3" stroke-width="6.5" />
</g>
<rect x="127.8" y="566" width="453" height="691" fill="none" stroke="#231815" stroke-width="2.5"/>
<line x1="148.8" y1="1257" x2="148.8" y2="1249.5" stroke="#231815" stroke-width="2" />
<line x1="148.8" y1="566" x2="148.8" y2="573.5" stroke="#231815" stroke-width="2" />
<line x1="192" y1="1257" x2="192" y2="1253" stroke="#231815" stroke-width="2" />
<line x1="192" y1="566" x2="192" y2="570" stroke="#231815" stroke-width="2" />
<line x1="235.2" y1="1257" x2="235.2" y2="1249.5" stroke="#231815" stroke-width="2" />
<line x1="235.2" y1="566" x2="235.2" y2="573.5" stroke="#231815" stroke-width="2" />
<line x1="278.4" y1="1257" x2="278.4" y2="1253" stroke="#231815" stroke-width="2" />
<line x1="278.4" y1="566" x2="278.4" y2="570" stroke="#231815" stroke-width="2" />
<line x1="321.6" y1="1257" x2="321.6" y2="1249.5" stroke="#231815" stroke-width="2" />
<line x1="321.6" y1="566" x2="321.6" y2="573.5" stroke="#231815" stroke-width="2" />
<line x1="364.8" y1="1257" x2="364.8" y2="1253" stroke="#231815" stroke-width="2" />
<line x1="364.8" y1="566" x2="364.8" y2="570" stroke="#231815" stroke-width="2" />
<line x1="408" y1="1257" x2="408" y2="1249.5" stroke="#231815" stroke-width="2" />
<line x1="408" y1="566" x2="408" y2="573.5" stroke="#231815" stroke-width="2" />
<line x1="451.2" y1="1257" x2="451.2" y2="1253" stroke="#231815" stroke-width="2" />
<line x1="451.2" y1="566" x2="451.2" y2="570" stroke="#231815" stroke-width="2" />
<line x1="494.4" y1="1257" x2="494.4" y2="1249.5" stroke="#231815" stroke-width="2" />
<line x1="494.4" y1="566" x2="494.4" y2="573.5" stroke="#231815" stroke-width="2" />
<line x1="537.6" y1="1257" x2="537.6" y2="1253" stroke="#231815" stroke-width="2" />
<line x1="537.6" y1="566" x2="537.6" y2="570" stroke="#231815" stroke-width="2" />
<line x1="127.8" y1="1210.5" x2="135.3" y2="1210.5" stroke="#231815" stroke-width="2" />
<line x1="580.8" y1="1210.5" x2="573.3" y2="1210.5" stroke="#231815" stroke-width="2" />
<line x1="127.8" y1="1151.9" x2="131.8" y2="1151.9" stroke="#231815" stroke-width="2" />
<line x1="580.8" y1="1151.9" x2="576.8" y2="1151.9" stroke="#231815" stroke-width="2" />
<line x1="127.8" y1="1093.3" x2="135.3" y2="1093.3" stroke="#231815" stroke-width="2" />
<line x1="580.8" y1="1093.3" x2="573.3" y2="1093.3" stroke="#231815" stroke-width="2" />
<line x1="127.8" y1="1034.7" x2="131.8" y2="1034.7" stroke="#231815" stroke-width="2" />
<line x1="580.8" y1="1034.7" x2="576.8" y2="1034.7" stroke="#231815" stroke-width="2" />
<line x1="127.8" y1="976.1" x2="135.3" y2="976.1" stroke="#231815" stroke-width="2" />
<line x1="580.8" y1="976.1" x2="573.3" y2="976.1" stroke="#231815" stroke-width="2" />
<line x1="127.8" y1="917.5" x2="131.8" y2="917.5" stroke="#231815" stroke-width="2" />
<line x1="580.8" y1="917.5" x2="576.8" y2="917.5" stroke="#231815" stroke-width="2" />
<line x1="127.8" y1="858.9" x2="135.3" y2="858.9" stroke="#231815" stroke-width="2" />
<line x1="580.8" y1="858.9" x2="573.3" y2="858.9" stroke="#231815" stroke-width="2" />
<line x1="127.8" y1="800.3" x2="131.8" y2="800.3" stroke="#231815" stroke-width="2" />
<line x1="580.8" y1="800.3" x2="576.8" y2="800.3" stroke="#231815" stroke-width="2" />
<line x1="127.8" y1="741.7" x2="135.3" y2="741.7" stroke="#231815" stroke-width="2" />
<line x1="580.8" y1="741.7" x2="573.3" y2="741.7" stroke="#231815" stroke-width="2" />
<line x1="127.8" y1="683.1" x2="131.8" y2="683.1" stroke="#231815" stroke-width="2" />
<line x1="580.8" y1="683.1" x2="576.8" y2="683.1" stroke="#231815" stroke-width="2" />
<line x1="127.8" y1="624.5" x2="135.3" y2="624.5" stroke="#231815" stroke-width="2" />
<line x1="580.8" y1="624.5" x2="573.3" y2="624.5" stroke="#231815" stroke-width="2" />
<text x="118.8" y="1223.9" font-size="38.5" text-anchor="end" fill="#231815">0</text>
<text x="118.8" y="1106.7" font-size="38.5" text-anchor="end" fill="#231815">1</text>
<text x="118.8" y="989.5" font-size="38.5" text-anchor="end" fill="#231815">2</text>
<text x="118.8" y="872.3" font-size="38.5" text-anchor="end" fill="#231815">3</text>
<text x="118.8" y="755.1" font-size="38.5" text-anchor="end" fill="#231815">4</text>
<text x="118.8" y="637.9" font-size="38.5" text-anchor="end" fill="#231815">5</text>
<text x="148.5" y="1293.2" font-size="32.5" text-anchor="middle" fill="#231815">0</text>
<text x="234.9" y="1293.2" font-size="32.5" text-anchor="middle" fill="#231815">60</text>
<text x="321.3" y="1293.2" font-size="32.5" text-anchor="middle" fill="#231815">120</text>
<text x="407.7" y="1293.2" font-size="32.5" text-anchor="middle" fill="#231815">180</text>
<text x="494.1" y="1293.2" font-size="32.5" text-anchor="middle" fill="#231815">240</text>
<text x="580.5" y="1293.2" font-size="32.5" text-anchor="middle" fill="#231815">300</text>
<text x="354.2" y="1338.6" font-size="47" text-anchor="middle" fill="#000" textLength="103" lengthAdjust="spacingAndGlyphs">T (K)</text>
<text x="48" y="886.4" font-size="47" text-anchor="middle" fill="#231815" transform="rotate(-90 48 886.4)" textLength="219.5" lengthAdjust="spacingAndGlyphs">ρ (m<tspan font-family="'Liberation Serif', 'DejaVu Serif', serif" font-size="49">Ω</tspan> cm)</text>
<line x1="150.5" y1="593.2" x2="211.5" y2="593.2" stroke="#231815" stroke-width="4.8" stroke-linecap="round"/>
<circle cx="181" cy="593.2" r="3.2" fill="#231815" />
<line x1="150.5" y1="636.8" x2="211.5" y2="636.8" stroke="#e71f19" stroke-width="4.8" stroke-linecap="round"/>
<circle cx="181" cy="636.8" r="3.2" fill="#e71f19" />
<line x1="150.5" y1="680.5" x2="211.5" y2="680.5" stroke="#6fba2c" stroke-width="4.8" stroke-linecap="round"/>
<circle cx="181" cy="680.5" r="3.2" fill="#6fba2c" />
<line x1="150.5" y1="724.8" x2="211.5" y2="724.8" stroke="#1f4fa3" stroke-width="4.8" stroke-linecap="round"/>
<circle cx="181" cy="724.8" r="3.2" fill="#1f4fa3" />
<text x="218.7" y="602.5" font-size="25.5" fill="#231815" textLength="105" lengthAdjust="spacingAndGlyphs">2H-TaS<tspan dx="2" font-size="17" dy="6">2</tspan></text>
<text x="218.7" y="646.1" font-size="25.5" fill="#231815" textLength="171" lengthAdjust="spacingAndGlyphs">TaS<tspan font-size="17" dy="6">2</tspan><tspan dy="-6">(CTA</tspan><tspan font-size="17" dy="-9">+</tspan><tspan dy="9">)</tspan><tspan font-size="17" dy="6">0.1</tspan></text>
<text x="218.7" y="689.8" font-size="25.5" fill="#231815" textLength="171" lengthAdjust="spacingAndGlyphs">TaS<tspan font-size="17" dy="6">2</tspan><tspan dy="-6">(CTA</tspan><tspan font-size="17" dy="-9">+</tspan><tspan dy="9">)</tspan><tspan font-size="17" dy="6">0.2</tspan></text>
<text x="218.7" y="734.1" font-size="25.5" fill="#231815" textLength="171" lengthAdjust="spacingAndGlyphs">TaS<tspan font-size="17" dy="6">2</tspan><tspan dy="-6">(CTA</tspan><tspan font-size="17" dy="-9">+</tspan><tspan dy="9">)</tspan><tspan font-size="17" dy="6">0.3</tspan></text>
<rect x="335" y="978.2" width="226.3" height="225.6" fill="#fff" />
<g stroke-linecap="round" stroke-linejoin="round">
<polyline points="336.7,1183.5 337.5,1183.4 338.3,1183.4 339,1183.3 339.8,1183.3 340.6,1183.2 341.4,1183.2 342.2,1183.1 343,1183 343.8,1182.9 344.7,1182.8 345.6,1182.7 346.5,1182.7 347.4,1182.5 348.3,1182.4 349.1,1182.2 350,1182 350.9,1181.8 351.7,1181.6 352.6,1181.4 353.5,1181.1 354.4,1180.8 355.2,1180.4 356,1179.8 356.7,1179 357.4,1178 358,1176.8 358.5,1175.5 359,1174.1 359.5,1172.5 360.1,1171 360.6,1169.5 361.2,1168 361.8,1166.5 362.5,1165.1 363.2,1163.5 363.9,1162 364.7,1160.5 365.4,1159 366.1,1157.5 366.7,1156 367.3,1154.6 367.9,1153.2 368.5,1151.8 369.1,1150.4 369.6,1149 370.2,1147.6 370.7,1146.1 371.2,1144.6 371.7,1143 372.1,1141.3 372.5,1139.6 372.8,1137.8 373.2,1136.1 373.6,1134.3 374,1132.6 374.5,1131 375,1129.4 375.5,1127.8 376.1,1126.2 376.7,1124.6 377.3,1123.1 377.9,1121.6 378.4,1120.2 379,1119 379.5,1117.9 380.1,1116.9 380.6,1115.9 381.1,1115.1 381.7,1114.3 382.2,1113.5 382.8,1112.8 383.4,1112 384,1111.3 384.7,1110.6 385.3,1109.9 386,1109.2 386.7,1108.6 387.4,1108 388.2,1107.4 389,1106.8 389.8,1106.2 390.6,1105.6 391.5,1105.1 392.4,1104.5 393.3,1104 394.3,1103.5 395.5,1103 396.7,1102.6 398,1102.2 399.4,1101.9 400.9,1101.6 402.4,1101.4 404.1,1101.1 405.9,1100.9 407.9,1100.7 410,1100.5 412.4,1100.3 415.2,1100.1 418.1,1100 421.2,1099.8 424.3,1099.7 427.2,1099.6 429.9,1099.5 432.3,1099.4 434.3,1099.3 436.1,1099.3 437.6,1099.3 439.1,1099.2 440.4,1099.2 441.8,1099.2 443.1,1099.2 444.6,1099.2" fill="none" stroke="#231815" stroke-width="3.1" />
<circle cx="336.7" cy="1183.5" r="2.8" fill="#231815" />
<circle cx="339.8" cy="1183.3" r="2.8" fill="#231815" />
<circle cx="343" cy="1183" r="2.8" fill="#231815" />
<circle cx="346.5" cy="1182.7" r="2.8" fill="#231815" />
<circle cx="350" cy="1182" r="2.8" fill="#231815" />
<circle cx="353.5" cy="1181.1" r="2.8" fill="#231815" />
<circle cx="356.7" cy="1179" r="2.8" fill="#231815" />
<circle cx="359" cy="1174.1" r="2.8" fill="#231815" />
<circle cx="361.2" cy="1168" r="2.8" fill="#231815" />
<circle cx="363.9" cy="1162" r="2.8" fill="#231815" />
<circle cx="366.7" cy="1156" r="2.8" fill="#231815" />
<circle cx="369.1" cy="1150.4" r="2.8" fill="#231815" />
<circle cx="371.2" cy="1144.6" r="2.8" fill="#231815" />
<circle cx="372.8" cy="1137.8" r="2.8" fill="#231815" />
<circle cx="374.5" cy="1131" r="2.8" fill="#231815" />
<circle cx="376.7" cy="1124.6" r="2.8" fill="#231815" />
<circle cx="379" cy="1119" r="2.8" fill="#231815" />
<circle cx="381.1" cy="1115.1" r="2.8" fill="#231815" />
<circle cx="383.4" cy="1112" r="2.8" fill="#231815" />
<circle cx="386" cy="1109.2" r="2.8" fill="#231815" />
<circle cx="389" cy="1106.8" r="2.8" fill="#231815" />
<circle cx="392.4" cy="1104.5" r="2.8" fill="#231815" />
<circle cx="396.7" cy="1102.6" r="2.8" fill="#231815" />
<circle cx="402.4" cy="1101.4" r="2.8" fill="#231815" />
<circle cx="410" cy="1100.5" r="2.8" fill="#231815" />
<circle cx="421.2" cy="1099.8" r="2.8" fill="#231815" />
<circle cx="432.3" cy="1099.4" r="2.8" fill="#231815" />
<circle cx="439.1" cy="1099.2" r="2.8" fill="#231815" />
<circle cx="444.6" cy="1099.2" r="2.8" fill="#231815" />
<line x1="451.2" y1="1099.7" x2="559.5" y2="1100" stroke="#231815" stroke-width="2" />
<circle cx="466.8" cy="1099.9" r="2.8" fill="#231815" />
<circle cx="492" cy="1099.9" r="2.8" fill="#231815" />
<circle cx="523.5" cy="1099.9" r="2.8" fill="#231815" />
<circle cx="556.9" cy="1099.9" r="2.8" fill="#231815" />
<polyline points="485.3,1181 485.6,1180.5 486,1180 486.3,1179.6 486.6,1179.2 486.9,1178.7 487.3,1178 487.6,1177.2 488,1176 488.4,1174.7 488.7,1173.3 489.1,1171.9 489.5,1170.2 489.9,1168.2 490.3,1165.9 490.8,1163.2 491.3,1160 491.9,1156.1 492.5,1151.4 493.2,1146.3 494,1140.8 494.7,1135.2 495.4,1129.8 496.1,1124.6 496.8,1120 497.4,1115.8 498,1111.7 498.6,1107.8 499.2,1104.1 499.7,1100.6 500.3,1097.2 500.8,1094 501.3,1091 501.8,1088.2 502.2,1085.5 502.6,1083 503,1080.7 503.3,1078.6 503.7,1076.6 504.1,1074.9 504.6,1073.4 505.1,1072.2 505.6,1071.2 506.1,1070.5 506.6,1070 507.1,1069.6 507.7,1069.3 508.3,1068.9 509,1068.5 509.7,1068 510.6,1067.6 511.4,1067.2 512.3,1066.9 513.2,1066.6 514.2,1066.2 515.1,1065.9 516,1065.5 516.9,1065.1 517.7,1064.8 518.4,1064.5 519.2,1064.1 520.1,1063.8 521.1,1063.4 522.2,1062.9 523.5,1062.3 525.1,1061.6 526.9,1060.8 528.9,1059.9 531,1058.9 533.2,1057.9 535.3,1057 537.2,1056.2 539,1055.5 540.6,1054.9 542.1,1054.4 543.5,1054 544.9,1053.6 546.2,1053.2 547.5,1052.9 548.7,1052.6 550,1052.3 551.3,1052 552.5,1051.8 553.7,1051.6 554.8,1051.4 556,1051.2 557.2,1051.1 558.3,1050.9 559.5,1050.7" fill="none" stroke="#e71f19" stroke-width="4.6" />
<polyline points="477,1182 477.5,1181.5 478,1181.1 478.5,1180.8 479,1180.4 479.4,1179.9 480,1179.4 480.5,1178.8 481,1178 481.5,1177.2 482.1,1176.3 482.7,1175.5 483.3,1174.5 483.8,1173.3 484.5,1171.9 485.1,1170.2 485.7,1168 486.3,1165.4 487,1162.3 487.7,1158.9 488.3,1155.2 489,1151.4 489.7,1147.6 490.4,1143.7 491.2,1140 492,1136.4 492.8,1132.7 493.7,1129.1 494.5,1125.4 495.4,1121.7 496.3,1117.9 497.1,1114 497.9,1110 498.7,1105.9 499.4,1101.7 500.1,1097.5 500.8,1093.2 501.5,1088.8 502.1,1084.4 502.8,1080 503.5,1075.6 504.2,1071.1 504.9,1066.4 505.6,1061.6 506.2,1056.8 506.9,1052.1 507.6,1047.7 508.3,1043.6 509,1040 509.7,1036.9 510.4,1034.1 511.1,1031.7 511.9,1029.5 512.6,1027.5 513.3,1025.7 514,1023.8 514.6,1022 515.2,1020.2 515.7,1018.4 516.2,1016.8 516.7,1015.3 517.2,1013.8 517.8,1012.5 518.3,1011.2 519,1010 519.7,1008.9 520.5,1007.9 521.2,1007 522.1,1006.2 522.9,1005.5 523.8,1004.8 524.7,1004.2 525.7,1003.6 526.7,1003.1 527.7,1002.6 528.7,1002.2 529.8,1001.9 530.9,1001.5 532.1,1001.3 533.3,1001 534.6,1000.8 536,1000.6 537.5,1000.5 539,1000.3 540.6,1000.2 542.2,1000.2 543.8,1000.1 545.4,1000.1 547,1000 548.6,999.9 550.1,999.9 551.7,999.8 553.2,999.8 554.8,999.7 556.4,999.7 557.9,999.6 559.5,999.6" fill="none" stroke="#6fba2c" stroke-width="3.5" />
<circle cx="481" cy="1178" r="2.9" fill="#6fba2c" />
<circle cx="483.3" cy="1174.5" r="2.9" fill="#6fba2c" />
<circle cx="485.7" cy="1168" r="2.9" fill="#6fba2c" />
<circle cx="488.3" cy="1155.2" r="2.9" fill="#6fba2c" />
<circle cx="491.2" cy="1140" r="2.9" fill="#6fba2c" />
<circle cx="494.5" cy="1125.4" r="2.9" fill="#6fba2c" />
<circle cx="497.9" cy="1110" r="2.9" fill="#6fba2c" />
<circle cx="500.8" cy="1093.2" r="2.9" fill="#6fba2c" />
<circle cx="503.5" cy="1075.6" r="2.9" fill="#6fba2c" />
<circle cx="506.2" cy="1056.8" r="2.9" fill="#6fba2c" />
<circle cx="509" cy="1040" r="2.9" fill="#6fba2c" />
<circle cx="511.9" cy="1029.5" r="2.9" fill="#6fba2c" />
<circle cx="514.6" cy="1022" r="2.9" fill="#6fba2c" />
<circle cx="516.7" cy="1015.3" r="2.9" fill="#6fba2c" />
<circle cx="519" cy="1010" r="2.9" fill="#6fba2c" />
<polyline points="451,1184 492,1184" fill="none" stroke="#1f4fa3" stroke-width="6.2" />
<polyline points="490,1184 490.5,1183.8 491,1183.7 491.6,1183.6 492.1,1183.4 492.6,1183.3 493.1,1183.1 493.6,1182.8 494,1182.5 494.4,1182.1 494.7,1181.8 495.1,1181.4 495.4,1181 495.7,1180.5 496,1179.8 496.4,1179 496.8,1178 497.3,1176.8 497.8,1175.4 498.4,1173.9 499,1172.3 499.6,1170.5 500.2,1168.6 500.8,1166.7 501.3,1164.6 501.8,1162.5 502.2,1160.4 502.6,1158.2 503,1155.9 503.3,1153.4 503.7,1150.7 504.1,1147.8 504.6,1144.6 505.1,1140.9 505.6,1136.8 506.2,1132.3 506.8,1127.6 507.4,1123 507.9,1118.6 508.5,1114.5 509,1111 509.5,1108 509.9,1105.3 510.3,1103 510.7,1100.8 511.1,1098.9 511.5,1097 511.9,1095.2 512.4,1093.4 512.9,1091.6 513.4,1089.9 514,1088.2 514.6,1086.7 515.2,1085.3 515.7,1084 516.3,1082.9 516.8,1081.9 517.3,1081.2 517.7,1080.6 518.2,1080.3 518.6,1080.1 519,1079.9 519.5,1079.8 520,1079.7 520.5,1079.6 521,1079.4 521.5,1079.3 521.9,1079.3 522.4,1079.2 523,1079.2 523.7,1079.1 524.6,1079.1 525.7,1079 527,1078.9 528.5,1078.8 530.2,1078.6 532,1078.5 533.9,1078.4 535.8,1078.2 537.9,1078.1 540,1078 542.2,1077.9 544.5,1077.8 546.9,1077.7 549.4,1077.7 552,1077.6 554.5,1077.5 557,1077.5 559.5,1077.4" fill="none" stroke="#1f4fa3" stroke-width="3.7" />
<circle cx="494.7" cy="1181.8" r="2.9" fill="#1f4fa3" />
<circle cx="496" cy="1179.8" r="2.9" fill="#1f4fa3" />
<circle cx="497.8" cy="1175.4" r="2.9" fill="#1f4fa3" />
<circle cx="500.2" cy="1168.6" r="2.9" fill="#1f4fa3" />
<circle cx="502.2" cy="1160.4" r="2.9" fill="#1f4fa3" />
<circle cx="503.7" cy="1150.7" r="2.9" fill="#1f4fa3" />
<circle cx="505.6" cy="1136.8" r="2.9" fill="#1f4fa3" />
<circle cx="507.9" cy="1118.6" r="2.9" fill="#1f4fa3" />
<circle cx="509.9" cy="1105.3" r="2.9" fill="#1f4fa3" />
<circle cx="511.5" cy="1097" r="2.9" fill="#1f4fa3" />
<circle cx="513.4" cy="1089.9" r="2.9" fill="#1f4fa3" />
<circle cx="515.7" cy="1084" r="2.9" fill="#1f4fa3" />
</g>
<rect x="335" y="978.2" width="226.3" height="225.6" fill="none" stroke="#000" stroke-width="3.6"/>
<line x1="357" y1="1203.8" x2="357" y2="1199.8" stroke="#000" stroke-width="2.4" />
<line x1="357" y1="978.2" x2="357" y2="982.2" stroke="#000" stroke-width="2.4" />
<line x1="386.7" y1="1203.8" x2="386.7" y2="1199.8" stroke="#000" stroke-width="2.4" />
<line x1="386.7" y1="978.2" x2="386.7" y2="982.2" stroke="#000" stroke-width="2.4" />
<line x1="416.4" y1="1203.8" x2="416.4" y2="1199.8" stroke="#000" stroke-width="2.4" />
<line x1="416.4" y1="978.2" x2="416.4" y2="982.2" stroke="#000" stroke-width="2.4" />
<line x1="466.4" y1="1203.8" x2="466.4" y2="1199.8" stroke="#000" stroke-width="2.4" />
<line x1="466.4" y1="978.2" x2="466.4" y2="982.2" stroke="#000" stroke-width="2.4" />
<line x1="497.9" y1="1203.8" x2="497.9" y2="1199.8" stroke="#000" stroke-width="2.4" />
<line x1="497.9" y1="978.2" x2="497.9" y2="982.2" stroke="#000" stroke-width="2.4" />
<line x1="529.4" y1="1203.8" x2="529.4" y2="1199.8" stroke="#000" stroke-width="2.4" />
<line x1="529.4" y1="978.2" x2="529.4" y2="982.2" stroke="#000" stroke-width="2.4" />
<line x1="335" y1="1183.5" x2="341" y2="1183.5" stroke="#000" stroke-width="2.4" />
<line x1="561.3" y1="1183.5" x2="555.3" y2="1183.5" stroke="#000" stroke-width="2.4" />
<line x1="335" y1="1132.2" x2="338.5" y2="1132.2" stroke="#000" stroke-width="2.4" />
<line x1="561.3" y1="1132.2" x2="557.8" y2="1132.2" stroke="#000" stroke-width="2.4" />
<line x1="335" y1="1080.9" x2="341" y2="1080.9" stroke="#000" stroke-width="2.4" />
<line x1="561.3" y1="1080.9" x2="555.3" y2="1080.9" stroke="#000" stroke-width="2.4" />
<line x1="335" y1="1029.6" x2="338.5" y2="1029.6" stroke="#000" stroke-width="2.4" />
<line x1="561.3" y1="1029.6" x2="557.8" y2="1029.6" stroke="#000" stroke-width="2.4" />
<line x1="446.6" y1="977.2" x2="446.6" y2="979.2" stroke="#000" stroke-width="3.2" stroke-linecap="round"/>
<line x1="450.6" y1="977.2" x2="450.6" y2="979.2" stroke="#000" stroke-width="3.2" stroke-linecap="round"/>
<line x1="446.6" y1="1202.8" x2="446.6" y2="1204.8" stroke="#000" stroke-width="3.2" stroke-linecap="round"/>
<line x1="450.6" y1="1202.8" x2="450.6" y2="1204.8" stroke="#000" stroke-width="3.2" stroke-linecap="round"/>
<text x="345" y="1225" font-size="16.8" text-anchor="middle" fill="#231815">0.8</text>
<text x="375.6" y="1225" font-size="16.8" text-anchor="middle" fill="#231815">1.0</text>
<text x="405.2" y="1225" font-size="16.8" text-anchor="middle" fill="#231815">1.2</text>
<text x="453.4" y="1225" font-size="16.8" text-anchor="middle" fill="#231815">2.6</text>
<text x="485.9" y="1225" font-size="16.8" text-anchor="middle" fill="#231815">2.8</text>
<text x="518.3" y="1225" font-size="16.8" text-anchor="middle" fill="#231815">3.0</text>
<text x="549.8" y="1225" font-size="16.8" text-anchor="middle" fill="#231815">3.2</text>
<text x="444" y="1249" font-size="23.5" text-anchor="middle" fill="#231815">T (K)</text>
<text x="326.5" y="1191.5" font-size="22" text-anchor="end" fill="#231815">0</text>
<text x="326.5" y="1088.9" font-size="22" text-anchor="end" fill="#231815">1</text>
<text x="326.5" y="986.3" font-size="22" text-anchor="end" fill="#231815">2</text>
<text x="303" y="1097" font-size="23" text-anchor="middle" fill="#231815" transform="rotate(-90 303 1097)">ρ (m<tspan font-family="'Liberation Serif', serif">Ω</tspan> cm)</text>
<text x="351.2" y="1117.5" font-size="21" fill="#231815">x3</text>
<text x="431.2" y="1116.8" font-size="17" fill="#e71f19" font-weight="bold" textLength="38.5" lengthAdjust="spacingAndGlyphs" stroke="#e71f19" stroke-width="0.5">2.7K</text>
<text x="411.2" y="1148" font-size="17" fill="#6fba2c" font-weight="bold" textLength="47.5" lengthAdjust="spacingAndGlyphs" stroke="#6fba2c" stroke-width="0.5">2.65K</text>
<text x="394.5" y="1191.7" font-size="17" fill="#000" font-weight="bold" textLength="38.5" lengthAdjust="spacingAndGlyphs" stroke="#000" stroke-width="0.5">0.8K</text>
<text x="512.4" y="1194.6" font-size="17" fill="#1f4fa3" font-weight="bold" textLength="39" lengthAdjust="spacingAndGlyphs" stroke="#1f4fa3" stroke-width="0.5">2.8K</text>
<line x1="471.2" y1="1111.2" x2="480.1" y2="1161.2" stroke="#e71f19" stroke-width="2.6" />
<polygon points="481.9,1171 476.6,1161.8 483.7,1160.5" fill="#e71f19" />
<line x1="460.1" y1="1150" x2="472.8" y2="1171" stroke="#6fba2c" stroke-width="3" />
<polygon points="478,1179.5 469.2,1173.1 476.4,1168.8" fill="#6fba2c" />
<line x1="382.3" y1="1188" x2="366.5" y2="1183.4" stroke="#000" stroke-width="2.8" />
<polygon points="356.9,1180.6 367.7,1179.4 365.3,1187.4" fill="#000" />
<line x1="496" y1="1182" x2="500.5" y2="1184.8" stroke="#1f4fa3" stroke-width="3" />
<polygon points="506.5,1188.5 498.3,1188.4 502.8,1181.2" fill="#1f4fa3" />
<text x="627.4" y="579.2" font-size="38.5" fill="#231815" textLength="49.3" lengthAdjust="spacingAndGlyphs">(e)</text>
<g stroke-linecap="round" stroke-linejoin="round">
<polyline points="806.1,1139.6 809.2,1132.1 812.2,1124.6 815.2,1117.2 818.3,1110 821.3,1102.9 824.4,1096.6 827.4,1092.1 830.5,1089.4 833.5,1087 836.6,1084.5 839.6,1082.1 842.6,1079.8 845.7,1077.4 848.7,1074.9 851.8,1072.5 854.8,1070 857.9,1067.6 860.9,1065.2 863.9,1062.7 867,1060.3 870,1057.8 873.1,1055.3 876.1,1052.7 879.2,1050.2 882.2,1047.6 885.2,1044.9 888.3,1042.3 891.3,1039.6 894.4,1036.9 897.4,1034.2 900.5,1031.4 903.5,1028.7 906.5,1025.9 909.6,1023.1 912.6,1020.3 915.7,1017.6 918.7,1014.8 921.8,1012 924.8,1009.2 927.8,1006.5 930.9,1003.7 933.9,1001 937,998.2 940,995.4 943.1,992.6 946.1,989.8 949.1,986.9 952.2,984.1 955.2,981.3 958.3,978.5 961.3,975.8 964.4,973 967.4,970.3 970.5,967.6 973.5,965 976.5,962.4 979.6,959.9 982.6,957.4 985.7,954.9 988.7,952.4 991.8,949.9 994.8,947.4 997.8,945 1000.9,942.5 1003.9,940.1 1007,937.7 1010,935.3 1013.1,932.9 1016.1,930.5 1019.1,928.1 1022.2,925.7 1025.2,923.3 1028.3,920.9 1031.3,918.5 1034.4,916.2 1037.4,913.8 1040.4,911.4 1043.5,909.1 1046.5,906.7 1049.6,904.3 1052.6,901.9 1055.7,899.6 1058.7,897.2 1061.7,894.8 1064.8,892.4 1067.8,890 1070.9,887.6 1073.9,885.2 1077,882.8 1080,880.4 1083,878 1086.1,875.6 1089.1,873.2 1092.2,870.8 1095.2,868.4 1098.3,866 1101.3,863.6 1104.4,861.2 1107.4,858.7 1110.4,856.3 1113.5,853.9 1116.5,851.5 1119.6,849.1 1122.6,846.7 1125.7,844.3 1128.7,841.9 1131.7,839.5 1134.8,837.1 1137.8,834.7 1140.9,832.3 1143.9,829.9 1147,827.4 1150,825 1153,822.6 1156.1,820.2 1159.1,817.8 1162.2,815.4 1165.2,813 1168.3,810.6 1171.3,808.2" fill="none" stroke="#231815" stroke-width="5.1" />
<polyline points="806.1,1106.3 808.3,1107.2 810.4,1108.2 812.6,1109.2 814.8,1110.1 816.9,1110.9 819.1,1111.9 821.3,1112.7 823.4,1113.3 825.6,1113.5 827.7,1113.2 829.9,1112.7 832.1,1111.8 834.2,1110.3 836.4,1108.3 838.6,1105.8 840.7,1103.2 842.9,1100.3 845,1097.3 847.2,1094.4 849.4,1091.5 851.5,1088.8 853.7,1086 855.9,1083.3 858,1080.6 860.2,1077.9 862.3,1075.2 864.5,1072.5 866.7,1069.7 868.8,1066.9 871,1064 873.1,1061.2 875.3,1058.4 877.5,1055.8 879.6,1053.3 881.8,1051.1 884,1049.1 886.1,1047.3 888.3,1045.8 890.4,1044.4 892.6,1043.1 894.8,1041.9 896.9,1040.8 899.1,1039.7 901.3,1038.6 903.4,1037.4 905.6,1036.2 907.7,1035.1 909.9,1034 912.1,1032.8 914.2,1031.7 916.4,1030.7 918.6,1029.6 920.7,1028.6 922.9,1027.5 925,1026.5 927.2,1025.5 929.4,1024.5 931.5,1023.5 933.7,1022.6 935.9,1021.7 938,1020.7 940.2,1019.8 942.3,1019 944.5,1018.1 946.7,1017.2 948.8,1016.4 951,1015.5 953.2,1014.7 955.3,1013.8 957.5,1013 959.6,1012.1 961.8,1011.3 964,1010.5 966.1,1009.7 968.3,1008.9 970.5,1008.1 972.6,1007.3 974.8,1006.5 976.9,1005.7 979.1,1004.9" fill="none" stroke="#1f4fa3" stroke-width="4.8" />
<polyline points="806.1,1180.8 807.9,1180.3 809.8,1179.9 811.6,1179.4 813.4,1178.7 815.2,1177.7 817.1,1176.6 818.9,1175.9 820.7,1174.9 822.6,1173 824.4,1169.3 826.2,1163 828,1153.4 829.9,1141.7 831.7,1129.5 833.5,1118.4 835.3,1109.5 837.2,1101.3 839,1093.4 840.8,1085.8 842.6,1078.3 844.5,1070.8 846.3,1063.3 848.1,1055.6 849.9,1047.5 851.8,1039.1 853.6,1030.4 855.4,1021.6 857.2,1012.6 859.1,1003.6 860.9,994.5 862.7,985.5 864.5,976.6 866.4,967.7 868.2,959 870,950.3 871.9,941.6 873.7,933 875.5,924.3 877.3,915.8 879.2,907.3 881,898.8 882.8,890.4 884.6,882.2 886.5,874.4 888.3,866.7 890.1,859 891.9,850.9 893.8,842.3 895.6,833.2 897.4,823.7 899.2,814.1 901.1,804.6 902.9,795.6 904.7,786.9 906.5,778.4 908.4,770.1 910.2,762 912,754.4 913.8,747.3 915.7,740.7 917.5,734.7 919.3,729 921.2,723.8 923,718.8 924.8,714 926.6,709.6 928.5,705.5 930.3,701.7 932.1,698.2 933.9,695 935.8,692 937.6,689.4 939.4,687.2 941.2,685.1 943.1,683.3 944.9,681.7 946.7,680.3 948.5,679.3 950.4,678.5 952.2,677.9 954,677.3 955.8,676.8 957.7,676.4 959.5,676.1 961.3,675.9 963.1,675.7 965,675.4 966.8,675.3 968.6,675.1 970.5,674.9 972.3,674.8 974.1,674.6 975.9,674.5 977.8,674.4 979.6,674.2 981.4,674.1 983.2,674 985.1,673.8 986.9,673.7 988.7,673.6 990.5,673.4 992.4,673.3 994.2,673.2 996,673 997.8,672.9 999.7,672.8 1001.5,672.6 1003.3,672.5 1005.1,672.4 1007,672.2 1008.8,672.1 1010.6,672 1012.4,671.9 1014.3,671.7 1016.1,671.6 1017.9,671.5 1019.8,671.4 1021.6,671.2 1023.4,671.1 1025.2,671 1027.1,670.9 1028.9,670.7 1030.7,670.6 1032.5,670.5 1034.4,670.4 1036.2,670.3 1038,670.1 1039.8,670 1041.7,669.9 1043.5,669.8 1045.3,669.7 1047.1,669.6 1049,669.4 1050.8,669.3 1052.6,669.2 1054.4,669.1 1056.3,669 1058.1,668.9 1059.9,668.8 1061.7,668.6 1063.6,668.5 1065.4,668.4 1067.2,668.3 1069,668.2 1070.9,668.1 1072.7,668 1074.5,667.9 1076.4,667.8 1078.2,667.7 1080,667.6 1081.8,667.4 1083.7,667.3 1085.5,667.2 1087.3,667.1 1089.1,667 1091,666.9 1092.8,666.8 1094.6,666.7 1096.4,666.6 1098.3,666.5 1100.1,666.4 1101.9,666.3 1103.7,666.2 1105.6,666.1 1107.4,666 1109.2,665.9 1111,665.8 1112.9,665.7 1114.7,665.6 1116.5,665.5 1118.3,665.4 1120.2,665.3 1122,665.3 1123.8,665.2 1125.7,665.1 1127.5,665 1129.3,664.9 1131.1,664.8 1133,664.7 1134.8,664.6 1136.6,664.5 1138.4,664.4 1140.3,664.4 1142.1,664.3 1143.9,664.2 1145.7,664.1 1147.6,664 1149.4,663.9 1151.2,663.8 1153,663.8 1154.9,663.7 1156.7,663.6 1158.5,663.5 1160.3,663.4 1162.2,663.3 1164,663.3 1165.8,663.2 1167.6,663.1 1169.5,663 1171.3,662.9" fill="none" stroke="#e71f19" stroke-width="5.6" />
</g>
<rect x="799.6" y="1175.8" width="13" height="10" fill="#e71f19" rx="4" ry="4"/>
<rect x="818.8" y="1161.4" width="13" height="10" fill="#e71f19" rx="4" ry="4"/>
<rect x="876.5" y="884.5" width="13" height="10" fill="#e71f19" rx="4" ry="4"/>
<rect x="974.6" y="671" width="9" height="8" fill="#e71f19" rx="4" ry="4"/>
<rect x="1165.8" y="657.9" width="13" height="10" fill="#e71f19" rx="4" ry="4"/>
<line x1="806.1" y1="1137.4" x2="806.1" y2="1141.8" stroke="#231815" stroke-width="2" />
<line x1="801.6" y1="1137.4" x2="810.6" y2="1137.4" stroke="#231815" stroke-width="2" />
<line x1="801.6" y1="1141.8" x2="810.6" y2="1141.8" stroke="#231815" stroke-width="2" />
<line x1="825.3" y1="1092.4" x2="825.3" y2="1097.4" stroke="#231815" stroke-width="2.4" />
<line x1="819.8" y1="1092.4" x2="830.8" y2="1092.4" stroke="#231815" stroke-width="2.4" />
<line x1="819.8" y1="1097.4" x2="830.8" y2="1097.4" stroke="#231815" stroke-width="2.4" />
<line x1="883" y1="1044.1" x2="883" y2="1049.7" stroke="#231815" stroke-width="2" />
<line x1="878" y1="1044.1" x2="888" y2="1044.1" stroke="#231815" stroke-width="2" />
<line x1="878" y1="1049.7" x2="888" y2="1049.7" stroke="#231815" stroke-width="2" />
<line x1="979.1" y1="954.3" x2="979.1" y2="966.3" stroke="#231815" stroke-width="2.2" />
<line x1="973.8" y1="954.3" x2="984.3" y2="954.3" stroke="#231815" stroke-width="2.2" />
<line x1="973.8" y1="966.3" x2="984.3" y2="966.3" stroke="#231815" stroke-width="2.2" />
<line x1="1171.3" y1="797.9" x2="1171.3" y2="818.5" stroke="#231815" stroke-width="2.2" />
<line x1="1165.7" y1="797.9" x2="1176.9" y2="797.9" stroke="#231815" stroke-width="2.2" />
<line x1="1165.7" y1="818.5" x2="1176.9" y2="818.5" stroke="#231815" stroke-width="2.2" />
<line x1="806.1" y1="1104" x2="806.1" y2="1108.6" stroke="#1f4fa3" stroke-width="2.2" />
<line x1="800.1" y1="1104" x2="812.1" y2="1104" stroke="#1f4fa3" stroke-width="2.2" />
<line x1="800.1" y1="1108.6" x2="812.1" y2="1108.6" stroke="#1f4fa3" stroke-width="2.2" />
<line x1="825.3" y1="1110.7" x2="825.3" y2="1116.3" stroke="#1f4fa3" stroke-width="2.2" />
<line x1="819.3" y1="1110.7" x2="831.3" y2="1110.7" stroke="#1f4fa3" stroke-width="2.2" />
<line x1="819.3" y1="1116.3" x2="831.3" y2="1116.3" stroke="#1f4fa3" stroke-width="2.2" />
<line x1="883" y1="1047.3" x2="883" y2="1052.5" stroke="#1f4fa3" stroke-width="2.2" />
<line x1="878" y1="1047.3" x2="888" y2="1047.3" stroke="#1f4fa3" stroke-width="2.2" />
<line x1="878" y1="1052.5" x2="888" y2="1052.5" stroke="#1f4fa3" stroke-width="2.2" />
<line x1="979.1" y1="990.9" x2="979.1" y2="1018.9" stroke="#1f4fa3" stroke-width="2.6" />
<line x1="973.7" y1="990.9" x2="984.4" y2="990.9" stroke="#1f4fa3" stroke-width="2.6" />
<line x1="973.7" y1="1018.9" x2="984.4" y2="1018.9" stroke="#1f4fa3" stroke-width="2.6" />
<rect x="977.5" y="958.9" width="3.2" height="2.8" fill="#fff" stroke="#231815" stroke-width="0.6"/>
<rect x="1169.7" y="806.8" width="3.2" height="2.8" fill="#fff" stroke="#231815" stroke-width="0.6"/>
<rect x="977.5" y="1003.5" width="3.2" height="2.8" fill="#fff" stroke="#1f4fa3" stroke-width="0.6"/>
<rect x="881.4" y="1048.5" width="3.2" height="2.8" fill="#fff" stroke="#1f4fa3" stroke-width="0.6"/>
<rect x="823.7" y="1112.1" width="3.2" height="2.8" fill="#fff" stroke="#1f4fa3" stroke-width="0.6"/>
<rect x="787.2" y="566.6" width="421.8" height="690.7" fill="none" stroke="#231815" stroke-width="2"/>
<line x1="834.9" y1="1257.3" x2="834.9" y2="1253.3" stroke="#231815" stroke-width="1.8" />
<line x1="834.9" y1="566.6" x2="834.9" y2="570.6" stroke="#231815" stroke-width="1.8" />
<line x1="883" y1="1257.3" x2="883" y2="1249.3" stroke="#231815" stroke-width="1.8" />
<line x1="883" y1="566.6" x2="883" y2="574.6" stroke="#231815" stroke-width="1.8" />
<line x1="931" y1="1257.3" x2="931" y2="1253.3" stroke="#231815" stroke-width="1.8" />
<line x1="931" y1="566.6" x2="931" y2="570.6" stroke="#231815" stroke-width="1.8" />
<line x1="979.1" y1="1257.3" x2="979.1" y2="1249.3" stroke="#231815" stroke-width="1.8" />
<line x1="979.1" y1="566.6" x2="979.1" y2="574.6" stroke="#231815" stroke-width="1.8" />
<line x1="1027.2" y1="1257.3" x2="1027.2" y2="1253.3" stroke="#231815" stroke-width="1.8" />
<line x1="1027.2" y1="566.6" x2="1027.2" y2="570.6" stroke="#231815" stroke-width="1.8" />
<line x1="1075.2" y1="1257.3" x2="1075.2" y2="1249.3" stroke="#231815" stroke-width="1.8" />
<line x1="1075.2" y1="566.6" x2="1075.2" y2="574.6" stroke="#231815" stroke-width="1.8" />
<line x1="1123.2" y1="1257.3" x2="1123.2" y2="1253.3" stroke="#231815" stroke-width="1.8" />
<line x1="1123.2" y1="566.6" x2="1123.2" y2="570.6" stroke="#231815" stroke-width="1.8" />
<line x1="1171.3" y1="1257.3" x2="1171.3" y2="1249.3" stroke="#231815" stroke-width="1.8" />
<line x1="1171.3" y1="566.6" x2="1171.3" y2="574.6" stroke="#231815" stroke-width="1.8" />
<line x1="787.2" y1="574" x2="795.2" y2="574" stroke="#231815" stroke-width="1.8" />
<line x1="1209" y1="574" x2="1201" y2="574" stroke="#231815" stroke-width="1.8" />
<line x1="787.2" y1="619.4" x2="791.2" y2="619.4" stroke="#231815" stroke-width="1.8" />
<line x1="1209" y1="619.4" x2="1205" y2="619.4" stroke="#231815" stroke-width="1.8" />
<line x1="787.2" y1="664.8" x2="795.2" y2="664.8" stroke="#231815" stroke-width="1.8" />
<line x1="1209" y1="664.8" x2="1201" y2="664.8" stroke="#231815" stroke-width="1.8" />
<line x1="787.2" y1="710.2" x2="791.2" y2="710.2" stroke="#231815" stroke-width="1.8" />
<line x1="1209" y1="710.2" x2="1205" y2="710.2" stroke="#231815" stroke-width="1.8" />
<line x1="787.2" y1="755.6" x2="795.2" y2="755.6" stroke="#231815" stroke-width="1.8" />
<line x1="1209" y1="755.6" x2="1201" y2="755.6" stroke="#231815" stroke-width="1.8" />
<line x1="787.2" y1="801" x2="791.2" y2="801" stroke="#231815" stroke-width="1.8" />
<line x1="1209" y1="801" x2="1205" y2="801" stroke="#231815" stroke-width="1.8" />
<line x1="787.2" y1="846.4" x2="795.2" y2="846.4" stroke="#231815" stroke-width="1.8" />
<line x1="1209" y1="846.4" x2="1201" y2="846.4" stroke="#231815" stroke-width="1.8" />
<line x1="787.2" y1="891.8" x2="791.2" y2="891.8" stroke="#231815" stroke-width="1.8" />
<line x1="1209" y1="891.8" x2="1205" y2="891.8" stroke="#231815" stroke-width="1.8" />
<line x1="787.2" y1="937.2" x2="795.2" y2="937.2" stroke="#231815" stroke-width="1.8" />
<line x1="1209" y1="937.2" x2="1201" y2="937.2" stroke="#231815" stroke-width="1.8" />
<line x1="787.2" y1="982.6" x2="791.2" y2="982.6" stroke="#231815" stroke-width="1.8" />
<line x1="1209" y1="982.6" x2="1205" y2="982.6" stroke="#231815" stroke-width="1.8" />
<line x1="787.2" y1="1028" x2="795.2" y2="1028" stroke="#231815" stroke-width="1.8" />
<line x1="1209" y1="1028" x2="1201" y2="1028" stroke="#231815" stroke-width="1.8" />
<line x1="787.2" y1="1073.4" x2="791.2" y2="1073.4" stroke="#231815" stroke-width="1.8" />
<line x1="1209" y1="1073.4" x2="1205" y2="1073.4" stroke="#231815" stroke-width="1.8" />
<line x1="787.2" y1="1118.8" x2="795.2" y2="1118.8" stroke="#231815" stroke-width="1.8" />
<line x1="1209" y1="1118.8" x2="1201" y2="1118.8" stroke="#231815" stroke-width="1.8" />
<line x1="787.2" y1="1164.2" x2="791.2" y2="1164.2" stroke="#231815" stroke-width="1.8" />
<line x1="1209" y1="1164.2" x2="1205" y2="1164.2" stroke="#231815" stroke-width="1.8" />
<line x1="787.2" y1="1209.6" x2="795.2" y2="1209.6" stroke="#231815" stroke-width="1.8" />
<line x1="1209" y1="1209.6" x2="1201" y2="1209.6" stroke="#231815" stroke-width="1.8" />
<line x1="787.2" y1="1255" x2="791.2" y2="1255" stroke="#231815" stroke-width="1.8" />
<line x1="1209" y1="1255" x2="1205" y2="1255" stroke="#231815" stroke-width="1.8" />
<text x="777" y="585.7" font-size="37.5" text-anchor="end" fill="#231815">4.8</text>
<text x="777" y="676.5" font-size="37.5" text-anchor="end" fill="#231815">2.4</text>
<text x="777" y="767.3" font-size="37.5" text-anchor="end" fill="#231815">0.0</text>
<text x="777" y="858.1" font-size="37.5" text-anchor="end" fill="#231815">-2.4</text>
<text x="777" y="948.9" font-size="37.5" text-anchor="end" fill="#231815">-4.8</text>
<text x="777" y="1039.7" font-size="37.5" text-anchor="end" fill="#231815">-7.2</text>
<text x="777" y="1130.5" font-size="37.5" text-anchor="end" fill="#231815">-9.6</text>
<text x="777" y="1221.3" font-size="37.5" text-anchor="end" fill="#231815">-12.0</text>
<text x="1222.5" y="584" font-size="29.5" fill="#231815" textLength="53.5" lengthAdjust="spacingAndGlyphs">1.30</text>
<text x="1218" y="674.8" font-size="29.5" fill="#231815" textLength="58" lengthAdjust="spacingAndGlyphs">2.60</text>
<text x="1224.5" y="770.5" font-size="29.5" fill="#231815" textLength="56" lengthAdjust="spacingAndGlyphs">0.00</text>
<text x="1218" y="856.4" font-size="29.5" fill="#231815" textLength="68.5" lengthAdjust="spacingAndGlyphs">-2.60</text>
<text x="1218" y="947.2" font-size="29.5" fill="#231815" textLength="68.5" lengthAdjust="spacingAndGlyphs">-1.30</text>
<text x="1218" y="1038" font-size="29.5" fill="#231815" textLength="68.5" lengthAdjust="spacingAndGlyphs">-0.87</text>
<text x="1218" y="1128.8" font-size="29.5" fill="#231815" textLength="68.5" lengthAdjust="spacingAndGlyphs">-0.65</text>
<text x="1218" y="1219.6" font-size="29.5" fill="#231815" textLength="68.5" lengthAdjust="spacingAndGlyphs">-0.52</text>
<text x="787.2" y="1289.2" font-size="30.7" text-anchor="middle" fill="#231815">0</text>
<text x="883.3" y="1289.2" font-size="30.7" text-anchor="middle" fill="#231815">50</text>
<text x="979.4" y="1289.2" font-size="30.7" text-anchor="middle" fill="#231815">100</text>
<text x="1075.5" y="1289.2" font-size="30.7" text-anchor="middle" fill="#231815">150</text>
<text x="1171.6" y="1289.2" font-size="30.7" text-anchor="middle" fill="#231815">200</text>
<text x="1012.7" y="1332.3" font-size="45" text-anchor="middle" fill="#231815" textLength="100.7" lengthAdjust="spacingAndGlyphs">T (K)</text>
<text x="698" y="894.5" font-size="39" text-anchor="middle" fill="#231815" transform="rotate(-90 698 894.5)" textLength="268.5" lengthAdjust="spacingAndGlyphs">R<tspan font-size="26.5" dy="10">H</tspan><tspan dy="-10"> (10</tspan><tspan font-size="26" dy="-17">-4</tspan><tspan dy="17"> cm</tspan><tspan font-size="26" dy="-17">3</tspan><tspan dy="17">/C)</tspan></text>
<text x="1337.8" y="898" font-size="40" text-anchor="middle" fill="#231815" transform="rotate(-90 1337.8 898)" textLength="254.5" lengthAdjust="spacingAndGlyphs">n<tspan font-size="27" dy="10">H</tspan><tspan dy="-10"> (10</tspan><tspan font-size="27" dy="-17">22</tspan><tspan dy="17">  cm</tspan><tspan font-size="27" dy="-17">-3</tspan><tspan dy="17">)</tspan></text>
<line x1="793" y1="584.2" x2="843" y2="584.2" stroke="#e71f19" stroke-width="4.8" stroke-linecap="round"/>
<ellipse cx="816.8" cy="584.2" rx="2.6" ry="4.3" fill="#fff" stroke="#e71f19" stroke-width="0.9"/>
<line x1="793" y1="620.7" x2="843" y2="620.7" stroke="#231815" stroke-width="4.8" stroke-linecap="round"/>
<circle cx="816.8" cy="620.7" r="2.7" fill="#fff" stroke="#231815" stroke-width="0.9"/>
<circle cx="816.8" cy="620.7" r="0.9" fill="#231815" />
<line x1="793" y1="657.3" x2="843" y2="657.3" stroke="#1f4fa3" stroke-width="4.8" stroke-linecap="round"/>
<circle cx="816.8" cy="657.3" r="2.7" fill="#fff" stroke="#1f4fa3" stroke-width="0.9"/>
<circle cx="816.8" cy="657.3" r="0.9" fill="#1f4fa3" />
<text x="849.5" y="591.8" font-size="22.5" fill="#231815">TaS<tspan font-size="15.5" dy="5">2</tspan></text>
<text x="849.5" y="628.5" font-size="22.5" fill="#231815" textLength="136" lengthAdjust="spacingAndGlyphs">TaS<tspan font-size="15.5" dy="5">2</tspan><tspan dy="-5">(CTA</tspan><tspan font-size="15.5" dy="-8">+</tspan><tspan dy="8">)</tspan><tspan font-size="15.5" dy="6">0.1</tspan></text>
<text x="849.5" y="665.1" font-size="22.5" fill="#231815" textLength="136" lengthAdjust="spacingAndGlyphs">TaS<tspan font-size="15.5" dy="5">2</tspan><tspan dy="-5">(CTA</tspan><tspan font-size="15.5" dy="-8">+</tspan><tspan dy="8">)</tspan><tspan font-size="15.5" dy="6">0.2</tspan></text>
<rect x="997.2" y="1012.9" width="196.3" height="196.8" fill="#fff" />
<polyline points="997.2,1012.9 1000.1,1016.5 1002.9,1019.8 1005.8,1021.8 1008.6,1025.2 1011.5,1028.2 1014.4,1029.9 1017.2,1030.4 1020.1,1031.8 1023,1032.5 1025.8,1034 1028.7,1032.4 1031.5,1031.1 1034.4,1030.8 1037.3,1037.1 1040.1,1038.8 1043,1035.7 1045.9,1034.6 1048.7,1035.4 1051.6,1040.3 1054.4,1047.8 1057.3,1050.1 1060.2,1049.7 1063,1049.1 1065.9,1048.4 1068.8,1048.7 1071.6,1054.2 1074.5,1059.7 1077.3,1061 1080.2,1059.5 1083.1,1058 1085.9,1057.1 1088.8,1061.2 1091.7,1063.5 1094.5,1068 1097.4,1072 1100.2,1075.6 1103.1,1076.6 1106,1079.2 1108.8,1078.7 1111.7,1077.1 1114.5,1076 1117.4,1076.4 1120.3,1081.2 1123.1,1086.1 1126,1087.3 1128.9,1086.3 1131.7,1084.7 1134.6,1087.9 1137.4,1090.6 1140.3,1094.1 1143.2,1101.7 1146,1105 1148.9,1106.9 1151.8,1116.1 1154.6,1116.6 1157.5,1118.1 1160.3,1116.8 1163.2,1117.6 1166.1,1117.5 1168.9,1119.7 1171.8,1120.9 1174.7,1121.8" fill="none" stroke="#3cb371" stroke-width="0.8" />
<polygon points="994.5,1011 999.9,1011 997.2,1015.8" fill="#3cb371" />
<polygon points="997.4,1014.6 1002.8,1014.6 1000.1,1019.4" fill="#3cb371" />
<polygon points="1000.2,1017.9 1005.6,1017.9 1002.9,1022.7" fill="#3cb371" />
<polygon points="1003.1,1019.9 1008.5,1019.9 1005.8,1024.7" fill="#3cb371" />
<polygon points="1005.9,1023.3 1011.3,1023.3 1008.6,1028.1" fill="#3cb371" />
<polygon points="1008.8,1026.3 1014.2,1026.3 1011.5,1031.1" fill="#3cb371" />
<polygon points="1011.7,1028 1017.1,1028 1014.4,1032.8" fill="#3cb371" />
<polygon points="1014.5,1028.5 1019.9,1028.5 1017.2,1033.3" fill="#3cb371" />
<polygon points="1017.4,1029.9 1022.8,1029.9 1020.1,1034.7" fill="#3cb371" />
<polygon points="1020.3,1030.6 1025.7,1030.6 1023,1035.4" fill="#3cb371" />
<polygon points="1023.1,1032.1 1028.5,1032.1 1025.8,1036.9" fill="#3cb371" />
<polygon points="1026,1030.5 1031.4,1030.5 1028.7,1035.3" fill="#3cb371" />
<polygon points="1028.8,1029.2 1034.2,1029.2 1031.5,1034" fill="#3cb371" />
<polygon points="1031.7,1028.9 1037.1,1028.9 1034.4,1033.7" fill="#3cb371" />
<polygon points="1034.6,1035.2 1040,1035.2 1037.3,1040" fill="#3cb371" />
<polygon points="1037.4,1036.9 1042.8,1036.9 1040.1,1041.7" fill="#3cb371" />
<polygon points="1040.3,1033.8 1045.7,1033.8 1043,1038.6" fill="#3cb371" />
<polygon points="1043.2,1032.7 1048.6,1032.7 1045.9,1037.5" fill="#3cb371" />
<polygon points="1046,1033.5 1051.4,1033.5 1048.7,1038.3" fill="#3cb371" />
<polygon points="1048.9,1038.4 1054.3,1038.4 1051.6,1043.2" fill="#3cb371" />
<polygon points="1051.7,1045.9 1057.1,1045.9 1054.4,1050.7" fill="#3cb371" />
<polygon points="1054.6,1048.2 1060,1048.2 1057.3,1053" fill="#3cb371" />
<polygon points="1057.5,1047.8 1062.9,1047.8 1060.2,1052.6" fill="#3cb371" />
<polygon points="1060.3,1047.2 1065.7,1047.2 1063,1052" fill="#3cb371" />
<polygon points="1063.2,1046.5 1068.6,1046.5 1065.9,1051.3" fill="#3cb371" />
<polygon points="1066.1,1046.8 1071.5,1046.8 1068.8,1051.6" fill="#3cb371" />
<polygon points="1068.9,1052.3 1074.3,1052.3 1071.6,1057.1" fill="#3cb371" />
<polygon points="1071.8,1057.8 1077.2,1057.8 1074.5,1062.6" fill="#3cb371" />
<polygon points="1074.6,1059.1 1080,1059.1 1077.3,1063.9" fill="#3cb371" />
<polygon points="1077.5,1057.6 1082.9,1057.6 1080.2,1062.4" fill="#3cb371" />
<polygon points="1080.4,1056.1 1085.8,1056.1 1083.1,1060.9" fill="#3cb371" />
<polygon points="1083.2,1055.2 1088.6,1055.2 1085.9,1060" fill="#3cb371" />
<polygon points="1086.1,1059.3 1091.5,1059.3 1088.8,1064.1" fill="#3cb371" />
<polygon points="1089,1061.6 1094.4,1061.6 1091.7,1066.4" fill="#3cb371" />
<polygon points="1091.8,1066.1 1097.2,1066.1 1094.5,1070.9" fill="#3cb371" />
<polygon points="1094.7,1070.1 1100.1,1070.1 1097.4,1074.9" fill="#3cb371" />
<polygon points="1097.5,1073.7 1102.9,1073.7 1100.2,1078.5" fill="#3cb371" />
<polygon points="1100.4,1074.7 1105.8,1074.7 1103.1,1079.5" fill="#3cb371" />
<polygon points="1103.3,1077.3 1108.7,1077.3 1106,1082.1" fill="#3cb371" />
<polygon points="1106.1,1076.8 1111.5,1076.8 1108.8,1081.6" fill="#3cb371" />
<polygon points="1109,1075.2 1114.4,1075.2 1111.7,1080" fill="#3cb371" />
<polygon points="1111.8,1074.1 1117.2,1074.1 1114.5,1078.9" fill="#3cb371" />
<polygon points="1114.7,1074.5 1120.1,1074.5 1117.4,1079.3" fill="#3cb371" />
<polygon points="1117.6,1079.3 1123,1079.3 1120.3,1084.1" fill="#3cb371" />
<polygon points="1120.4,1084.2 1125.8,1084.2 1123.1,1089" fill="#3cb371" />
<polygon points="1123.3,1085.4 1128.7,1085.4 1126,1090.2" fill="#3cb371" />
<polygon points="1126.2,1084.4 1131.6,1084.4 1128.9,1089.2" fill="#3cb371" />
<polygon points="1129,1082.8 1134.4,1082.8 1131.7,1087.6" fill="#3cb371" />
<polygon points="1131.9,1086 1137.3,1086 1134.6,1090.8" fill="#3cb371" />
<polygon points="1134.7,1088.7 1140.1,1088.7 1137.4,1093.5" fill="#3cb371" />
<polygon points="1137.6,1092.2 1143,1092.2 1140.3,1097" fill="#3cb371" />
<polygon points="1140.5,1099.8 1145.9,1099.8 1143.2,1104.6" fill="#3cb371" />
<polygon points="1143.3,1103.1 1148.7,1103.1 1146,1107.9" fill="#3cb371" />
<polygon points="1146.2,1105 1151.6,1105 1148.9,1109.8" fill="#3cb371" />
<polygon points="1149.1,1114.2 1154.5,1114.2 1151.8,1119" fill="#3cb371" />
<polygon points="1151.9,1114.7 1157.3,1114.7 1154.6,1119.5" fill="#3cb371" />
<polygon points="1154.8,1116.2 1160.2,1116.2 1157.5,1121" fill="#3cb371" />
<polygon points="1157.6,1114.9 1163,1114.9 1160.3,1119.7" fill="#3cb371" />
<polygon points="1160.5,1115.7 1165.9,1115.7 1163.2,1120.5" fill="#3cb371" />
<polygon points="1163.4,1115.6 1168.8,1115.6 1166.1,1120.4" fill="#3cb371" />
<polygon points="1166.2,1117.8 1171.6,1117.8 1168.9,1122.6" fill="#3cb371" />
<polygon points="1169.1,1119 1174.5,1119 1171.8,1123.8" fill="#3cb371" />
<polygon points="1172,1119.9 1177.4,1119.9 1174.7,1124.7" fill="#3cb371" />
<polyline points="997.2,1012.9 1000.1,1016.5 1002.9,1018.5 1005.8,1021.8 1008.6,1024.1 1011.5,1026.9 1014.4,1031.3 1017.2,1034.3 1020.1,1035 1023,1039.4 1025.8,1042.4 1028.7,1043.3 1031.5,1047.5 1034.4,1049.4 1037.3,1053.1 1040.1,1055.5 1043,1059.5 1045.9,1061 1048.7,1063.1 1051.6,1066.6 1054.4,1068.6 1057.3,1071.2 1060.2,1075.2 1063,1075.6 1065.9,1078.3 1068.8,1081.2 1071.6,1084 1074.5,1083.9 1077.3,1087 1080.2,1088.4 1083.1,1090 1085.9,1092.4 1088.8,1093.8 1091.7,1097 1094.5,1097.6 1097.4,1100 1100.2,1099.9 1103.1,1101.1 1106,1104.1 1108.8,1105.1 1111.7,1106.2 1114.5,1105.9 1117.4,1109.3 1120.3,1111.2 1123.1,1114.6 1126,1116.8 1128.9,1120 1131.7,1123.1 1134.6,1125.5 1137.4,1128.6 1140.3,1131 1143.2,1135 1146,1137.8 1148.9,1141.5 1151.8,1144.5 1154.6,1148.7 1157.5,1153.2 1160.3,1154.5 1163.2,1157.4 1166.1,1160.6 1168.9,1164.6 1171.8,1167.3 1174.7,1171" fill="none" stroke="#f3b21c" stroke-width="0.8" />
<polygon points="994.5,1014.8 999.9,1014.8 997.2,1010" fill="#f3b21c" />
<polygon points="997.4,1018.4 1002.8,1018.4 1000.1,1013.6" fill="#f3b21c" />
<polygon points="1000.2,1020.4 1005.6,1020.4 1002.9,1015.6" fill="#f3b21c" />
<polygon points="1003.1,1023.7 1008.5,1023.7 1005.8,1018.9" fill="#f3b21c" />
<polygon points="1005.9,1026 1011.3,1026 1008.6,1021.2" fill="#f3b21c" />
<polygon points="1008.8,1028.8 1014.2,1028.8 1011.5,1024" fill="#f3b21c" />
<polygon points="1011.7,1033.2 1017.1,1033.2 1014.4,1028.4" fill="#f3b21c" />
<polygon points="1014.5,1036.2 1019.9,1036.2 1017.2,1031.4" fill="#f3b21c" />
<polygon points="1017.4,1036.9 1022.8,1036.9 1020.1,1032.1" fill="#f3b21c" />
<polygon points="1020.3,1041.3 1025.7,1041.3 1023,1036.5" fill="#f3b21c" />
<polygon points="1023.1,1044.3 1028.5,1044.3 1025.8,1039.5" fill="#f3b21c" />
<polygon points="1026,1045.2 1031.4,1045.2 1028.7,1040.4" fill="#f3b21c" />
<polygon points="1028.8,1049.4 1034.2,1049.4 1031.5,1044.6" fill="#f3b21c" />
<polygon points="1031.7,1051.3 1037.1,1051.3 1034.4,1046.5" fill="#f3b21c" />
<polygon points="1034.6,1055 1040,1055 1037.3,1050.2" fill="#f3b21c" />
<polygon points="1037.4,1057.4 1042.8,1057.4 1040.1,1052.6" fill="#f3b21c" />
<polygon points="1040.3,1061.4 1045.7,1061.4 1043,1056.6" fill="#f3b21c" />
<polygon points="1043.2,1062.9 1048.6,1062.9 1045.9,1058.1" fill="#f3b21c" />
<polygon points="1046,1065 1051.4,1065 1048.7,1060.2" fill="#f3b21c" />
<polygon points="1048.9,1068.5 1054.3,1068.5 1051.6,1063.7" fill="#f3b21c" />
<polygon points="1051.7,1070.5 1057.1,1070.5 1054.4,1065.7" fill="#f3b21c" />
<polygon points="1054.6,1073.1 1060,1073.1 1057.3,1068.3" fill="#f3b21c" />
<polygon points="1057.5,1077.1 1062.9,1077.1 1060.2,1072.3" fill="#f3b21c" />
<polygon points="1060.3,1077.5 1065.7,1077.5 1063,1072.7" fill="#f3b21c" />
<polygon points="1063.2,1080.2 1068.6,1080.2 1065.9,1075.4" fill="#f3b21c" />
<polygon points="1066.1,1083.1 1071.5,1083.1 1068.8,1078.3" fill="#f3b21c" />
<polygon points="1068.9,1085.9 1074.3,1085.9 1071.6,1081.1" fill="#f3b21c" />
<polygon points="1071.8,1085.8 1077.2,1085.8 1074.5,1081" fill="#f3b21c" />
<polygon points="1074.6,1088.9 1080,1088.9 1077.3,1084.1" fill="#f3b21c" />
<polygon points="1077.5,1090.3 1082.9,1090.3 1080.2,1085.5" fill="#f3b21c" />
<polygon points="1080.4,1091.9 1085.8,1091.9 1083.1,1087.1" fill="#f3b21c" />
<polygon points="1083.2,1094.3 1088.6,1094.3 1085.9,1089.5" fill="#f3b21c" />
<polygon points="1086.1,1095.7 1091.5,1095.7 1088.8,1090.9" fill="#f3b21c" />
<polygon points="1089,1098.9 1094.4,1098.9 1091.7,1094.1" fill="#f3b21c" />
<polygon points="1091.8,1099.5 1097.2,1099.5 1094.5,1094.7" fill="#f3b21c" />
<polygon points="1094.7,1101.9 1100.1,1101.9 1097.4,1097.1" fill="#f3b21c" />
<polygon points="1097.5,1101.8 1102.9,1101.8 1100.2,1097" fill="#f3b21c" />
<polygon points="1100.4,1103 1105.8,1103 1103.1,1098.2" fill="#f3b21c" />
<polygon points="1103.3,1106 1108.7,1106 1106,1101.2" fill="#f3b21c" />
<polygon points="1106.1,1107 1111.5,1107 1108.8,1102.2" fill="#f3b21c" />
<polygon points="1109,1108.1 1114.4,1108.1 1111.7,1103.3" fill="#f3b21c" />
<polygon points="1111.8,1107.8 1117.2,1107.8 1114.5,1103" fill="#f3b21c" />
<polygon points="1114.7,1111.2 1120.1,1111.2 1117.4,1106.4" fill="#f3b21c" />
<polygon points="1117.6,1113.1 1123,1113.1 1120.3,1108.3" fill="#f3b21c" />
<polygon points="1120.4,1116.5 1125.8,1116.5 1123.1,1111.7" fill="#f3b21c" />
<polygon points="1123.3,1118.7 1128.7,1118.7 1126,1113.9" fill="#f3b21c" />
<polygon points="1126.2,1121.9 1131.6,1121.9 1128.9,1117.1" fill="#f3b21c" />
<polygon points="1129,1125 1134.4,1125 1131.7,1120.2" fill="#f3b21c" />
<polygon points="1131.9,1127.4 1137.3,1127.4 1134.6,1122.6" fill="#f3b21c" />
<polygon points="1134.7,1130.5 1140.1,1130.5 1137.4,1125.7" fill="#f3b21c" />
<polygon points="1137.6,1132.9 1143,1132.9 1140.3,1128.1" fill="#f3b21c" />
<polygon points="1140.5,1136.9 1145.9,1136.9 1143.2,1132.1" fill="#f3b21c" />
<polygon points="1143.3,1139.7 1148.7,1139.7 1146,1134.9" fill="#f3b21c" />
<polygon points="1146.2,1143.4 1151.6,1143.4 1148.9,1138.6" fill="#f3b21c" />
<polygon points="1149.1,1146.4 1154.5,1146.4 1151.8,1141.6" fill="#f3b21c" />
<polygon points="1151.9,1150.6 1157.3,1150.6 1154.6,1145.8" fill="#f3b21c" />
<polygon points="1154.8,1155.1 1160.2,1155.1 1157.5,1150.3" fill="#f3b21c" />
<polygon points="1157.6,1156.4 1163,1156.4 1160.3,1151.6" fill="#f3b21c" />
<polygon points="1160.5,1159.3 1165.9,1159.3 1163.2,1154.5" fill="#f3b21c" />
<polygon points="1163.4,1162.5 1168.8,1162.5 1166.1,1157.7" fill="#f3b21c" />
<polygon points="1166.2,1166.5 1171.6,1166.5 1168.9,1161.7" fill="#f3b21c" />
<polygon points="1169.1,1169.2 1174.5,1169.2 1171.8,1164.4" fill="#f3b21c" />
<polygon points="1172,1172.9 1177.4,1172.9 1174.7,1168.1" fill="#f3b21c" />
<polyline points="997.2,1012.9 1000.1,1017.5 1002.9,1017.8 1005.8,1021.3 1008.6,1026.4 1011.5,1028.6 1014.4,1032 1017.2,1034.4 1020.1,1037.1 1023,1043.1 1025.8,1046.7 1028.7,1046.8 1031.5,1051.8 1034.4,1054 1037.3,1060.5 1040.1,1062.4 1043,1065.2 1045.9,1071 1048.7,1072.1 1051.6,1076 1054.4,1083 1057.3,1086.3 1060.2,1087.3 1063,1088.5 1065.9,1093.3 1068.8,1096.6 1071.6,1098.4 1074.5,1102.7 1077.3,1104.9 1080.2,1107 1083.1,1109.7 1085.9,1113.8 1088.8,1116.9 1091.7,1120.1 1094.5,1122.3 1097.4,1126.3 1100.2,1130.8 1103.1,1131.1 1106,1135.8 1108.8,1139 1111.7,1144.2 1114.5,1144.3 1117.4,1147.9 1120.3,1153.7 1123.1,1155.6 1126,1156.7 1128.9,1159.4 1131.7,1161.2 1134.6,1166 1137.4,1167.2 1140.3,1170.7 1143.2,1174.9 1146,1176.6 1148.9,1178.3 1151.8,1181.4 1154.6,1185.8 1157.5,1188.7 1160.3,1194.1 1163.2,1196.6 1166.1,1197.8 1168.9,1202.7 1171.8,1207 1174.7,1209" fill="none" stroke="#e8303a" stroke-width="0.8" />
<rect x="995.4" y="1011.1" width="3.6" height="3.6" fill="#e8303a" />
<rect x="998.3" y="1015.7" width="3.6" height="3.6" fill="#e8303a" />
<rect x="1001.1" y="1016" width="3.6" height="3.6" fill="#e8303a" />
<rect x="1004" y="1019.5" width="3.6" height="3.6" fill="#e8303a" />
<rect x="1006.8" y="1024.6" width="3.6" height="3.6" fill="#e8303a" />
<rect x="1009.7" y="1026.8" width="3.6" height="3.6" fill="#e8303a" />
<rect x="1012.6" y="1030.2" width="3.6" height="3.6" fill="#e8303a" />
<rect x="1015.4" y="1032.6" width="3.6" height="3.6" fill="#e8303a" />
<rect x="1018.3" y="1035.3" width="3.6" height="3.6" fill="#e8303a" />
<rect x="1021.2" y="1041.3" width="3.6" height="3.6" fill="#e8303a" />
<rect x="1024" y="1044.9" width="3.6" height="3.6" fill="#e8303a" />
<rect x="1026.9" y="1045" width="3.6" height="3.6" fill="#e8303a" />
<rect x="1029.7" y="1050" width="3.6" height="3.6" fill="#e8303a" />
<rect x="1032.6" y="1052.2" width="3.6" height="3.6" fill="#e8303a" />
<rect x="1035.5" y="1058.7" width="3.6" height="3.6" fill="#e8303a" />
<rect x="1038.3" y="1060.6" width="3.6" height="3.6" fill="#e8303a" />
<rect x="1041.2" y="1063.4" width="3.6" height="3.6" fill="#e8303a" />
<rect x="1044.1" y="1069.2" width="3.6" height="3.6" fill="#e8303a" />
<rect x="1046.9" y="1070.3" width="3.6" height="3.6" fill="#e8303a" />
<rect x="1049.8" y="1074.2" width="3.6" height="3.6" fill="#e8303a" />
<rect x="1052.6" y="1081.2" width="3.6" height="3.6" fill="#e8303a" />
<rect x="1055.5" y="1084.5" width="3.6" height="3.6" fill="#e8303a" />
<rect x="1058.4" y="1085.5" width="3.6" height="3.6" fill="#e8303a" />
<rect x="1061.2" y="1086.7" width="3.6" height="3.6" fill="#e8303a" />
<rect x="1064.1" y="1091.5" width="3.6" height="3.6" fill="#e8303a" />
<rect x="1067" y="1094.8" width="3.6" height="3.6" fill="#e8303a" />
<rect x="1069.8" y="1096.6" width="3.6" height="3.6" fill="#e8303a" />
<rect x="1072.7" y="1100.9" width="3.6" height="3.6" fill="#e8303a" />
<rect x="1075.5" y="1103.1" width="3.6" height="3.6" fill="#e8303a" />
<rect x="1078.4" y="1105.2" width="3.6" height="3.6" fill="#e8303a" />
<rect x="1081.3" y="1107.9" width="3.6" height="3.6" fill="#e8303a" />
<rect x="1084.1" y="1112" width="3.6" height="3.6" fill="#e8303a" />
<rect x="1087" y="1115.1" width="3.6" height="3.6" fill="#e8303a" />
<rect x="1089.9" y="1118.3" width="3.6" height="3.6" fill="#e8303a" />
<rect x="1092.7" y="1120.5" width="3.6" height="3.6" fill="#e8303a" />
<rect x="1095.6" y="1124.5" width="3.6" height="3.6" fill="#e8303a" />
<rect x="1098.4" y="1129" width="3.6" height="3.6" fill="#e8303a" />
<rect x="1101.3" y="1129.3" width="3.6" height="3.6" fill="#e8303a" />
<rect x="1104.2" y="1134" width="3.6" height="3.6" fill="#e8303a" />
<rect x="1107" y="1137.2" width="3.6" height="3.6" fill="#e8303a" />
<rect x="1109.9" y="1142.4" width="3.6" height="3.6" fill="#e8303a" />
<rect x="1112.7" y="1142.5" width="3.6" height="3.6" fill="#e8303a" />
<rect x="1115.6" y="1146.1" width="3.6" height="3.6" fill="#e8303a" />
<rect x="1118.5" y="1151.9" width="3.6" height="3.6" fill="#e8303a" />
<rect x="1121.3" y="1153.8" width="3.6" height="3.6" fill="#e8303a" />
<rect x="1124.2" y="1154.9" width="3.6" height="3.6" fill="#e8303a" />
<rect x="1127.1" y="1157.6" width="3.6" height="3.6" fill="#e8303a" />
<rect x="1129.9" y="1159.4" width="3.6" height="3.6" fill="#e8303a" />
<rect x="1132.8" y="1164.2" width="3.6" height="3.6" fill="#e8303a" />
<rect x="1135.6" y="1165.4" width="3.6" height="3.6" fill="#e8303a" />
<rect x="1138.5" y="1168.9" width="3.6" height="3.6" fill="#e8303a" />
<rect x="1141.4" y="1173.1" width="3.6" height="3.6" fill="#e8303a" />
<rect x="1144.2" y="1174.8" width="3.6" height="3.6" fill="#e8303a" />
<rect x="1147.1" y="1176.5" width="3.6" height="3.6" fill="#e8303a" />
<rect x="1150" y="1179.6" width="3.6" height="3.6" fill="#e8303a" />
<rect x="1152.8" y="1184" width="3.6" height="3.6" fill="#e8303a" />
<rect x="1155.7" y="1186.9" width="3.6" height="3.6" fill="#e8303a" />
<rect x="1158.5" y="1192.3" width="3.6" height="3.6" fill="#e8303a" />
<rect x="1161.4" y="1194.8" width="3.6" height="3.6" fill="#e8303a" />
<rect x="1164.3" y="1196" width="3.6" height="3.6" fill="#e8303a" />
<rect x="1167.1" y="1200.9" width="3.6" height="3.6" fill="#e8303a" />
<rect x="1170" y="1205.2" width="3.6" height="3.6" fill="#e8303a" />
<rect x="1172.9" y="1207.2" width="3.6" height="3.6" fill="#e8303a" />
<polyline points="997.2,1012.9 1000.1,1014.8 1002.9,1017.8 1005.8,1023.2 1008.6,1026.1 1011.5,1027.2 1014.4,1030.6 1017.2,1033.9 1020.1,1038.1 1023,1040.6 1025.8,1043.9 1028.7,1047.3 1031.5,1051.7 1034.4,1054.2 1037.3,1057.3 1040.1,1059.5 1043,1061.7 1045.9,1064.7 1048.7,1068.6 1051.6,1071.6 1054.4,1074.9 1057.3,1078.3 1060.2,1081 1063,1082.6 1065.9,1085.7 1068.8,1088.2 1071.6,1089.5 1074.5,1093.1 1077.3,1095.5 1080.2,1098.9 1083.1,1102 1085.9,1103.7 1088.8,1106.7 1091.7,1108.1 1094.5,1109.3 1097.4,1112.5 1100.2,1116.2 1103.1,1116.7 1106,1119.2 1108.8,1121.8 1111.7,1123.7 1114.5,1126.6 1117.4,1129.2 1120.3,1133 1123.1,1134.1 1126,1137 1128.9,1141.9 1131.7,1143.2 1134.6,1146.1 1137.4,1149.6 1140.3,1152.2 1143.2,1155 1146,1156.7 1148.9,1160.7 1151.8,1162.8 1154.6,1167.2 1157.5,1169.2 1160.3,1172.6 1163.2,1177.4 1166.1,1180.8 1168.9,1183.6 1171.8,1187.8 1174.7,1192" fill="none" stroke="#2f64a8" stroke-width="0.8" />
<circle cx="997.2" cy="1012.9" r="2.3" fill="#2f64a8" />
<circle cx="1000.1" cy="1014.8" r="2.3" fill="#2f64a8" />
<circle cx="1002.9" cy="1017.8" r="2.3" fill="#2f64a8" />
<circle cx="1005.8" cy="1023.2" r="2.3" fill="#2f64a8" />
<circle cx="1008.6" cy="1026.1" r="2.3" fill="#2f64a8" />
<circle cx="1011.5" cy="1027.2" r="2.3" fill="#2f64a8" />
<circle cx="1014.4" cy="1030.6" r="2.3" fill="#2f64a8" />
<circle cx="1017.2" cy="1033.9" r="2.3" fill="#2f64a8" />
<circle cx="1020.1" cy="1038.1" r="2.3" fill="#2f64a8" />
<circle cx="1023" cy="1040.6" r="2.3" fill="#2f64a8" />
<circle cx="1025.8" cy="1043.9" r="2.3" fill="#2f64a8" />
<circle cx="1028.7" cy="1047.3" r="2.3" fill="#2f64a8" />
<circle cx="1031.5" cy="1051.7" r="2.3" fill="#2f64a8" />
<circle cx="1034.4" cy="1054.2" r="2.3" fill="#2f64a8" />
<circle cx="1037.3" cy="1057.3" r="2.3" fill="#2f64a8" />
<circle cx="1040.1" cy="1059.5" r="2.3" fill="#2f64a8" />
<circle cx="1043" cy="1061.7" r="2.3" fill="#2f64a8" />
<circle cx="1045.9" cy="1064.7" r="2.3" fill="#2f64a8" />
<circle cx="1048.7" cy="1068.6" r="2.3" fill="#2f64a8" />
<circle cx="1051.6" cy="1071.6" r="2.3" fill="#2f64a8" />
<circle cx="1054.4" cy="1074.9" r="2.3" fill="#2f64a8" />
<circle cx="1057.3" cy="1078.3" r="2.3" fill="#2f64a8" />
<circle cx="1060.2" cy="1081" r="2.3" fill="#2f64a8" />
<circle cx="1063" cy="1082.6" r="2.3" fill="#2f64a8" />
<circle cx="1065.9" cy="1085.7" r="2.3" fill="#2f64a8" />
<circle cx="1068.8" cy="1088.2" r="2.3" fill="#2f64a8" />
<circle cx="1071.6" cy="1089.5" r="2.3" fill="#2f64a8" />
<circle cx="1074.5" cy="1093.1" r="2.3" fill="#2f64a8" />
<circle cx="1077.3" cy="1095.5" r="2.3" fill="#2f64a8" />
<circle cx="1080.2" cy="1098.9" r="2.3" fill="#2f64a8" />
<circle cx="1083.1" cy="1102" r="2.3" fill="#2f64a8" />
<circle cx="1085.9" cy="1103.7" r="2.3" fill="#2f64a8" />
<circle cx="1088.8" cy="1106.7" r="2.3" fill="#2f64a8" />
<circle cx="1091.7" cy="1108.1" r="2.3" fill="#2f64a8" />
<circle cx="1094.5" cy="1109.3" r="2.3" fill="#2f64a8" />
<circle cx="1097.4" cy="1112.5" r="2.3" fill="#2f64a8" />
<circle cx="1100.2" cy="1116.2" r="2.3" fill="#2f64a8" />
<circle cx="1103.1" cy="1116.7" r="2.3" fill="#2f64a8" />
<circle cx="1106" cy="1119.2" r="2.3" fill="#2f64a8" />
<circle cx="1108.8" cy="1121.8" r="2.3" fill="#2f64a8" />
<circle cx="1111.7" cy="1123.7" r="2.3" fill="#2f64a8" />
<circle cx="1114.5" cy="1126.6" r="2.3" fill="#2f64a8" />
<circle cx="1117.4" cy="1129.2" r="2.3" fill="#2f64a8" />
<circle cx="1120.3" cy="1133" r="2.3" fill="#2f64a8" />
<circle cx="1123.1" cy="1134.1" r="2.3" fill="#2f64a8" />
<circle cx="1126" cy="1137" r="2.3" fill="#2f64a8" />
<circle cx="1128.9" cy="1141.9" r="2.3" fill="#2f64a8" />
<circle cx="1131.7" cy="1143.2" r="2.3" fill="#2f64a8" />
<circle cx="1134.6" cy="1146.1" r="2.3" fill="#2f64a8" />
<circle cx="1137.4" cy="1149.6" r="2.3" fill="#2f64a8" />
<circle cx="1140.3" cy="1152.2" r="2.3" fill="#2f64a8" />
<circle cx="1143.2" cy="1155" r="2.3" fill="#2f64a8" />
<circle cx="1146" cy="1156.7" r="2.3" fill="#2f64a8" />
<circle cx="1148.9" cy="1160.7" r="2.3" fill="#2f64a8" />
<circle cx="1151.8" cy="1162.8" r="2.3" fill="#2f64a8" />
<circle cx="1154.6" cy="1167.2" r="2.3" fill="#2f64a8" />
<circle cx="1157.5" cy="1169.2" r="2.3" fill="#2f64a8" />
<circle cx="1160.3" cy="1172.6" r="2.3" fill="#2f64a8" />
<circle cx="1163.2" cy="1177.4" r="2.3" fill="#2f64a8" />
<circle cx="1166.1" cy="1180.8" r="2.3" fill="#2f64a8" />
<circle cx="1168.9" cy="1183.6" r="2.3" fill="#2f64a8" />
<circle cx="1171.8" cy="1187.8" r="2.3" fill="#2f64a8" />
<circle cx="1174.7" cy="1192" r="2.3" fill="#2f64a8" />
<rect x="997.2" y="1012.9" width="196.3" height="196.8" fill="none" stroke="#231815" stroke-width="1.4"/>
<line x1="1016.8" y1="1209.7" x2="1016.8" y2="1207.2" stroke="#231815" stroke-width="1.1" />
<line x1="1016.8" y1="1012.9" x2="1016.8" y2="1015.4" stroke="#231815" stroke-width="1.1" />
<line x1="1036.5" y1="1209.7" x2="1036.5" y2="1205.2" stroke="#231815" stroke-width="1.1" />
<line x1="1036.5" y1="1012.9" x2="1036.5" y2="1017.4" stroke="#231815" stroke-width="1.1" />
<line x1="1056.1" y1="1209.7" x2="1056.1" y2="1207.2" stroke="#231815" stroke-width="1.1" />
<line x1="1056.1" y1="1012.9" x2="1056.1" y2="1015.4" stroke="#231815" stroke-width="1.1" />
<line x1="1075.7" y1="1209.7" x2="1075.7" y2="1205.2" stroke="#231815" stroke-width="1.1" />
<line x1="1075.7" y1="1012.9" x2="1075.7" y2="1017.4" stroke="#231815" stroke-width="1.1" />
<line x1="1095.4" y1="1209.7" x2="1095.4" y2="1207.2" stroke="#231815" stroke-width="1.1" />
<line x1="1095.4" y1="1012.9" x2="1095.4" y2="1015.4" stroke="#231815" stroke-width="1.1" />
<line x1="1115" y1="1209.7" x2="1115" y2="1205.2" stroke="#231815" stroke-width="1.1" />
<line x1="1115" y1="1012.9" x2="1115" y2="1017.4" stroke="#231815" stroke-width="1.1" />
<line x1="1134.6" y1="1209.7" x2="1134.6" y2="1207.2" stroke="#231815" stroke-width="1.1" />
<line x1="1134.6" y1="1012.9" x2="1134.6" y2="1015.4" stroke="#231815" stroke-width="1.1" />
<line x1="1154.2" y1="1209.7" x2="1154.2" y2="1205.2" stroke="#231815" stroke-width="1.1" />
<line x1="1154.2" y1="1012.9" x2="1154.2" y2="1017.4" stroke="#231815" stroke-width="1.1" />
<line x1="1173.9" y1="1209.7" x2="1173.9" y2="1207.2" stroke="#231815" stroke-width="1.1" />
<line x1="1173.9" y1="1012.9" x2="1173.9" y2="1015.4" stroke="#231815" stroke-width="1.1" />
<line x1="997.2" y1="1045.7" x2="999.7" y2="1045.7" stroke="#231815" stroke-width="1.1" />
<line x1="1193.5" y1="1045.7" x2="1191" y2="1045.7" stroke="#231815" stroke-width="1.1" />
<line x1="997.2" y1="1078.5" x2="1001.7" y2="1078.5" stroke="#231815" stroke-width="1.1" />
<line x1="1193.5" y1="1078.5" x2="1189" y2="1078.5" stroke="#231815" stroke-width="1.1" />
<line x1="997.2" y1="1111.3" x2="999.7" y2="1111.3" stroke="#231815" stroke-width="1.1" />
<line x1="1193.5" y1="1111.3" x2="1191" y2="1111.3" stroke="#231815" stroke-width="1.1" />
<line x1="997.2" y1="1144.1" x2="1001.7" y2="1144.1" stroke="#231815" stroke-width="1.1" />
<line x1="1193.5" y1="1144.1" x2="1189" y2="1144.1" stroke="#231815" stroke-width="1.1" />
<line x1="997.2" y1="1176.9" x2="999.7" y2="1176.9" stroke="#231815" stroke-width="1.1" />
<line x1="1193.5" y1="1176.9" x2="1191" y2="1176.9" stroke="#231815" stroke-width="1.1" />
<text x="997.2" y="1225.7" font-size="14" text-anchor="middle" fill="#231815">0</text>
<text x="1036.5" y="1225.7" font-size="14" text-anchor="middle" fill="#231815">2</text>
<text x="1075.7" y="1225.7" font-size="14" text-anchor="middle" fill="#231815">4</text>
<text x="1115" y="1225.7" font-size="14" text-anchor="middle" fill="#231815">6</text>
<text x="1154.2" y="1225.7" font-size="14" text-anchor="middle" fill="#231815">8</text>
<text x="1193.5" y="1225.7" font-size="14" text-anchor="middle" fill="#231815">10</text>
<text x="993.6" y="1017.9" font-size="14" text-anchor="end" fill="#231815">0.0</text>
<text x="993.6" y="1083.5" font-size="14" text-anchor="end" fill="#231815">-0.1</text>
<text x="993.6" y="1149.1" font-size="14" text-anchor="end" fill="#231815">-0.2</text>
<text x="993.6" y="1214.7" font-size="14" text-anchor="end" fill="#231815">-0.3</text>
<text x="1099.6" y="1249" font-size="24.8" text-anchor="middle" fill="#231815" textLength="48" lengthAdjust="spacingAndGlyphs">B (T)</text>
<text x="954.5" y="1116.5" font-size="22.3" text-anchor="middle" fill="#231815" transform="rotate(-90 954.5 1116.5)" textLength="120" lengthAdjust="spacingAndGlyphs">R<tspan font-size="15" dy="5">xy</tspan><tspan dy="-5"> (10</tspan><tspan font-size="15" dy="-9">-4</tspan><tspan dy="9"> </tspan><tspan font-family="'Liberation Serif', serif" font-size="23">Ω</tspan>)</text>
<line x1="1009.4" y1="1113.9" x2="1047.4" y2="1113.9" stroke="#e8303a" stroke-width="0.9" />
<text x="1053" y="1119.7" font-size="16" fill="#231815" textLength="27.5" lengthAdjust="spacingAndGlyphs">10K</text>
<line x1="1009.4" y1="1135.7" x2="1047.4" y2="1135.7" stroke="#2f64a8" stroke-width="0.9" />
<text x="1053" y="1141.5" font-size="16" fill="#231815" textLength="27.5" lengthAdjust="spacingAndGlyphs">20K</text>
<line x1="1009.4" y1="1156.3" x2="1047.4" y2="1156.3" stroke="#f3b21c" stroke-width="0.9" />
<text x="1053" y="1162.1" font-size="16" fill="#231815" textLength="27.5" lengthAdjust="spacingAndGlyphs">50K</text>
<line x1="1009.4" y1="1177.9" x2="1047.4" y2="1177.9" stroke="#3cb371" stroke-width="0.9" />
<text x="1053" y="1183.7" font-size="16" fill="#231815" textLength="35.5" lengthAdjust="spacingAndGlyphs">100K</text>
<rect x="1026.9" y="1112.3" width="3.2" height="3.2" fill="#e8303a" />
<circle cx="1028.5" cy="1135.7" r="1.9" fill="#2f64a8" />
<polygon points="1026.2,1157.9 1030.8,1157.9 1028.5,1153.8" fill="#f3b21c" />
<polygon points="1026.2,1176.3 1030.8,1176.3 1028.5,1180.4" fill="#3cb371" />
<line x1="979.1" y1="990.9" x2="979.1" y2="1018.9" stroke="#1f4fa3" stroke-width="2.6" />
<line x1="973.7" y1="990.9" x2="984.4" y2="990.9" stroke="#1f4fa3" stroke-width="2.6" />
<line x1="973.7" y1="1018.9" x2="984.4" y2="1018.9" stroke="#1f4fa3" stroke-width="2.6" />
<rect x="977.5" y="1003.5" width="3.2" height="2.8" fill="#fff" stroke="#1f4fa3" stroke-width="0.6"/>
<text x="7.8" y="1325.5" font-size="38.5" fill="#231815" textLength="38.6" lengthAdjust="spacingAndGlyphs">(f)</text>
<rect x="127.4" y="1350.8" width="453.8" height="422.4" fill="none" stroke="#231815" stroke-width="2"/>
<polyline points="310.4,1772.2 317.2,1770.9 322,1769.6 325.2,1768.4 327.2,1767.1 328.4,1765.8 329.5,1764.5 330.4,1763.2 331.3,1761.9 332,1760.7 332.7,1759.4 333.4,1758.1 334,1756.8 334.7,1755.5 335.4,1754.2 336,1753 336.6,1751.7 337.2,1750.4 337.7,1749.1 338.3,1747.8 338.8,1746.5 339.3,1745.3 339.8,1744 340.3,1742.7 340.7,1741.4 341.2,1740.1 341.6,1738.8 342.1,1737.6 342.5,1736.3 342.9,1735 343.3,1733.7 343.7,1732.4 344,1731.1 344.4,1729.9 344.7,1728.6 344.9,1727.3 345.2,1726 345.4,1724.7 345.6,1723.4 345.8,1722.2 345.9,1720.9 346.1,1719.6 346.2,1718.3 346.4,1717 346.5,1715.8 346.6,1714.5 346.7,1713.2 346.8,1711.9 346.9,1710.6 347,1709.3 347,1708.1 347.1,1706.8 347.2,1705.5 347.3,1704.2 347.3,1702.9 347.4,1701.6 347.5,1700.4 347.6,1699.1 347.7,1697.8 347.8,1696.5 347.9,1695.2 348,1693.9 348,1692.7 348.1,1691.4 348.2,1690.1 348.3,1688.8 348.4,1687.5 348.4,1686.2 348.5,1685 348.6,1683.7 348.7,1682.4 348.8,1681.1 348.8,1679.8 348.9,1678.5 349,1677.3 349.1,1676 349.1,1674.7 349.2,1673.4 349.3,1672.1 349.4,1670.8 349.5,1669.6 349.6,1668.3 349.7,1667 349.8,1665.7 349.9,1664.4 350,1663.1 350.1,1661.9 350.2,1660.6 350.4,1659.3 350.5,1658 350.6,1656.7 350.7,1655.4 350.8,1654.2 351,1652.9 351.1,1651.6 351.2,1650.3 351.3,1649 351.4,1647.7 351.6,1646.5 351.7,1645.2 351.8,1643.9 351.9,1642.6 352,1641.3 352.1,1640 352.2,1638.8 352.3,1637.5 352.4,1636.2 352.5,1634.9 352.6,1633.6 352.7,1632.3 352.8,1631.1 352.8,1629.8 352.9,1628.5 353,1627.2 353.1,1625.9 353.2,1624.7 353.3,1623.4 353.4,1622.1 353.5,1620.8 353.6,1619.5 353.7,1618.2 353.7,1617 353.8,1615.7 353.9,1614.4 354,1613.1 354.1,1611.8 354.2,1610.5 354.3,1609.3 354.4,1608 354.4,1606.7 354.5,1605.4 354.6,1604.1 354.7,1602.8 354.8,1601.6 354.9,1600.3 355,1599 355.1,1597.7 355.2,1596.4 355.3,1595.1 355.3,1593.9 355.4,1592.6 355.5,1591.3 355.6,1590 355.7,1588.7 355.8,1587.4 355.9,1586.2 356,1584.9 356.1,1583.6 356.2,1582.3 356.3,1581 356.4,1579.7 356.5,1578.5 356.6,1577.2 356.7,1575.9 356.8,1574.6 356.9,1573.3 357,1572 357.1,1570.8 357.2,1569.5 357.3,1568.2 357.4,1566.9 357.5,1565.6 357.6,1564.3 357.7,1563.1 357.8,1561.8 357.9,1560.5 358,1559.2 358.1,1557.9 358.2,1556.6 358.4,1555.4 358.5,1554.1 358.6,1552.8 358.7,1551.5 358.8,1550.2 358.9,1548.9 359,1547.7 359.1,1546.4 359.2,1545.1 359.3,1543.8 359.4,1542.5 359.6,1541.3 359.7,1540 359.8,1538.7 359.9,1537.4 360,1536.1 360.1,1534.8 360.2,1533.6 360.3,1532.3 360.5,1531 360.6,1529.7 360.7,1528.4 360.8,1527.1 360.9,1525.9 361,1524.6 361.2,1523.3 361.3,1522 361.4,1520.7 361.5,1519.4 361.7,1518.2 361.8,1516.9 361.9,1515.6 362,1514.3 362.2,1513 362.3,1511.7 362.4,1510.5 362.6,1509.2 362.7,1507.9 362.8,1506.6 363,1505.3 363.1,1504 363.2,1502.8 363.4,1501.5 363.5,1500.2 363.7,1498.9 363.8,1497.6 363.9,1496.3 364.1,1495.1 364.2,1493.8 364.4,1492.5 364.6,1491.2 364.7,1489.9 364.9,1488.6 365,1487.4 365.2,1486.1 365.4,1484.8 365.6,1483.5 365.7,1482.2 365.9,1480.9 366.1,1479.7 366.2,1478.4 366.4,1477.1 366.6,1475.8 366.8,1474.5 366.9,1473.2 367.1,1472 367.3,1470.7 367.5,1469.4 367.6,1468.1 367.8,1466.8 368,1465.5 368.1,1464.3 368.3,1463 368.5,1461.7 368.6,1460.4 368.8,1459.1 368.9,1457.8 369,1456.6 369.2,1455.3 369.3,1454 369.4,1452.7 369.5,1451.4 369.7,1450.2 369.8,1448.9 369.9,1447.6 370.1,1446.3 370.2,1445 370.4,1443.7 370.5,1442.5 370.7,1441.2 370.9,1439.9 371.1,1438.6 371.3,1437.3 371.5,1436 371.7,1434.8 372,1433.5 372.2,1432.2 372.5,1430.9 372.8,1429.6 373,1428.3 373.3,1427.1 373.6,1425.8 373.9,1424.5 374.2,1423.2 374.6,1421.9 374.9,1420.6 375.3,1419.4 375.7,1418.1 376.1,1416.8 376.5,1415.5 376.9,1414.2 377.4,1412.9 377.9,1411.7 378.4,1410.4 379,1409.1 379.6,1407.8 380.3,1406.5 381.1,1405.2 382,1404 383,1402.7 384.1,1401.4 385.3,1400.1 386.6,1398.8 388.4,1397.5 391,1396.3 394.2,1395 397.9,1393.7 402.7,1392.4 409.5,1391.1 417.9,1389.8 433.6,1388.6 467.7,1387.3 537.3,1386.8" fill="none" stroke="#231815" stroke-width="0.9" />
<g fill="#231815">
<circle cx="310.4" cy="1772.2" r="4.1"/>
<circle cx="312.6" cy="1771.8" r="4.1"/>
<circle cx="314.9" cy="1771.4" r="4.1"/>
<circle cx="317.2" cy="1770.9" r="4.1"/>
<circle cx="319.5" cy="1770.4" r="4.1"/>
<circle cx="321.7" cy="1769.7" r="4.1"/>
<circle cx="324" cy="1768.9" r="4.1"/>
<circle cx="326.3" cy="1767.8" r="4.1"/>
<circle cx="328.5" cy="1765.7" r="4.1"/>
<circle cx="330.8" cy="1762.7" r="4.1"/>
<circle cx="333.1" cy="1758.7" r="4.1"/>
<circle cx="337.2" cy="1750.3" r="4.1"/>
<circle cx="342.9" cy="1735" r="4.1"/>
<circle cx="347.1" cy="1707.6" r="4.1"/>
<circle cx="351.2" cy="1650.2" r="4.1"/>
<circle cx="356.9" cy="1573.4" r="4.1"/>
<circle cx="362.6" cy="1509" r="4.1"/>
<circle cx="364.5" cy="1492" r="4.1"/>
<circle cx="366.4" cy="1477.6" r="4.1"/>
<circle cx="372" cy="1433.3" r="4.1"/>
<circle cx="376.2" cy="1416.4" r="4.1"/>
<circle cx="381.9" cy="1404.1" r="4.1"/>
<circle cx="383.8" cy="1401.7" r="4.1"/>
<circle cx="384.7" cy="1400.7" r="4.1"/>
<circle cx="388.8" cy="1397.3" r="4.1"/>
<circle cx="391.8" cy="1395.9" r="4.1"/>
<circle cx="393.7" cy="1395.1" r="4.1"/>
<circle cx="394.6" cy="1394.8" r="4.1"/>
<circle cx="400.3" cy="1393" r="4.1"/>
<circle cx="401.2" cy="1392.8" r="4.1"/>
<circle cx="406.9" cy="1391.6" r="4.1"/>
<circle cx="411.1" cy="1390.9" r="4.1"/>
<circle cx="415.2" cy="1390.2" r="4.1"/>
<circle cx="420.9" cy="1389.5" r="4.1"/>
<circle cx="422.8" cy="1389.4" r="4.1"/>
<circle cx="428.5" cy="1388.9" r="4.1"/>
<circle cx="429.4" cy="1388.8" r="4.1"/>
<circle cx="435" cy="1388.5" r="4.1"/>
<circle cx="436" cy="1388.4" r="4.1"/>
<circle cx="436.9" cy="1388.4" r="4.1"/>
<circle cx="437.8" cy="1388.4" r="4.1"/>
<circle cx="439.7" cy="1388.3" r="4.1"/>
<circle cx="441.6" cy="1388.2" r="4.1"/>
<circle cx="447.2" cy="1388" r="4.1"/>
<circle cx="448.1" cy="1388" r="4.1"/>
<circle cx="452.3" cy="1387.8" r="4.1"/>
<circle cx="455.3" cy="1387.7" r="4.1"/>
<circle cx="459.5" cy="1387.6" r="4.1"/>
<circle cx="465.2" cy="1387.4" r="4.1"/>
<circle cx="467" cy="1387.3" r="4.1"/>
<circle cx="472.7" cy="1387.2" r="4.1"/>
<circle cx="474.6" cy="1387.2" r="4.1"/>
<circle cx="477.6" cy="1387.1" r="4.1"/>
<circle cx="481.8" cy="1387" r="4.1"/>
<circle cx="482.7" cy="1387" r="4.1"/>
<circle cx="483.6" cy="1387" r="4.1"/>
<circle cx="487.8" cy="1387" r="4.1"/>
<circle cx="490.4" cy="1386.8" r="4.1"/>
<circle cx="493.1" cy="1386.8" r="4.1"/>
<circle cx="495.7" cy="1386.8" r="4.1"/>
<circle cx="498.4" cy="1386.8" r="4.1"/>
<circle cx="501" cy="1386.8" r="4.1"/>
<circle cx="503.7" cy="1386.8" r="4.1"/>
<circle cx="506.3" cy="1386.8" r="4.1"/>
<circle cx="509" cy="1386.8" r="4.1"/>
<circle cx="511.6" cy="1386.8" r="4.1"/>
<circle cx="514.2" cy="1386.8" r="4.1"/>
<circle cx="516.9" cy="1386.8" r="4.1"/>
<circle cx="519.5" cy="1386.8" r="4.1"/>
<circle cx="535.8" cy="1386.8" r="4.1"/>
</g>
<polyline points="273.7,1772.2 282.2,1770.9 287.8,1769.6 291.5,1768.4 294,1767.1 295.5,1765.8 296.8,1764.5 297.9,1763.2 298.9,1761.9 299.8,1760.7 300.7,1759.4 301.5,1758.1 302.2,1756.8 303,1755.5 303.7,1754.2 304.4,1753 305.1,1751.7 305.7,1750.4 306.3,1749.1 306.9,1747.8 307.5,1746.5 308,1745.3 308.5,1744 309,1742.7 309.4,1741.4 309.9,1740.1 310.3,1738.8 310.7,1737.6 311.2,1736.3 311.6,1735 312,1733.7 312.4,1732.4 312.7,1731.1 313.1,1729.9 313.5,1728.6 313.8,1727.3 314.1,1726 314.4,1724.7 314.6,1723.4 314.9,1722.2 315.1,1720.9 315.4,1719.6 315.6,1718.3 315.8,1717 316,1715.8 316.2,1714.5 316.4,1713.2 316.6,1711.9 316.8,1710.6 317,1709.3 317.1,1708.1 317.3,1706.8 317.5,1705.5 317.7,1704.2 317.8,1702.9 318,1701.6 318.2,1700.4 318.3,1699.1 318.5,1697.8 318.6,1696.5 318.8,1695.2 319,1693.9 319.1,1692.7 319.3,1691.4 319.4,1690.1 319.5,1688.8 319.7,1687.5 319.8,1686.2 320,1685 320.1,1683.7 320.3,1682.4 320.4,1681.1 320.5,1679.8 320.7,1678.5 320.8,1677.3 321,1676 321.1,1674.7 321.3,1673.4 321.4,1672.1 321.6,1670.8 321.7,1669.6 321.9,1668.3 322.1,1667 322.2,1665.7 322.4,1664.4 322.6,1663.1 322.7,1661.9 322.9,1660.6 323.1,1659.3 323.2,1658 323.4,1656.7 323.6,1655.4 323.8,1654.2 324,1652.9 324.1,1651.6 324.3,1650.3 324.5,1649 324.6,1647.7 324.8,1646.5 325,1645.2 325.1,1643.9 325.3,1642.6 325.4,1641.3 325.6,1640 325.7,1638.8 325.9,1637.5 326,1636.2 326.1,1634.9 326.3,1633.6 326.4,1632.3 326.6,1631.1 326.7,1629.8 326.8,1628.5 326.9,1627.2 327.1,1625.9 327.2,1624.7 327.3,1623.4 327.5,1622.1 327.6,1620.8 327.7,1619.5 327.8,1618.2 327.9,1617 328.1,1615.7 328.2,1614.4 328.3,1613.1 328.4,1611.8 328.6,1610.5 328.7,1609.3 328.8,1608 328.9,1606.7 329.1,1605.4 329.2,1604.1 329.3,1602.8 329.4,1601.6 329.6,1600.3 329.7,1599 329.8,1597.7 330,1596.4 330.1,1595.1 330.2,1593.9 330.4,1592.6 330.5,1591.3 330.7,1590 330.8,1588.7 331,1587.4 331.2,1586.2 331.3,1584.9 331.6,1583.6 331.8,1582.3 332,1581 332.2,1579.7 332.4,1578.5 332.6,1577.2 332.8,1575.9 333,1574.6 333.2,1573.3 333.3,1572 333.5,1570.8 333.6,1569.5 333.8,1568.2 333.9,1566.9 334.1,1565.6 334.2,1564.3 334.3,1563.1 334.5,1561.8 334.6,1560.5 334.8,1559.2 334.9,1557.9 335,1556.6 335.2,1555.4 335.3,1554.1 335.4,1552.8 335.6,1551.5 335.7,1550.2 335.9,1548.9 336,1547.7 336.1,1546.4 336.3,1545.1 336.4,1543.8 336.6,1542.5 336.7,1541.3 336.9,1540 337,1538.7 337.2,1537.4 337.3,1536.1 337.5,1534.8 337.6,1533.6 337.8,1532.3 337.9,1531 338.1,1529.7 338.3,1528.4 338.5,1527.1 338.6,1525.9 338.8,1524.6 339,1523.3 339.2,1522 339.4,1520.7 339.5,1519.4 339.7,1518.2 339.9,1516.9 340.1,1515.6 340.3,1514.3 340.5,1513 340.7,1511.7 340.9,1510.5 341.1,1509.2 341.3,1507.9 341.5,1506.6 341.7,1505.3 341.9,1504 342.1,1502.8 342.3,1501.5 342.6,1500.2 342.8,1498.9 343,1497.6 343.2,1496.3 343.4,1495.1 343.6,1493.8 343.9,1492.5 344.1,1491.2 344.3,1489.9 344.5,1488.6 344.8,1487.4 345,1486.1 345.2,1484.8 345.5,1483.5 345.7,1482.2 346,1480.9 346.2,1479.7 346.5,1478.4 346.7,1477.1 347,1475.8 347.2,1474.5 347.5,1473.2 347.7,1472 348,1470.7 348.2,1469.4 348.5,1468.1 348.7,1466.8 349,1465.5 349.2,1464.3 349.5,1463 349.7,1461.7 349.9,1460.4 350.2,1459.1 350.4,1457.8 350.6,1456.6 350.8,1455.3 351,1454 351.3,1452.7 351.5,1451.4 351.7,1450.2 351.9,1448.9 352.1,1447.6 352.3,1446.3 352.5,1445 352.8,1443.7 353,1442.5 353.2,1441.2 353.5,1439.9 353.7,1438.6 354,1437.3 354.2,1436 354.5,1434.8 354.8,1433.5 355.1,1432.2 355.4,1430.9 355.7,1429.6 356.1,1428.3 356.4,1427.1 356.7,1425.8 357.1,1424.5 357.5,1423.2 357.9,1421.9 358.3,1420.6 358.7,1419.4 359.2,1418.1 359.6,1416.8 360.1,1415.5 360.7,1414.2 361.2,1412.9 361.8,1411.7 362.4,1410.4 363,1409.1 363.8,1407.8 364.5,1406.5 365.4,1405.2 366.3,1404 367.3,1402.7 368.5,1401.4 369.7,1400.1 371.1,1398.8 373,1397.5 375.4,1396.3 378.5,1395 382.1,1393.7 386.5,1392.4 392.7,1391.1 401,1389.8 416.5,1388.6 454.7,1387.3 520.7,1386.8" fill="none" stroke="#ef7d78" stroke-width="0.9" />
<g fill="#e71f19">
<circle cx="273.7" cy="1772.2" r="4.1"/>
<circle cx="276" cy="1771.9" r="4.1"/>
<circle cx="278.3" cy="1771.6" r="4.1"/>
<circle cx="280.5" cy="1771.2" r="4.1"/>
<circle cx="282.8" cy="1770.8" r="4.1"/>
<circle cx="285.1" cy="1770.3" r="4.1"/>
<circle cx="287.3" cy="1769.8" r="4.1"/>
<circle cx="289.6" cy="1769.1" r="4.1"/>
<circle cx="291.9" cy="1768.2" r="4.1"/>
<circle cx="294.1" cy="1766.9" r="4.1"/>
<circle cx="296.4" cy="1764.9" r="4.1"/>
<circle cx="298.7" cy="1762.2" r="4.1"/>
<circle cx="300.9" cy="1758.9" r="4.1"/>
<circle cx="305.1" cy="1751.7" r="4.1"/>
<circle cx="310.8" cy="1737.5" r="4.1"/>
<circle cx="311.7" cy="1734.7" r="4.1"/>
<circle cx="314.7" cy="1723" r="4.1"/>
<circle cx="317.7" cy="1703.5" r="4.1"/>
<circle cx="319.6" cy="1688" r="4.1"/>
<circle cx="325.3" cy="1642.4" r="4.1"/>
<circle cx="328.3" cy="1612.9" r="4.1"/>
<circle cx="329.2" cy="1603.6" r="4.1"/>
<circle cx="330.1" cy="1594.7" r="4.1"/>
<circle cx="335.8" cy="1549.3" r="4.1"/>
<circle cx="336.7" cy="1541" r="4.1"/>
<circle cx="340.9" cy="1510.5" r="4.1"/>
<circle cx="341.8" cy="1504.8" r="4.1"/>
<circle cx="344.8" cy="1487" r="4.1"/>
<circle cx="349" cy="1465.4" r="4.1"/>
<circle cx="349.9" cy="1460.6" r="4.1"/>
<circle cx="350.8" cy="1455.4" r="4.1"/>
<circle cx="351.7" cy="1450" r="4.1"/>
<circle cx="353.6" cy="1439.2" r="4.1"/>
<circle cx="355.5" cy="1430.6" r="4.1"/>
<circle cx="356.4" cy="1427" r="4.1"/>
<circle cx="360.6" cy="1414.5" r="4.1"/>
<circle cx="364.7" cy="1406.2" r="4.1"/>
<circle cx="368.9" cy="1401" r="4.1"/>
<circle cx="373" cy="1397.5" r="4.1"/>
<circle cx="373.9" cy="1397" r="4.1"/>
<circle cx="379.6" cy="1394.6" r="4.1"/>
<circle cx="381.5" cy="1393.9" r="4.1"/>
<circle cx="384.5" cy="1392.9" r="4.1"/>
<circle cx="387.6" cy="1392.2" r="4.1"/>
<circle cx="388.5" cy="1392" r="4.1"/>
<circle cx="391.5" cy="1391.4" r="4.1"/>
<circle cx="394.5" cy="1390.8" r="4.1"/>
<circle cx="395.4" cy="1390.6" r="4.1"/>
<circle cx="399.6" cy="1390" r="4.1"/>
<circle cx="400.5" cy="1389.9" r="4.1"/>
<circle cx="402.4" cy="1389.7" r="4.1"/>
<circle cx="404.3" cy="1389.5" r="4.1"/>
<circle cx="405.2" cy="1389.4" r="4.1"/>
<circle cx="406.1" cy="1389.3" r="4.1"/>
<circle cx="407" cy="1389.2" r="4.1"/>
<circle cx="411.2" cy="1388.9" r="4.1"/>
<circle cx="415.3" cy="1388.6" r="4.1"/>
<circle cx="417.2" cy="1388.5" r="4.1"/>
<circle cx="422.9" cy="1388.3" r="4.1"/>
<circle cx="424.8" cy="1388.2" r="4.1"/>
<circle cx="428.9" cy="1388.1" r="4.1"/>
<circle cx="434.6" cy="1387.9" r="4.1"/>
<circle cx="436.5" cy="1387.8" r="4.1"/>
<circle cx="438.4" cy="1387.8" r="4.1"/>
<circle cx="442.6" cy="1387.6" r="4.1"/>
<circle cx="446.7" cy="1387.5" r="4.1"/>
<circle cx="447.6" cy="1387.5" r="4.1"/>
<circle cx="451.8" cy="1387.4" r="4.1"/>
<circle cx="456" cy="1387.3" r="4.1"/>
<circle cx="457.8" cy="1387.2" r="4.1"/>
<circle cx="458.8" cy="1387.2" r="4.1"/>
<circle cx="461.8" cy="1387.2" r="4.1"/>
<circle cx="467.5" cy="1387.1" r="4.1"/>
<circle cx="470.5" cy="1387" r="4.1"/>
<circle cx="471.4" cy="1387" r="4.1"/>
<circle cx="473.3" cy="1387" r="4.1"/>
<circle cx="475.2" cy="1386.9" r="4.1"/>
<circle cx="477.4" cy="1386.8" r="4.1"/>
<circle cx="480" cy="1386.8" r="4.1"/>
<circle cx="482.7" cy="1386.8" r="4.1"/>
<circle cx="485.3" cy="1386.8" r="4.1"/>
<circle cx="488" cy="1386.8" r="4.1"/>
<circle cx="490.6" cy="1386.8" r="4.1"/>
<circle cx="493.3" cy="1386.8" r="4.1"/>
<circle cx="495.9" cy="1386.8" r="4.1"/>
<circle cx="498.6" cy="1386.8" r="4.1"/>
<circle cx="501.2" cy="1386.8" r="4.1"/>
<circle cx="503.9" cy="1386.8" r="4.1"/>
<circle cx="506.5" cy="1386.8" r="4.1"/>
<circle cx="509.2" cy="1386.8" r="4.1"/>
<circle cx="511.8" cy="1386.8" r="4.1"/>
<circle cx="514.5" cy="1386.8" r="4.1"/>
<circle cx="517.1" cy="1386.8" r="4.1"/>
<circle cx="519.8" cy="1386.8" r="4.1"/>
</g>
<polyline points="248.5,1772.2 258.1,1770.9 264.3,1769.6 268.3,1768.4 271.1,1767.1 272.9,1765.8 274.2,1764.5 275.5,1763.2 276.7,1761.9 277.7,1760.7 278.7,1759.4 279.6,1758.1 280.4,1756.8 281.2,1755.5 282,1754.2 282.8,1753 283.5,1751.7 284.1,1750.4 284.8,1749.1 285.4,1747.8 285.9,1746.5 286.4,1745.3 287,1744 287.4,1742.7 287.9,1741.4 288.4,1740.1 288.8,1738.8 289.2,1737.6 289.7,1736.3 290.1,1735 290.5,1733.7 290.9,1732.4 291.3,1731.1 291.6,1729.9 292,1728.6 292.4,1727.3 292.7,1726 293,1724.7 293.4,1723.4 293.7,1722.2 294,1720.9 294.3,1719.6 294.5,1718.3 294.8,1717 295.1,1715.8 295.4,1714.5 295.6,1713.2 295.9,1711.9 296.1,1710.6 296.4,1709.3 296.6,1708.1 296.8,1706.8 297.1,1705.5 297.3,1704.2 297.5,1702.9 297.8,1701.6 298,1700.4 298.2,1699.1 298.4,1697.8 298.6,1696.5 298.8,1695.2 299,1693.9 299.2,1692.7 299.4,1691.4 299.6,1690.1 299.8,1688.8 300,1687.5 300.2,1686.2 300.4,1685 300.5,1683.7 300.7,1682.4 300.9,1681.1 301.1,1679.8 301.3,1678.5 301.5,1677.3 301.7,1676 301.9,1674.7 302.1,1673.4 302.3,1672.1 302.5,1670.8 302.7,1669.6 302.9,1668.3 303.1,1667 303.3,1665.7 303.5,1664.4 303.7,1663.1 303.9,1661.9 304.1,1660.6 304.3,1659.3 304.5,1658 304.8,1656.7 305,1655.4 305.2,1654.2 305.4,1652.9 305.6,1651.6 305.8,1650.3 306,1649 306.2,1647.7 306.4,1646.5 306.6,1645.2 306.8,1643.9 307,1642.6 307.2,1641.3 307.4,1640 307.5,1638.8 307.7,1637.5 307.9,1636.2 308.1,1634.9 308.2,1633.6 308.4,1632.3 308.6,1631.1 308.7,1629.8 308.9,1628.5 309,1627.2 309.2,1625.9 309.3,1624.7 309.5,1623.4 309.6,1622.1 309.8,1620.8 309.9,1619.5 310.1,1618.2 310.2,1617 310.4,1615.7 310.5,1614.4 310.7,1613.1 310.8,1611.8 311,1610.5 311.1,1609.3 311.3,1608 311.4,1606.7 311.6,1605.4 311.7,1604.1 311.9,1602.8 312,1601.6 312.2,1600.3 312.3,1599 312.5,1597.7 312.7,1596.4 312.8,1595.1 313,1593.9 313.2,1592.6 313.3,1591.3 313.5,1590 313.7,1588.7 313.9,1587.4 314.1,1586.2 314.4,1584.9 314.7,1583.6 315,1582.3 315.3,1581 315.6,1579.7 315.9,1578.5 316.1,1577.2 316.4,1575.9 316.6,1574.6 316.9,1573.3 317,1572 317.2,1570.8 317.4,1569.5 317.6,1568.2 317.8,1566.9 317.9,1565.6 318.1,1564.3 318.3,1563.1 318.4,1561.8 318.6,1560.5 318.8,1559.2 318.9,1557.9 319.1,1556.6 319.2,1555.4 319.4,1554.1 319.6,1552.8 319.7,1551.5 319.9,1550.2 320,1548.9 320.2,1547.7 320.3,1546.4 320.5,1545.1 320.7,1543.8 320.8,1542.5 321,1541.3 321.2,1540 321.3,1538.7 321.5,1537.4 321.7,1536.1 321.9,1534.8 322.1,1533.6 322.3,1532.3 322.5,1531 322.7,1529.7 322.9,1528.4 323.1,1527.1 323.3,1525.9 323.5,1524.6 323.8,1523.3 324,1522 324.2,1520.7 324.4,1519.4 324.7,1518.2 324.9,1516.9 325.1,1515.6 325.4,1514.3 325.6,1513 325.9,1511.7 326.1,1510.5 326.4,1509.2 326.6,1507.9 326.9,1506.6 327.1,1505.3 327.4,1504 327.6,1502.8 327.9,1501.5 328.2,1500.2 328.4,1498.9 328.7,1497.6 328.9,1496.3 329.2,1495.1 329.5,1493.8 329.7,1492.5 330,1491.2 330.3,1489.9 330.5,1488.6 330.8,1487.4 331.1,1486.1 331.4,1484.8 331.7,1483.5 332,1482.2 332.3,1480.9 332.6,1479.7 332.9,1478.4 333.2,1477.1 333.5,1475.8 333.8,1474.5 334.1,1473.2 334.4,1472 334.7,1470.7 335,1469.4 335.3,1468.1 335.6,1466.8 335.9,1465.5 336.2,1464.3 336.5,1463 336.8,1461.7 337.1,1460.4 337.4,1459.1 337.7,1457.8 337.9,1456.6 338.2,1455.3 338.5,1454 338.8,1452.7 339.1,1451.4 339.3,1450.2 339.6,1448.9 339.9,1447.6 340.1,1446.3 340.4,1445 340.7,1443.7 341,1442.5 341.2,1441.2 341.5,1439.9 341.8,1438.6 342.1,1437.3 342.4,1436 342.7,1434.8 343,1433.5 343.4,1432.2 343.7,1430.9 344,1429.6 344.4,1428.3 344.8,1427.1 345.1,1425.8 345.5,1424.5 346,1423.2 346.4,1421.9 346.9,1420.6 347.3,1419.4 347.8,1418.1 348.4,1416.8 348.9,1415.5 349.5,1414.2 350.1,1412.9 350.7,1411.7 351.4,1410.4 352.1,1409.1 352.8,1407.8 353.7,1406.5 354.6,1405.2 355.5,1404 356.6,1402.7 357.8,1401.4 359.1,1400.1 360.5,1398.8 362.3,1397.5 364.8,1396.3 367.8,1395 371.2,1393.7 375.5,1392.4 381.2,1391.1 389.3,1389.8 404.7,1388.6 445.7,1387.3 513.1,1386.8" fill="none" stroke="#a9d585" stroke-width="1.5" />
<g fill="#6fba2c">
<circle cx="248.5" cy="1772.2" r="4.1"/>
<circle cx="250.8" cy="1771.9" r="4.1"/>
<circle cx="253.1" cy="1771.6" r="4.1"/>
<circle cx="255.3" cy="1771.3" r="4.1"/>
<circle cx="257.6" cy="1771" r="4.1"/>
<circle cx="259.9" cy="1770.6" r="4.1"/>
<circle cx="262.1" cy="1770.2" r="4.1"/>
<circle cx="264.4" cy="1769.6" r="4.1"/>
<circle cx="266.7" cy="1769" r="4.1"/>
<circle cx="269" cy="1768.1" r="4.1"/>
<circle cx="271.2" cy="1767" r="4.1"/>
<circle cx="273.5" cy="1765.2" r="4.1"/>
<circle cx="275.8" cy="1763" r="4.1"/>
<circle cx="278" cy="1760.2" r="4.1"/>
<circle cx="283.7" cy="1751.2" r="4.1"/>
<circle cx="289.4" cy="1737.1" r="4.1"/>
<circle cx="290.3" cy="1734.3" r="4.1"/>
<circle cx="291.2" cy="1731.4" r="4.1"/>
<circle cx="293.1" cy="1724.6" r="4.1"/>
<circle cx="295" cy="1716.3" r="4.1"/>
<circle cx="299.1" cy="1693.3" r="4.1"/>
<circle cx="302.2" cy="1672.8" r="4.1"/>
<circle cx="303.1" cy="1667" r="4.1"/>
<circle cx="308.7" cy="1629.6" r="4.1"/>
<circle cx="311.8" cy="1603.6" r="4.1"/>
<circle cx="314.8" cy="1583.1" r="4.1"/>
<circle cx="319" cy="1557.7" r="4.1"/>
<circle cx="319.9" cy="1550.3" r="4.1"/>
<circle cx="320.8" cy="1543" r="4.1"/>
<circle cx="321.7" cy="1536.3" r="4.1"/>
<circle cx="323.6" cy="1524.3" r="4.1"/>
<circle cx="329.2" cy="1494.9" r="4.1"/>
<circle cx="331.1" cy="1486" r="4.1"/>
<circle cx="332" cy="1482" r="4.1"/>
<circle cx="337.7" cy="1457.6" r="4.1"/>
<circle cx="340.7" cy="1443.5" r="4.1"/>
<circle cx="343.8" cy="1430.6" r="4.1"/>
<circle cx="349.4" cy="1414.3" r="4.1"/>
<circle cx="353.6" cy="1406.6" r="4.1"/>
<circle cx="355.5" cy="1404" r="4.1"/>
<circle cx="361.2" cy="1398.3" r="4.1"/>
<circle cx="365.3" cy="1396" r="4.1"/>
<circle cx="371" cy="1393.8" r="4.1"/>
<circle cx="372.9" cy="1393.2" r="4.1"/>
<circle cx="377.1" cy="1392" r="4.1"/>
<circle cx="378.9" cy="1391.6" r="4.1"/>
<circle cx="380.8" cy="1391.2" r="4.1"/>
<circle cx="383.9" cy="1390.6" r="4.1"/>
<circle cx="385.8" cy="1390.3" r="4.1"/>
<circle cx="391.4" cy="1389.6" r="4.1"/>
<circle cx="393.3" cy="1389.4" r="4.1"/>
<circle cx="395.2" cy="1389.2" r="4.1"/>
<circle cx="397.1" cy="1389.1" r="4.1"/>
<circle cx="402.8" cy="1388.7" r="4.1"/>
<circle cx="404.7" cy="1388.6" r="4.1"/>
<circle cx="408.8" cy="1388.4" r="4.1"/>
<circle cx="413" cy="1388.2" r="4.1"/>
<circle cx="418.7" cy="1388" r="4.1"/>
<circle cx="419.6" cy="1388" r="4.1"/>
<circle cx="423.7" cy="1387.9" r="4.1"/>
<circle cx="424.6" cy="1387.9" r="4.1"/>
<circle cx="425.5" cy="1387.8" r="4.1"/>
<circle cx="426.5" cy="1387.8" r="4.1"/>
<circle cx="427.4" cy="1387.8" r="4.1"/>
<circle cx="433" cy="1387.6" r="4.1"/>
<circle cx="436.1" cy="1387.6" r="4.1"/>
<circle cx="438" cy="1387.5" r="4.1"/>
<circle cx="442.1" cy="1387.4" r="4.1"/>
<circle cx="445.1" cy="1387.3" r="4.1"/>
<circle cx="449.3" cy="1387.2" r="4.1"/>
<circle cx="455" cy="1387.1" r="4.1"/>
<circle cx="459.1" cy="1387.1" r="4.1"/>
<circle cx="462.2" cy="1387" r="4.1"/>
<circle cx="467.8" cy="1386.9" r="4.1"/>
<circle cx="468.4" cy="1386.8" r="4.1"/>
<circle cx="471.1" cy="1386.8" r="4.1"/>
<circle cx="473.7" cy="1386.8" r="4.1"/>
<circle cx="476.4" cy="1386.8" r="4.1"/>
<circle cx="479" cy="1386.8" r="4.1"/>
<circle cx="481.7" cy="1386.8" r="4.1"/>
<circle cx="484.3" cy="1386.8" r="4.1"/>
<circle cx="487" cy="1386.8" r="4.1"/>
<circle cx="489.6" cy="1386.8" r="4.1"/>
<circle cx="492.3" cy="1386.8" r="4.1"/>
<circle cx="494.9" cy="1386.8" r="4.1"/>
<circle cx="497.6" cy="1386.8" r="4.1"/>
<circle cx="500.2" cy="1386.8" r="4.1"/>
<circle cx="502.9" cy="1386.8" r="4.1"/>
<circle cx="505.5" cy="1386.8" r="4.1"/>
<circle cx="508.2" cy="1386.8" r="4.1"/>
<circle cx="510.8" cy="1386.8" r="4.1"/>
</g>
<polyline points="226.9,1772.2 237.5,1770.9 244.2,1769.6 248.5,1768.4 251.5,1767.1 253.4,1765.8 254.9,1764.5 256.3,1763.2 257.6,1761.9 258.7,1760.7 259.8,1759.4 260.8,1758.1 261.7,1756.8 262.6,1755.5 263.4,1754.2 264.2,1753 264.9,1751.7 265.6,1750.4 266.2,1749.1 266.9,1747.8 267.4,1746.5 268,1745.3 268.5,1744 269,1742.7 269.5,1741.4 269.9,1740.1 270.4,1738.8 270.8,1737.6 271.2,1736.3 271.6,1735 272,1733.7 272.4,1732.4 272.8,1731.1 273.2,1729.9 273.6,1728.6 274,1727.3 274.4,1726 274.7,1724.7 275.1,1723.4 275.5,1722.2 275.8,1720.9 276.1,1719.6 276.5,1718.3 276.8,1717 277.1,1715.8 277.5,1714.5 277.8,1713.2 278.1,1711.9 278.4,1710.6 278.7,1709.3 279,1708.1 279.3,1706.8 279.6,1705.5 279.9,1704.2 280.1,1702.9 280.4,1701.6 280.7,1700.4 280.9,1699.1 281.2,1697.8 281.5,1696.5 281.7,1695.2 281.9,1693.9 282.2,1692.7 282.4,1691.4 282.6,1690.1 282.9,1688.8 283.1,1687.5 283.3,1686.2 283.5,1685 283.8,1683.7 284,1682.4 284.2,1681.1 284.4,1679.8 284.7,1678.5 284.9,1677.3 285.1,1676 285.4,1674.7 285.6,1673.4 285.8,1672.1 286.1,1670.8 286.3,1669.6 286.5,1668.3 286.8,1667 287,1665.7 287.3,1664.4 287.5,1663.1 287.8,1661.9 288,1660.6 288.3,1659.3 288.5,1658 288.7,1656.7 289,1655.4 289.2,1654.2 289.5,1652.9 289.7,1651.6 289.9,1650.3 290.2,1649 290.4,1647.7 290.6,1646.5 290.9,1645.2 291.1,1643.9 291.3,1642.6 291.5,1641.3 291.7,1640 291.9,1638.8 292.2,1637.5 292.4,1636.2 292.5,1634.9 292.7,1633.6 292.9,1632.3 293.1,1631.1 293.3,1629.8 293.5,1628.5 293.7,1627.2 293.8,1625.9 294,1624.7 294.2,1623.4 294.3,1622.1 294.5,1620.8 294.7,1619.5 294.9,1618.2 295,1617 295.2,1615.7 295.4,1614.4 295.5,1613.1 295.7,1611.8 295.9,1610.5 296,1609.3 296.2,1608 296.4,1606.7 296.5,1605.4 296.7,1604.1 296.9,1602.8 297.1,1601.6 297.2,1600.3 297.4,1599 297.6,1597.7 297.8,1596.4 298,1595.1 298.2,1593.9 298.4,1592.6 298.6,1591.3 298.8,1590 299,1588.7 299.3,1587.4 299.6,1586.2 299.9,1584.9 300.2,1583.6 300.6,1582.3 300.9,1581 301.3,1579.7 301.7,1578.5 302,1577.2 302.3,1575.9 302.6,1574.6 302.9,1573.3 303.1,1572 303.3,1570.8 303.5,1569.5 303.7,1568.2 303.9,1566.9 304.1,1565.6 304.3,1564.3 304.5,1563.1 304.7,1561.8 304.9,1560.5 305,1559.2 305.2,1557.9 305.4,1556.6 305.6,1555.4 305.7,1554.1 305.9,1552.8 306.1,1551.5 306.3,1550.2 306.4,1548.9 306.6,1547.7 306.8,1546.4 307,1545.1 307.2,1543.8 307.3,1542.5 307.5,1541.3 307.7,1540 307.9,1538.7 308.1,1537.4 308.3,1536.1 308.5,1534.8 308.8,1533.6 309,1532.3 309.2,1531 309.4,1529.7 309.7,1528.4 309.9,1527.1 310.2,1525.9 310.4,1524.6 310.7,1523.3 310.9,1522 311.2,1520.7 311.5,1519.4 311.7,1518.2 312,1516.9 312.3,1515.6 312.6,1514.3 312.9,1513 313.1,1511.7 313.4,1510.5 313.7,1509.2 314,1507.9 314.3,1506.6 314.6,1505.3 314.9,1504 315.2,1502.8 315.5,1501.5 315.8,1500.2 316.1,1498.9 316.4,1497.6 316.7,1496.3 317,1495.1 317.3,1493.8 317.6,1492.5 317.9,1491.2 318.2,1489.9 318.6,1488.6 318.9,1487.4 319.2,1486.1 319.5,1484.8 319.9,1483.5 320.2,1482.2 320.5,1480.9 320.9,1479.7 321.2,1478.4 321.6,1477.1 321.9,1475.8 322.2,1474.5 322.6,1473.2 322.9,1472 323.3,1470.7 323.6,1469.4 324,1468.1 324.3,1466.8 324.7,1465.5 325,1464.3 325.4,1463 325.7,1461.7 326.1,1460.4 326.4,1459.1 326.7,1457.8 327.1,1456.6 327.4,1455.3 327.7,1454 328.1,1452.7 328.4,1451.4 328.7,1450.2 329.1,1448.9 329.4,1447.6 329.7,1446.3 330,1445 330.3,1443.7 330.6,1442.5 330.9,1441.2 331.3,1439.9 331.6,1438.6 331.9,1437.3 332.2,1436 332.6,1434.8 332.9,1433.5 333.3,1432.2 333.6,1430.9 334,1429.6 334.4,1428.3 334.8,1427.1 335.2,1425.8 335.6,1424.5 336.1,1423.2 336.6,1421.9 337.1,1420.6 337.6,1419.4 338.1,1418.1 338.7,1416.8 339.3,1415.5 339.9,1414.2 340.5,1412.9 341.2,1411.7 341.9,1410.4 342.7,1409.1 343.5,1407.8 344.3,1406.5 345.3,1405.2 346.3,1404 347.4,1402.7 348.6,1401.4 349.9,1400.1 351.4,1398.8 353.2,1397.5 355.6,1396.3 358.5,1395 361.9,1393.7 366,1392.4 371.3,1391.1 379.3,1389.8 394.6,1388.6 438.1,1387.3 513.1,1386.8" fill="none" stroke="#6d8cc8" stroke-width="0.9" />
<g fill="#1f4fa3">
<circle cx="226.9" cy="1772.2" r="4.1"/>
<circle cx="229.2" cy="1771.9" r="4.1"/>
<circle cx="231.5" cy="1771.7" r="4.1"/>
<circle cx="233.7" cy="1771.4" r="4.1"/>
<circle cx="236" cy="1771.1" r="4.1"/>
<circle cx="238.3" cy="1770.8" r="4.1"/>
<circle cx="240.5" cy="1770.4" r="4.1"/>
<circle cx="242.8" cy="1770" r="4.1"/>
<circle cx="245.1" cy="1769.4" r="4.1"/>
<circle cx="247.3" cy="1768.7" r="4.1"/>
<circle cx="249.6" cy="1767.9" r="4.1"/>
<circle cx="251.9" cy="1766.8" r="4.1"/>
<circle cx="254.1" cy="1765.2" r="4.1"/>
<circle cx="256.4" cy="1763.1" r="4.1"/>
<circle cx="258.7" cy="1760.7" r="4.1"/>
<circle cx="259.6" cy="1759.6" r="4.1"/>
<circle cx="261.5" cy="1757.1" r="4.1"/>
<circle cx="263.4" cy="1754.2" r="4.1"/>
<circle cx="267.5" cy="1746.3" r="4.1"/>
<circle cx="273.2" cy="1729.8" r="4.1"/>
<circle cx="278.9" cy="1708.5" r="4.1"/>
<circle cx="284.6" cy="1679.1" r="4.1"/>
<circle cx="285.5" cy="1674.1" r="4.1"/>
<circle cx="288.5" cy="1658" r="4.1"/>
<circle cx="290.4" cy="1647.9" r="4.1"/>
<circle cx="292.3" cy="1636.7" r="4.1"/>
<circle cx="293.2" cy="1630.6" r="4.1"/>
<circle cx="294.1" cy="1624" r="4.1"/>
<circle cx="297.1" cy="1601.2" r="4.1"/>
<circle cx="301.3" cy="1579.8" r="4.1"/>
<circle cx="305.4" cy="1556.3" r="4.1"/>
<circle cx="307.3" cy="1542.6" r="4.1"/>
<circle cx="308.2" cy="1536.7" r="4.1"/>
<circle cx="309.1" cy="1531.3" r="4.1"/>
<circle cx="311" cy="1521.5" r="4.1"/>
<circle cx="314.1" cy="1507.7" r="4.1"/>
<circle cx="317.1" cy="1494.8" r="4.1"/>
<circle cx="322.8" cy="1472.6" r="4.1"/>
<circle cx="328.4" cy="1451.3" r="4.1"/>
<circle cx="330.3" cy="1443.7" r="4.1"/>
<circle cx="331.2" cy="1440" r="4.1"/>
<circle cx="334.3" cy="1428.7" r="4.1"/>
<circle cx="336.2" cy="1423" r="4.1"/>
<circle cx="340.3" cy="1413.4" r="4.1"/>
<circle cx="343.3" cy="1408" r="4.1"/>
<circle cx="349" cy="1401" r="4.1"/>
<circle cx="354.7" cy="1396.7" r="4.1"/>
<circle cx="356.6" cy="1395.8" r="4.1"/>
<circle cx="362.3" cy="1393.6" r="4.1"/>
<circle cx="363.2" cy="1393.3" r="4.1"/>
<circle cx="364.1" cy="1393" r="4.1"/>
<circle cx="368.2" cy="1391.8" r="4.1"/>
<circle cx="371.3" cy="1391.1" r="4.1"/>
<circle cx="374.3" cy="1390.6" r="4.1"/>
<circle cx="375.2" cy="1390.4" r="4.1"/>
<circle cx="376.1" cy="1390.3" r="4.1"/>
<circle cx="381.8" cy="1389.6" r="4.1"/>
<circle cx="382.7" cy="1389.5" r="4.1"/>
<circle cx="386.8" cy="1389.1" r="4.1"/>
<circle cx="387.7" cy="1389" r="4.1"/>
<circle cx="390.8" cy="1388.8" r="4.1"/>
<circle cx="393.8" cy="1388.6" r="4.1"/>
<circle cx="395.7" cy="1388.5" r="4.1"/>
<circle cx="396.6" cy="1388.5" r="4.1"/>
<circle cx="397.5" cy="1388.4" r="4.1"/>
<circle cx="401.7" cy="1388.3" r="4.1"/>
<circle cx="407.3" cy="1388.1" r="4.1"/>
<circle cx="410.4" cy="1388" r="4.1"/>
<circle cx="411.3" cy="1388" r="4.1"/>
<circle cx="413.2" cy="1387.9" r="4.1"/>
<circle cx="416.2" cy="1387.8" r="4.1"/>
<circle cx="419.2" cy="1387.8" r="4.1"/>
<circle cx="420.1" cy="1387.7" r="4.1"/>
<circle cx="424.3" cy="1387.6" r="4.1"/>
<circle cx="425.2" cy="1387.6" r="4.1"/>
<circle cx="429.4" cy="1387.5" r="4.1"/>
<circle cx="430.3" cy="1387.5" r="4.1"/>
<circle cx="434.4" cy="1387.4" r="4.1"/>
<circle cx="440.1" cy="1387.2" r="4.1"/>
<circle cx="441" cy="1387.2" r="4.1"/>
<circle cx="446.7" cy="1387.1" r="4.1"/>
<circle cx="450.8" cy="1387.1" r="4.1"/>
<circle cx="455" cy="1387" r="4.1"/>
<circle cx="460.7" cy="1386.9" r="4.1"/>
<circle cx="460.8" cy="1386.8" r="4.1"/>
<circle cx="463.4" cy="1386.8" r="4.1"/>
<circle cx="466.1" cy="1386.8" r="4.1"/>
<circle cx="468.7" cy="1386.8" r="4.1"/>
<circle cx="471.4" cy="1386.8" r="4.1"/>
<circle cx="474" cy="1386.8" r="4.1"/>
<circle cx="476.7" cy="1386.8" r="4.1"/>
<circle cx="479.3" cy="1386.8" r="4.1"/>
<circle cx="481.9" cy="1386.8" r="4.1"/>
<circle cx="484.6" cy="1386.8" r="4.1"/>
<circle cx="487.2" cy="1386.8" r="4.1"/>
<circle cx="489.9" cy="1386.8" r="4.1"/>
<circle cx="492.5" cy="1386.8" r="4.1"/>
<circle cx="495.2" cy="1386.8" r="4.1"/>
<circle cx="497.8" cy="1386.8" r="4.1"/>
<circle cx="500.5" cy="1386.8" r="4.1"/>
<circle cx="503.1" cy="1386.8" r="4.1"/>
<circle cx="505.8" cy="1386.8" r="4.1"/>
<circle cx="508.4" cy="1386.8" r="4.1"/>
<circle cx="511.1" cy="1386.8" r="4.1"/>
</g>
<polyline points="201.6,1772.2 213.3,1770.9 220.6,1769.6 225.2,1768.4 228.5,1767.1 230.7,1765.8 232.3,1764.5 233.8,1763.2 235.2,1761.9 236.5,1760.7 237.6,1759.4 238.7,1758.1 239.7,1756.8 240.7,1755.5 241.5,1754.2 242.4,1753 243.1,1751.7 243.9,1750.4 244.5,1749.1 245.2,1747.8 245.8,1746.5 246.3,1745.3 246.9,1744 247.4,1742.7 247.8,1741.4 248.3,1740.1 248.7,1738.8 249.1,1737.6 249.6,1736.3 250,1735 250.4,1733.7 250.8,1732.4 251.2,1731.1 251.6,1729.9 252,1728.6 252.5,1727.3 252.9,1726 253.3,1724.7 253.7,1723.4 254.1,1722.2 254.5,1720.9 254.9,1719.6 255.3,1718.3 255.7,1717 256.1,1715.8 256.5,1714.5 256.9,1713.2 257.2,1711.9 257.6,1710.6 258,1709.3 258.3,1708.1 258.7,1706.8 259,1705.5 259.4,1704.2 259.7,1702.9 260.1,1701.6 260.4,1700.4 260.7,1699.1 261,1697.8 261.3,1696.5 261.6,1695.2 261.9,1693.9 262.2,1692.7 262.5,1691.4 262.7,1690.1 263,1688.8 263.3,1687.5 263.5,1686.2 263.8,1685 264.1,1683.7 264.3,1682.4 264.6,1681.1 264.9,1679.8 265.2,1678.5 265.4,1677.3 265.7,1676 266,1674.7 266.3,1673.4 266.6,1672.1 266.8,1670.8 267.1,1669.6 267.4,1668.3 267.7,1667 268,1665.7 268.3,1664.4 268.5,1663.1 268.8,1661.9 269.1,1660.6 269.4,1659.3 269.7,1658 270,1656.7 270.2,1655.4 270.5,1654.2 270.8,1652.9 271.1,1651.6 271.4,1650.3 271.6,1649 271.9,1647.7 272.2,1646.5 272.4,1645.2 272.7,1643.9 272.9,1642.6 273.2,1641.3 273.4,1640 273.7,1638.8 273.9,1637.5 274.1,1636.2 274.4,1634.9 274.6,1633.6 274.8,1632.3 275,1631.1 275.2,1629.8 275.4,1628.5 275.6,1627.2 275.8,1625.9 276,1624.7 276.2,1623.4 276.4,1622.1 276.6,1620.8 276.8,1619.5 277,1618.2 277.2,1617 277.4,1615.7 277.6,1614.4 277.8,1613.1 278,1611.8 278.1,1610.5 278.3,1609.3 278.5,1608 278.7,1606.7 278.9,1605.4 279.1,1604.1 279.3,1602.8 279.5,1601.6 279.7,1600.3 280,1599 280.2,1597.7 280.4,1596.4 280.6,1595.1 280.8,1593.9 281.1,1592.6 281.3,1591.3 281.6,1590 281.8,1588.7 282.1,1587.4 282.5,1586.2 282.8,1584.9 283.3,1583.6 283.7,1582.3 284.1,1581 284.6,1579.7 285,1578.5 285.4,1577.2 285.8,1575.9 286.2,1574.6 286.5,1573.3 286.7,1572 287,1570.8 287.2,1569.5 287.4,1568.2 287.7,1566.9 287.9,1565.6 288.1,1564.3 288.3,1563.1 288.5,1561.8 288.8,1560.5 289,1559.2 289.2,1557.9 289.4,1556.6 289.5,1555.4 289.7,1554.1 289.9,1552.8 290.1,1551.5 290.3,1550.2 290.5,1548.9 290.7,1547.7 290.9,1546.4 291.1,1545.1 291.3,1543.8 291.5,1542.5 291.7,1541.3 292,1540 292.2,1538.7 292.4,1537.4 292.6,1536.1 292.9,1534.8 293.1,1533.6 293.4,1532.3 293.6,1531 293.9,1529.7 294.2,1528.4 294.5,1527.1 294.8,1525.9 295,1524.6 295.3,1523.3 295.7,1522 296,1520.7 296.3,1519.4 296.6,1518.2 296.9,1516.9 297.2,1515.6 297.6,1514.3 297.9,1513 298.2,1511.7 298.6,1510.5 298.9,1509.2 299.2,1507.9 299.6,1506.6 299.9,1505.3 300.3,1504 300.6,1502.8 301,1501.5 301.3,1500.2 301.7,1498.9 302,1497.6 302.4,1496.3 302.7,1495.1 303.1,1493.8 303.4,1492.5 303.8,1491.2 304.1,1489.9 304.5,1488.6 304.9,1487.4 305.2,1486.1 305.6,1484.8 306,1483.5 306.4,1482.2 306.8,1480.9 307.1,1479.7 307.5,1478.4 307.9,1477.1 308.3,1475.8 308.7,1474.5 309.1,1473.2 309.5,1472 309.9,1470.7 310.3,1469.4 310.7,1468.1 311.1,1466.8 311.5,1465.5 311.9,1464.3 312.3,1463 312.7,1461.7 313.1,1460.4 313.5,1459.1 313.9,1457.8 314.3,1456.6 314.7,1455.3 315.1,1454 315.5,1452.7 315.9,1451.4 316.3,1450.2 316.7,1448.9 317.1,1447.6 317.4,1446.3 317.8,1445 318.2,1443.7 318.5,1442.5 318.9,1441.2 319.2,1439.9 319.6,1438.6 319.9,1437.3 320.3,1436 320.7,1434.8 321,1433.5 321.4,1432.2 321.8,1430.9 322.2,1429.6 322.7,1428.3 323.1,1427.1 323.5,1425.8 324,1424.5 324.5,1423.2 325,1421.9 325.6,1420.6 326.1,1419.4 326.7,1418.1 327.3,1416.8 328,1415.5 328.6,1414.2 329.3,1412.9 330.1,1411.7 330.8,1410.4 331.6,1409.1 332.5,1407.8 333.4,1406.5 334.4,1405.2 335.5,1404 336.6,1402.7 337.8,1401.4 339.2,1400.1 340.6,1398.8 342.5,1397.5 344.8,1396.3 347.7,1395 351,1393.7 354.8,1392.4 359.8,1391.1 367.6,1389.8 382.8,1388.6 429.1,1387.3 519.2,1386.8" fill="none" stroke="#8fd3e2" stroke-width="0.8" />
<g fill="#6cc5d8">
<circle cx="201.6" cy="1772.2" r="4.1"/>
<circle cx="203.9" cy="1772" r="4.1"/>
<circle cx="206.1" cy="1771.7" r="4.1"/>
<circle cx="208.4" cy="1771.5" r="4.1"/>
<circle cx="210.7" cy="1771.3" r="4.1"/>
<circle cx="212.9" cy="1771" r="4.1"/>
<circle cx="215.2" cy="1770.6" r="4.1"/>
<circle cx="217.5" cy="1770.3" r="4.1"/>
<circle cx="219.7" cy="1769.8" r="4.1"/>
<circle cx="222" cy="1769.3" r="4.1"/>
<circle cx="224.3" cy="1768.6" r="4.1"/>
<circle cx="226.5" cy="1767.9" r="4.1"/>
<circle cx="228.8" cy="1766.9" r="4.1"/>
<circle cx="231.1" cy="1765.5" r="4.1"/>
<circle cx="233.4" cy="1763.6" r="4.1"/>
<circle cx="235.6" cy="1761.5" r="4.1"/>
<circle cx="237.9" cy="1759.1" r="4.1"/>
<circle cx="243.6" cy="1750.9" r="4.1"/>
<circle cx="244.5" cy="1749.2" r="4.1"/>
<circle cx="245.4" cy="1747.4" r="4.1"/>
<circle cx="246.3" cy="1745.3" r="4.1"/>
<circle cx="247.2" cy="1743.1" r="4.1"/>
<circle cx="250.2" cy="1734.2" r="4.1"/>
<circle cx="254.4" cy="1721.3" r="4.1"/>
<circle cx="257.4" cy="1711.3" r="4.1"/>
<circle cx="261.6" cy="1695.4" r="4.1"/>
<circle cx="267.2" cy="1669" r="4.1"/>
<circle cx="271.4" cy="1650.1" r="4.1"/>
<circle cx="275.6" cy="1627.6" r="4.1"/>
<circle cx="279.7" cy="1600.4" r="4.1"/>
<circle cx="285.4" cy="1577.3" r="4.1"/>
<circle cx="286.3" cy="1574" r="4.1"/>
<circle cx="292" cy="1539.8" r="4.1"/>
<circle cx="297.7" cy="1514" r="4.1"/>
<circle cx="298.6" cy="1510.5" r="4.1"/>
<circle cx="301.6" cy="1499.3" r="4.1"/>
<circle cx="307.3" cy="1479.3" r="4.1"/>
<circle cx="308.2" cy="1476.3" r="4.1"/>
<circle cx="312.3" cy="1463" r="4.1"/>
<circle cx="313.2" cy="1460.1" r="4.1"/>
<circle cx="315.1" cy="1454" r="4.1"/>
<circle cx="316" cy="1451" r="4.1"/>
<circle cx="320.2" cy="1436.4" r="4.1"/>
<circle cx="325.9" cy="1419.9" r="4.1"/>
<circle cx="330" cy="1411.7" r="4.1"/>
<circle cx="333.1" cy="1407" r="4.1"/>
<circle cx="334" cy="1405.8" r="4.1"/>
<circle cx="337" cy="1402.3" r="4.1"/>
<circle cx="340" cy="1399.3" r="4.1"/>
<circle cx="341.9" cy="1397.9" r="4.1"/>
<circle cx="347.6" cy="1395" r="4.1"/>
<circle cx="349.5" cy="1394.3" r="4.1"/>
<circle cx="355.2" cy="1392.3" r="4.1"/>
<circle cx="357" cy="1391.8" r="4.1"/>
<circle cx="360.1" cy="1391.1" r="4.1"/>
<circle cx="364.2" cy="1390.3" r="4.1"/>
<circle cx="368.4" cy="1389.8" r="4.1"/>
<circle cx="370.3" cy="1389.6" r="4.1"/>
<circle cx="373.3" cy="1389.2" r="4.1"/>
<circle cx="377.5" cy="1388.9" r="4.1"/>
<circle cx="380.5" cy="1388.7" r="4.1"/>
<circle cx="382.4" cy="1388.6" r="4.1"/>
<circle cx="386.5" cy="1388.4" r="4.1"/>
<circle cx="388.4" cy="1388.3" r="4.1"/>
<circle cx="390.3" cy="1388.3" r="4.1"/>
<circle cx="394.5" cy="1388.1" r="4.1"/>
<circle cx="396.4" cy="1388.1" r="4.1"/>
<circle cx="402.1" cy="1387.9" r="4.1"/>
<circle cx="405.1" cy="1387.9" r="4.1"/>
<circle cx="407" cy="1387.8" r="4.1"/>
<circle cx="408.9" cy="1387.8" r="4.1"/>
<circle cx="410.8" cy="1387.7" r="4.1"/>
<circle cx="414.9" cy="1387.6" r="4.1"/>
<circle cx="417.9" cy="1387.6" r="4.1"/>
<circle cx="418.8" cy="1387.5" r="4.1"/>
<circle cx="419.8" cy="1387.5" r="4.1"/>
<circle cx="422.8" cy="1387.4" r="4.1"/>
<circle cx="424.7" cy="1387.4" r="4.1"/>
<circle cx="425.6" cy="1387.4" r="4.1"/>
<circle cx="429.7" cy="1387.3" r="4.1"/>
<circle cx="433.9" cy="1387.2" r="4.1"/>
<circle cx="436.9" cy="1387.2" r="4.1"/>
<circle cx="438.8" cy="1387.1" r="4.1"/>
<circle cx="443" cy="1387.1" r="4.1"/>
<circle cx="447.1" cy="1387" r="4.1"/>
<circle cx="451.8" cy="1386.8" r="4.1"/>
<circle cx="454.4" cy="1386.8" r="4.1"/>
<circle cx="457.1" cy="1386.8" r="4.1"/>
<circle cx="459.7" cy="1386.8" r="4.1"/>
<circle cx="462.4" cy="1386.8" r="4.1"/>
<circle cx="465" cy="1386.8" r="4.1"/>
<circle cx="467.6" cy="1386.8" r="4.1"/>
<circle cx="470.3" cy="1386.8" r="4.1"/>
<circle cx="472.9" cy="1386.8" r="4.1"/>
<circle cx="475.6" cy="1386.8" r="4.1"/>
<circle cx="478.2" cy="1386.8" r="4.1"/>
<circle cx="480.9" cy="1386.8" r="4.1"/>
<circle cx="483.5" cy="1386.8" r="4.1"/>
<circle cx="486.2" cy="1386.8" r="4.1"/>
<circle cx="488.8" cy="1386.8" r="4.1"/>
<circle cx="491.5" cy="1386.8" r="4.1"/>
<circle cx="494.1" cy="1386.8" r="4.1"/>
<circle cx="496.8" cy="1386.8" r="4.1"/>
<circle cx="499.4" cy="1386.8" r="4.1"/>
<circle cx="502.1" cy="1386.8" r="4.1"/>
<circle cx="504.7" cy="1386.8" r="4.1"/>
<circle cx="507.4" cy="1386.8" r="4.1"/>
<circle cx="510" cy="1386.8" r="4.1"/>
<circle cx="512.7" cy="1386.8" r="4.1"/>
<circle cx="515.3" cy="1386.8" r="4.1"/>
<circle cx="518" cy="1386.8" r="4.1"/>
</g>
<polyline points="176.2,1772.2 189.1,1770.9 197,1769.6 201.9,1768.4 205.5,1767.1 207.9,1765.8 209.7,1764.5 211.3,1763.2 212.8,1761.9 214.2,1760.7 215.5,1759.4 216.7,1758.1 217.7,1756.8 218.7,1755.5 219.7,1754.2 220.6,1753 221.4,1751.7 222.1,1750.4 222.8,1749.1 223.5,1747.8 224.1,1746.5 224.7,1745.3 225.2,1744 225.7,1742.7 226.2,1741.4 226.6,1740.1 227.1,1738.8 227.5,1737.6 227.9,1736.3 228.3,1735 228.7,1733.7 229.2,1732.4 229.6,1731.1 230,1729.9 230.5,1728.6 230.9,1727.3 231.4,1726 231.8,1724.7 232.3,1723.4 232.8,1722.2 233.2,1720.9 233.7,1719.6 234.1,1718.3 234.6,1717 235,1715.8 235.5,1714.5 235.9,1713.2 236.4,1711.9 236.8,1710.6 237.2,1709.3 237.7,1708.1 238.1,1706.8 238.5,1705.5 238.9,1704.2 239.3,1702.9 239.7,1701.6 240.1,1700.4 240.5,1699.1 240.8,1697.8 241.2,1696.5 241.5,1695.2 241.9,1693.9 242.2,1692.7 242.5,1691.4 242.8,1690.1 243.1,1688.8 243.4,1687.5 243.8,1686.2 244.1,1685 244.4,1683.7 244.7,1682.4 245,1681.1 245.3,1679.8 245.7,1678.5 246,1677.3 246.3,1676 246.6,1674.7 247,1673.4 247.3,1672.1 247.6,1670.8 247.9,1669.6 248.3,1668.3 248.6,1667 248.9,1665.7 249.3,1664.4 249.6,1663.1 249.9,1661.9 250.2,1660.6 250.5,1659.3 250.9,1658 251.2,1656.7 251.5,1655.4 251.8,1654.2 252.1,1652.9 252.4,1651.6 252.8,1650.3 253.1,1649 253.4,1647.7 253.7,1646.5 254,1645.2 254.2,1643.9 254.5,1642.6 254.8,1641.3 255.1,1640 255.4,1638.8 255.6,1637.5 255.9,1636.2 256.2,1634.9 256.4,1633.6 256.7,1632.3 256.9,1631.1 257.1,1629.8 257.4,1628.5 257.6,1627.2 257.8,1625.9 258.1,1624.7 258.3,1623.4 258.5,1622.1 258.7,1620.8 258.9,1619.5 259.2,1618.2 259.4,1617 259.6,1615.7 259.8,1614.4 260,1613.1 260.2,1611.8 260.4,1610.5 260.7,1609.3 260.9,1608 261.1,1606.7 261.3,1605.4 261.5,1604.1 261.8,1602.8 262,1601.6 262.2,1600.3 262.5,1599 262.7,1597.7 263,1596.4 263.2,1595.1 263.5,1593.9 263.8,1592.6 264,1591.3 264.3,1590 264.6,1588.7 264.9,1587.4 265.3,1586.2 265.8,1584.9 266.3,1583.6 266.8,1582.3 267.3,1581 267.8,1579.7 268.4,1578.5 268.9,1577.2 269.3,1575.9 269.7,1574.6 270.1,1573.3 270.3,1572 270.6,1570.8 270.9,1569.5 271.2,1568.2 271.4,1566.9 271.7,1565.6 271.9,1564.3 272.2,1563.1 272.4,1561.8 272.6,1560.5 272.9,1559.2 273.1,1557.9 273.3,1556.6 273.5,1555.4 273.7,1554.1 274,1552.8 274.2,1551.5 274.4,1550.2 274.6,1548.9 274.8,1547.7 275,1546.4 275.3,1545.1 275.5,1543.8 275.7,1542.5 276,1541.3 276.2,1540 276.4,1538.7 276.7,1537.4 277,1536.1 277.2,1534.8 277.5,1533.6 277.8,1532.3 278.1,1531 278.4,1529.7 278.7,1528.4 279,1527.1 279.3,1525.9 279.7,1524.6 280,1523.3 280.4,1522 280.7,1520.7 281.1,1519.4 281.4,1518.2 281.8,1516.9 282.2,1515.6 282.6,1514.3 282.9,1513 283.3,1511.7 283.7,1510.5 284.1,1509.2 284.5,1507.9 284.9,1506.6 285.3,1505.3 285.7,1504 286.1,1502.8 286.5,1501.5 286.9,1500.2 287.3,1498.9 287.7,1497.6 288,1496.3 288.4,1495.1 288.8,1493.8 289.2,1492.5 289.6,1491.2 290,1489.9 290.4,1488.6 290.8,1487.4 291.3,1486.1 291.7,1484.8 292.1,1483.5 292.5,1482.2 293,1480.9 293.4,1479.7 293.9,1478.4 294.3,1477.1 294.8,1475.8 295.2,1474.5 295.7,1473.2 296.1,1472 296.6,1470.7 297,1469.4 297.5,1468.1 297.9,1466.8 298.4,1465.5 298.8,1464.3 299.3,1463 299.8,1461.7 300.2,1460.4 300.7,1459.1 301.1,1457.8 301.6,1456.6 302.1,1455.3 302.5,1454 303,1452.7 303.4,1451.4 303.9,1450.2 304.3,1448.9 304.8,1447.6 305.2,1446.3 305.6,1445 306,1443.7 306.4,1442.5 306.8,1441.2 307.2,1439.9 307.6,1438.6 308,1437.3 308.4,1436 308.8,1434.8 309.2,1433.5 309.6,1432.2 310,1430.9 310.5,1429.6 310.9,1428.3 311.4,1427.1 311.9,1425.8 312.4,1424.5 312.9,1423.2 313.5,1421.9 314.1,1420.6 314.7,1419.4 315.3,1418.1 316,1416.8 316.7,1415.5 317.4,1414.2 318.1,1412.9 318.9,1411.7 319.7,1410.4 320.6,1409.1 321.5,1407.8 322.5,1406.5 323.5,1405.2 324.6,1404 325.8,1402.7 327.1,1401.4 328.4,1400.1 329.9,1398.8 331.8,1397.5 334.1,1396.3 336.9,1395 340,1393.7 343.7,1392.4 348.2,1391.1 355.9,1389.8 370.9,1388.6 420.1,1387.3 566.1,1386.8" fill="none" stroke="#cf95c9" stroke-width="0.8" />
<g fill="#b05aa6">
<circle cx="176.2" cy="1772.2" r="4.1"/>
<circle cx="178.5" cy="1772" r="4.1"/>
<circle cx="180.8" cy="1771.8" r="4.1"/>
<circle cx="183.1" cy="1771.6" r="4.1"/>
<circle cx="185.3" cy="1771.3" r="4.1"/>
<circle cx="187.6" cy="1771.1" r="4.1"/>
<circle cx="189.9" cy="1770.8" r="4.1"/>
<circle cx="192.1" cy="1770.5" r="4.1"/>
<circle cx="194.4" cy="1770.1" r="4.1"/>
<circle cx="196.7" cy="1769.7" r="4.1"/>
<circle cx="198.9" cy="1769.2" r="4.1"/>
<circle cx="201.2" cy="1768.6" r="4.1"/>
<circle cx="203.5" cy="1767.8" r="4.1"/>
<circle cx="205.7" cy="1767" r="4.1"/>
<circle cx="208" cy="1765.7" r="4.1"/>
<circle cx="210.3" cy="1764" r="4.1"/>
<circle cx="212.6" cy="1762.2" r="4.1"/>
<circle cx="214.8" cy="1760" r="4.1"/>
<circle cx="219" cy="1755.2" r="4.1"/>
<circle cx="222" cy="1750.6" r="4.1"/>
<circle cx="227.7" cy="1737" r="4.1"/>
<circle cx="231.8" cy="1724.7" r="4.1"/>
<circle cx="234.9" cy="1716.2" r="4.1"/>
<circle cx="235.8" cy="1713.6" r="4.1"/>
<circle cx="236.7" cy="1711" r="4.1"/>
<circle cx="239.7" cy="1701.7" r="4.1"/>
<circle cx="245.4" cy="1679.7" r="4.1"/>
<circle cx="246.3" cy="1676.1" r="4.1"/>
<circle cx="249.3" cy="1664.2" r="4.1"/>
<circle cx="255" cy="1640.5" r="4.1"/>
<circle cx="258" cy="1624.9" r="4.1"/>
<circle cx="261" cy="1607" r="4.1"/>
<circle cx="266.7" cy="1582.5" r="4.1"/>
<circle cx="267.6" cy="1580.3" r="4.1"/>
<circle cx="269.5" cy="1575.2" r="4.1"/>
<circle cx="273.7" cy="1554.4" r="4.1"/>
<circle cx="277.8" cy="1532" r="4.1"/>
<circle cx="279.7" cy="1524.4" r="4.1"/>
<circle cx="280.6" cy="1521" r="4.1"/>
<circle cx="283.7" cy="1510.6" r="4.1"/>
<circle cx="285.6" cy="1504.4" r="4.1"/>
<circle cx="287.5" cy="1498.3" r="4.1"/>
<circle cx="288.4" cy="1495.3" r="4.1"/>
<circle cx="289.3" cy="1492.4" r="4.1"/>
<circle cx="293.4" cy="1479.7" r="4.1"/>
<circle cx="294.3" cy="1477" r="4.1"/>
<circle cx="300" cy="1461" r="4.1"/>
<circle cx="303" cy="1452.5" r="4.1"/>
<circle cx="303.9" cy="1449.9" r="4.1"/>
<circle cx="305.8" cy="1444.3" r="4.1"/>
<circle cx="307.7" cy="1438.2" r="4.1"/>
<circle cx="311.9" cy="1425.7" r="4.1"/>
<circle cx="314.9" cy="1418.9" r="4.1"/>
<circle cx="316.8" cy="1415.3" r="4.1"/>
<circle cx="317.7" cy="1413.7" r="4.1"/>
<circle cx="321.9" cy="1407.3" r="4.1"/>
<circle cx="327.5" cy="1400.9" r="4.1"/>
<circle cx="328.5" cy="1400.1" r="4.1"/>
<circle cx="330.3" cy="1398.5" r="4.1"/>
<circle cx="332.2" cy="1397.3" r="4.1"/>
<circle cx="335.3" cy="1395.7" r="4.1"/>
<circle cx="338.3" cy="1394.4" r="4.1"/>
<circle cx="344" cy="1392.3" r="4.1"/>
<circle cx="349.6" cy="1390.8" r="4.1"/>
<circle cx="355.3" cy="1389.9" r="4.1"/>
<circle cx="361" cy="1389.3" r="4.1"/>
<circle cx="362.9" cy="1389.1" r="4.1"/>
<circle cx="367" cy="1388.8" r="4.1"/>
<circle cx="368.9" cy="1388.7" r="4.1"/>
<circle cx="369.8" cy="1388.6" r="4.1"/>
<circle cx="374" cy="1388.4" r="4.1"/>
<circle cx="378.2" cy="1388.3" r="4.1"/>
<circle cx="380" cy="1388.2" r="4.1"/>
<circle cx="384.2" cy="1388.1" r="4.1"/>
<circle cx="388.4" cy="1388" r="4.1"/>
<circle cx="390.3" cy="1388" r="4.1"/>
<circle cx="391.2" cy="1387.9" r="4.1"/>
<circle cx="395.3" cy="1387.8" r="4.1"/>
<circle cx="401" cy="1387.7" r="4.1"/>
<circle cx="406.7" cy="1387.6" r="4.1"/>
<circle cx="412.3" cy="1387.5" r="4.1"/>
<circle cx="415.4" cy="1387.4" r="4.1"/>
<circle cx="419.5" cy="1387.3" r="4.1"/>
<circle cx="422.6" cy="1387.2" r="4.1"/>
<circle cx="424.5" cy="1387.2" r="4.1"/>
<circle cx="425.4" cy="1387.2" r="4.1"/>
<circle cx="426.3" cy="1387.2" r="4.1"/>
<circle cx="428.2" cy="1387.1" r="4.1"/>
<circle cx="430.1" cy="1387.1" r="4.1"/>
<circle cx="434.2" cy="1387" r="4.1"/>
<circle cx="435.1" cy="1387" r="4.1"/>
<circle cx="438.1" cy="1387" r="4.1"/>
<circle cx="442.8" cy="1386.8" r="4.1"/>
<circle cx="445.4" cy="1386.8" r="4.1"/>
<circle cx="448.1" cy="1386.8" r="4.1"/>
<circle cx="450.7" cy="1386.8" r="4.1"/>
<circle cx="453.4" cy="1386.8" r="4.1"/>
<circle cx="456" cy="1386.8" r="4.1"/>
<circle cx="458.6" cy="1386.8" r="4.1"/>
<circle cx="461.3" cy="1386.8" r="4.1"/>
<circle cx="463.9" cy="1386.8" r="4.1"/>
<circle cx="466.6" cy="1386.8" r="4.1"/>
<circle cx="469.2" cy="1386.8" r="4.1"/>
<circle cx="471.9" cy="1386.8" r="4.1"/>
<circle cx="474.5" cy="1386.8" r="4.1"/>
<circle cx="477.2" cy="1386.8" r="4.1"/>
<circle cx="479.8" cy="1386.8" r="4.1"/>
<circle cx="482.5" cy="1386.8" r="4.1"/>
<circle cx="485.1" cy="1386.8" r="4.1"/>
<circle cx="487.8" cy="1386.8" r="4.1"/>
<circle cx="490.4" cy="1386.8" r="4.1"/>
<circle cx="493.1" cy="1386.8" r="4.1"/>
<circle cx="495.7" cy="1386.8" r="4.1"/>
<circle cx="498.4" cy="1386.8" r="4.1"/>
<circle cx="501" cy="1386.8" r="4.1"/>
<circle cx="503.7" cy="1386.8" r="4.1"/>
<circle cx="506.3" cy="1386.8" r="4.1"/>
<circle cx="509" cy="1386.8" r="4.1"/>
<circle cx="511.6" cy="1386.8" r="4.1"/>
<circle cx="514.2" cy="1386.8" r="4.1"/>
<circle cx="516.9" cy="1386.8" r="4.1"/>
<circle cx="519.5" cy="1386.8" r="4.1"/>
<circle cx="557" cy="1386.8" r="4.1"/>
<circle cx="565.3" cy="1386.8" r="4.1"/>
</g>
<polyline points="161.3,1772.2 174.8,1770.9 183.1,1769.6 188.2,1768.4 192,1767.1 194.5,1765.8 196.4,1764.5 198.1,1763.2 199.7,1761.9 201.1,1760.7 202.5,1759.4 203.7,1758.1 204.8,1756.8 205.9,1755.5 206.8,1754.2 207.7,1753 208.6,1751.7 209.3,1750.4 210.1,1749.1 210.7,1747.8 211.4,1746.5 211.9,1745.3 212.5,1744 213,1742.7 213.5,1741.4 213.9,1740.1 214.4,1738.8 214.8,1737.6 215.2,1736.3 215.6,1735 216,1733.7 216.4,1732.4 216.9,1731.1 217.3,1729.9 217.8,1728.6 218.2,1727.3 218.7,1726 219.2,1724.7 219.7,1723.4 220.2,1722.2 220.7,1720.9 221.2,1719.6 221.7,1718.3 222.2,1717 222.7,1715.8 223.2,1714.5 223.6,1713.2 224.1,1711.9 224.6,1710.6 225.1,1709.3 225.5,1708.1 226,1706.8 226.4,1705.5 226.9,1704.2 227.3,1702.9 227.8,1701.6 228.2,1700.4 228.6,1699.1 229,1697.8 229.4,1696.5 229.7,1695.2 230.1,1693.9 230.4,1692.7 230.8,1691.4 231.1,1690.1 231.4,1688.8 231.8,1687.5 232.1,1686.2 232.5,1685 232.8,1683.7 233.2,1682.4 233.5,1681.1 233.8,1679.8 234.2,1678.5 234.6,1677.3 234.9,1676 235.3,1674.7 235.6,1673.4 236,1672.1 236.3,1670.8 236.7,1669.6 237,1668.3 237.4,1667 237.7,1665.7 238.1,1664.4 238.4,1663.1 238.8,1661.9 239.1,1660.6 239.5,1659.3 239.8,1658 240.1,1656.7 240.5,1655.4 240.8,1654.2 241.2,1652.9 241.5,1651.6 241.8,1650.3 242.1,1649 242.5,1647.7 242.8,1646.5 243.1,1645.2 243.4,1643.9 243.7,1642.6 244,1641.3 244.3,1640 244.6,1638.8 244.9,1637.5 245.2,1636.2 245.5,1634.9 245.7,1633.6 246,1632.3 246.3,1631.1 246.5,1629.8 246.8,1628.5 247,1627.2 247.2,1625.9 247.5,1624.7 247.7,1623.4 248,1622.1 248.2,1620.8 248.4,1619.5 248.6,1618.2 248.9,1617 249.1,1615.7 249.3,1614.4 249.6,1613.1 249.8,1611.8 250,1610.5 250.3,1609.3 250.5,1608 250.7,1606.7 251,1605.4 251.2,1604.1 251.4,1602.8 251.7,1601.6 251.9,1600.3 252.2,1599 252.5,1597.7 252.7,1596.4 253,1595.1 253.3,1593.9 253.6,1592.6 253.9,1591.3 254.2,1590 254.5,1588.7 254.8,1587.4 255.3,1586.2 255.8,1584.9 256.3,1583.6 256.9,1582.3 257.4,1581 258,1579.7 258.6,1578.5 259.1,1577.2 259.6,1575.9 260,1574.6 260.4,1573.3 260.7,1572 261,1570.8 261.3,1569.5 261.6,1568.2 261.9,1566.9 262.2,1565.6 262.4,1564.3 262.7,1563.1 262.9,1561.8 263.2,1560.5 263.4,1559.2 263.6,1557.9 263.9,1556.6 264.1,1555.4 264.3,1554.1 264.6,1552.8 264.8,1551.5 265,1550.2 265.2,1548.9 265.5,1547.7 265.7,1546.4 265.9,1545.1 266.2,1543.8 266.4,1542.5 266.7,1541.3 266.9,1540 267.2,1538.7 267.4,1537.4 267.7,1536.1 268,1534.8 268.3,1533.6 268.6,1532.3 268.9,1531 269.3,1529.7 269.6,1528.4 269.9,1527.1 270.3,1525.9 270.6,1524.6 271,1523.3 271.4,1522 271.8,1520.7 272.1,1519.4 272.5,1518.2 272.9,1516.9 273.3,1515.6 273.7,1514.3 274.1,1513 274.5,1511.7 275,1510.5 275.4,1509.2 275.8,1507.9 276.2,1506.6 276.6,1505.3 277.1,1504 277.5,1502.8 277.9,1501.5 278.3,1500.2 278.8,1498.9 279.2,1497.6 279.6,1496.3 280,1495.1 280.5,1493.8 280.9,1492.5 281.3,1491.2 281.7,1489.9 282.2,1488.6 282.6,1487.4 283,1486.1 283.5,1484.8 284,1483.5 284.4,1482.2 284.9,1480.9 285.4,1479.7 285.8,1478.4 286.3,1477.1 286.8,1475.8 287.3,1474.5 287.7,1473.2 288.2,1472 288.7,1470.7 289.2,1469.4 289.7,1468.1 290.2,1466.8 290.6,1465.5 291.1,1464.3 291.6,1463 292.1,1461.7 292.6,1460.4 293.1,1459.1 293.6,1457.8 294.1,1456.6 294.6,1455.3 295.1,1454 295.6,1452.7 296.1,1451.4 296.6,1450.2 297,1448.9 297.5,1447.6 298,1446.3 298.4,1445 298.9,1443.7 299.3,1442.5 299.7,1441.2 300.1,1439.9 300.5,1438.6 301,1437.3 301.4,1436 301.8,1434.8 302.2,1433.5 302.6,1432.2 303.1,1430.9 303.5,1429.6 304,1428.3 304.5,1427.1 305,1425.8 305.6,1424.5 306.1,1423.2 306.7,1421.9 307.3,1420.6 308,1419.4 308.6,1418.1 309.3,1416.8 310,1415.5 310.8,1414.2 311.6,1412.9 312.4,1411.7 313.2,1410.4 314.1,1409.1 315.1,1407.8 316.1,1406.5 317.1,1405.2 318.3,1404 319.5,1402.7 320.8,1401.4 322.1,1400.1 323.6,1398.8 325.5,1397.5 327.8,1396.3 330.5,1395 333.6,1393.7 337.1,1392.4 341.4,1391.1 349,1389.8 363.9,1388.6 414.8,1387.3 517.7,1386.8" fill="none" stroke="#b9ba8a" stroke-width="1.2" />
<g fill="#7f8133">
<circle cx="161.3" cy="1772.2" r="4.1"/>
<circle cx="163.6" cy="1772" r="4.1"/>
<circle cx="165.9" cy="1771.8" r="4.1"/>
<circle cx="168.2" cy="1771.6" r="4.1"/>
<circle cx="170.4" cy="1771.4" r="4.1"/>
<circle cx="172.7" cy="1771.2" r="4.1"/>
<circle cx="175" cy="1770.9" r="4.1"/>
<circle cx="177.2" cy="1770.6" r="4.1"/>
<circle cx="179.5" cy="1770.3" r="4.1"/>
<circle cx="181.8" cy="1769.9" r="4.1"/>
<circle cx="184" cy="1769.4" r="4.1"/>
<circle cx="186.3" cy="1768.9" r="4.1"/>
<circle cx="188.6" cy="1768.2" r="4.1"/>
<circle cx="190.8" cy="1767.5" r="4.1"/>
<circle cx="193.1" cy="1766.5" r="4.1"/>
<circle cx="195.4" cy="1765.2" r="4.1"/>
<circle cx="197.7" cy="1763.5" r="4.1"/>
<circle cx="199.9" cy="1761.7" r="4.1"/>
<circle cx="202.2" cy="1759.6" r="4.1"/>
<circle cx="205.2" cy="1756.3" r="4.1"/>
<circle cx="208.2" cy="1752.2" r="4.1"/>
<circle cx="209.2" cy="1750.7" r="4.1"/>
<circle cx="212.2" cy="1744.7" r="4.1"/>
<circle cx="217.9" cy="1728.3" r="4.1"/>
<circle cx="218.8" cy="1725.9" r="4.1"/>
<circle cx="219.7" cy="1723.6" r="4.1"/>
<circle cx="223.8" cy="1712.7" r="4.1"/>
<circle cx="226.9" cy="1704.3" r="4.1"/>
<circle cx="232.5" cy="1684.7" r="4.1"/>
<circle cx="236.7" cy="1669.5" r="4.1"/>
<circle cx="239.7" cy="1658.3" r="4.1"/>
<circle cx="243.9" cy="1641.9" r="4.1"/>
<circle cx="244.8" cy="1638" r="4.1"/>
<circle cx="246.7" cy="1628.9" r="4.1"/>
<circle cx="247.6" cy="1624.1" r="4.1"/>
<circle cx="251.7" cy="1601.3" r="4.1"/>
<circle cx="252.7" cy="1596.8" r="4.1"/>
<circle cx="254.5" cy="1588.5" r="4.1"/>
<circle cx="260.2" cy="1574" r="4.1"/>
<circle cx="263.2" cy="1560.1" r="4.1"/>
<circle cx="265.1" cy="1549.5" r="4.1"/>
<circle cx="269.3" cy="1529.5" r="4.1"/>
<circle cx="271.2" cy="1522.7" r="4.1"/>
<circle cx="276.9" cy="1504.6" r="4.1"/>
<circle cx="282.5" cy="1487.5" r="4.1"/>
<circle cx="286.7" cy="1476" r="4.1"/>
<circle cx="290.9" cy="1465" r="4.1"/>
<circle cx="296.5" cy="1450.2" r="4.1"/>
<circle cx="297.4" cy="1447.8" r="4.1"/>
<circle cx="299.3" cy="1442.3" r="4.1"/>
<circle cx="303.5" cy="1429.8" r="4.1"/>
<circle cx="309.2" cy="1417.1" r="4.1"/>
<circle cx="314.8" cy="1408.1" r="4.1"/>
<circle cx="317.9" cy="1404.4" r="4.1"/>
<circle cx="323.5" cy="1398.9" r="4.1"/>
<circle cx="325.4" cy="1397.6" r="4.1"/>
<circle cx="331.1" cy="1394.7" r="4.1"/>
<circle cx="336.8" cy="1392.5" r="4.1"/>
<circle cx="342.4" cy="1390.9" r="4.1"/>
<circle cx="345.5" cy="1390.3" r="4.1"/>
<circle cx="348.5" cy="1389.9" r="4.1"/>
<circle cx="352.7" cy="1389.4" r="4.1"/>
<circle cx="358.3" cy="1388.9" r="4.1"/>
<circle cx="360.2" cy="1388.8" r="4.1"/>
<circle cx="363.3" cy="1388.6" r="4.1"/>
<circle cx="365.1" cy="1388.5" r="4.1"/>
<circle cx="370.8" cy="1388.3" r="4.1"/>
<circle cx="376.5" cy="1388.1" r="4.1"/>
<circle cx="379.5" cy="1388.1" r="4.1"/>
<circle cx="385.2" cy="1387.9" r="4.1"/>
<circle cx="389.4" cy="1387.8" r="4.1"/>
<circle cx="391.2" cy="1387.8" r="4.1"/>
<circle cx="395.4" cy="1387.7" r="4.1"/>
<circle cx="401.1" cy="1387.6" r="4.1"/>
<circle cx="402" cy="1387.6" r="4.1"/>
<circle cx="407.7" cy="1387.4" r="4.1"/>
<circle cx="408.6" cy="1387.4" r="4.1"/>
<circle cx="414.2" cy="1387.3" r="4.1"/>
<circle cx="418.4" cy="1387.2" r="4.1"/>
<circle cx="419.3" cy="1387.2" r="4.1"/>
<circle cx="425" cy="1387.1" r="4.1"/>
<circle cx="425.9" cy="1387.1" r="4.1"/>
<circle cx="431.6" cy="1387" r="4.1"/>
<circle cx="435.7" cy="1386.9" r="4.1"/>
<circle cx="437.5" cy="1386.8" r="4.1"/>
<circle cx="440.1" cy="1386.8" r="4.1"/>
<circle cx="442.8" cy="1386.8" r="4.1"/>
<circle cx="445.4" cy="1386.8" r="4.1"/>
<circle cx="448.1" cy="1386.8" r="4.1"/>
<circle cx="450.7" cy="1386.8" r="4.1"/>
<circle cx="453.4" cy="1386.8" r="4.1"/>
<circle cx="456" cy="1386.8" r="4.1"/>
<circle cx="458.6" cy="1386.8" r="4.1"/>
<circle cx="461.3" cy="1386.8" r="4.1"/>
<circle cx="463.9" cy="1386.8" r="4.1"/>
<circle cx="466.6" cy="1386.8" r="4.1"/>
<circle cx="469.2" cy="1386.8" r="4.1"/>
<circle cx="471.9" cy="1386.8" r="4.1"/>
<circle cx="474.5" cy="1386.8" r="4.1"/>
<circle cx="477.2" cy="1386.8" r="4.1"/>
<circle cx="479.8" cy="1386.8" r="4.1"/>
<circle cx="482.5" cy="1386.8" r="4.1"/>
<circle cx="485.1" cy="1386.8" r="4.1"/>
<circle cx="487.8" cy="1386.8" r="4.1"/>
<circle cx="490.4" cy="1386.8" r="4.1"/>
<circle cx="493.1" cy="1386.8" r="4.1"/>
<circle cx="495.7" cy="1386.8" r="4.1"/>
<circle cx="498.4" cy="1386.8" r="4.1"/>
<circle cx="501" cy="1386.8" r="4.1"/>
<circle cx="503.7" cy="1386.8" r="4.1"/>
<circle cx="506.3" cy="1386.8" r="4.1"/>
<circle cx="509" cy="1386.8" r="4.1"/>
<circle cx="511.6" cy="1386.8" r="4.1"/>
<circle cx="514.2" cy="1386.8" r="4.1"/>
<circle cx="516.9" cy="1386.8" r="4.1"/>
</g>
<line x1="520.7" y1="1386.8" x2="581.2" y2="1386.8" stroke="#cf95c9" stroke-width="0.8" />
<line x1="416.2" y1="1584.6" x2="228" y2="1584.6" stroke="#e71f19" stroke-width="4.4" />
<polygon points="210.9,1584.6 232.4,1577.4 232.4,1591.8" fill="#e71f19" />
<line x1="165.1" y1="1773.2" x2="165.1" y2="1769.5" stroke="#231815" stroke-width="1.8" />
<line x1="165.1" y1="1350.8" x2="165.1" y2="1354.5" stroke="#231815" stroke-width="1.8" />
<line x1="202.9" y1="1773.2" x2="202.9" y2="1766.2" stroke="#231815" stroke-width="1.8" />
<line x1="202.9" y1="1350.8" x2="202.9" y2="1357.8" stroke="#231815" stroke-width="1.8" />
<line x1="240.8" y1="1773.2" x2="240.8" y2="1769.5" stroke="#231815" stroke-width="1.8" />
<line x1="240.8" y1="1350.8" x2="240.8" y2="1354.5" stroke="#231815" stroke-width="1.8" />
<line x1="278.6" y1="1773.2" x2="278.6" y2="1766.2" stroke="#231815" stroke-width="1.8" />
<line x1="278.6" y1="1350.8" x2="278.6" y2="1357.8" stroke="#231815" stroke-width="1.8" />
<line x1="316.4" y1="1773.2" x2="316.4" y2="1769.5" stroke="#231815" stroke-width="1.8" />
<line x1="316.4" y1="1350.8" x2="316.4" y2="1354.5" stroke="#231815" stroke-width="1.8" />
<line x1="354.2" y1="1773.2" x2="354.2" y2="1766.2" stroke="#231815" stroke-width="1.8" />
<line x1="354.2" y1="1350.8" x2="354.2" y2="1357.8" stroke="#231815" stroke-width="1.8" />
<line x1="392.1" y1="1773.2" x2="392.1" y2="1769.5" stroke="#231815" stroke-width="1.8" />
<line x1="392.1" y1="1350.8" x2="392.1" y2="1354.5" stroke="#231815" stroke-width="1.8" />
<line x1="429.9" y1="1773.2" x2="429.9" y2="1766.2" stroke="#231815" stroke-width="1.8" />
<line x1="429.9" y1="1350.8" x2="429.9" y2="1357.8" stroke="#231815" stroke-width="1.8" />
<line x1="467.7" y1="1773.2" x2="467.7" y2="1769.5" stroke="#231815" stroke-width="1.8" />
<line x1="467.7" y1="1350.8" x2="467.7" y2="1354.5" stroke="#231815" stroke-width="1.8" />
<line x1="505.6" y1="1773.2" x2="505.6" y2="1766.2" stroke="#231815" stroke-width="1.8" />
<line x1="505.6" y1="1350.8" x2="505.6" y2="1357.8" stroke="#231815" stroke-width="1.8" />
<line x1="543.4" y1="1773.2" x2="543.4" y2="1769.5" stroke="#231815" stroke-width="1.8" />
<line x1="543.4" y1="1350.8" x2="543.4" y2="1354.5" stroke="#231815" stroke-width="1.8" />
<line x1="127.4" y1="1723.5" x2="131.1" y2="1723.5" stroke="#231815" stroke-width="1.8" />
<line x1="581.2" y1="1723.5" x2="577.5" y2="1723.5" stroke="#231815" stroke-width="1.8" />
<line x1="127.4" y1="1673.8" x2="134.4" y2="1673.8" stroke="#231815" stroke-width="1.8" />
<line x1="581.2" y1="1673.8" x2="574.2" y2="1673.8" stroke="#231815" stroke-width="1.8" />
<line x1="127.4" y1="1624.1" x2="131.1" y2="1624.1" stroke="#231815" stroke-width="1.8" />
<line x1="581.2" y1="1624.1" x2="577.5" y2="1624.1" stroke="#231815" stroke-width="1.8" />
<line x1="127.4" y1="1574.4" x2="134.4" y2="1574.4" stroke="#231815" stroke-width="1.8" />
<line x1="581.2" y1="1574.4" x2="574.2" y2="1574.4" stroke="#231815" stroke-width="1.8" />
<line x1="127.4" y1="1524.7" x2="131.1" y2="1524.7" stroke="#231815" stroke-width="1.8" />
<line x1="581.2" y1="1524.7" x2="577.5" y2="1524.7" stroke="#231815" stroke-width="1.8" />
<line x1="127.4" y1="1475" x2="134.4" y2="1475" stroke="#231815" stroke-width="1.8" />
<line x1="581.2" y1="1475" x2="574.2" y2="1475" stroke="#231815" stroke-width="1.8" />
<line x1="127.4" y1="1425.3" x2="131.1" y2="1425.3" stroke="#231815" stroke-width="1.8" />
<line x1="581.2" y1="1425.3" x2="577.5" y2="1425.3" stroke="#231815" stroke-width="1.8" />
<line x1="127.4" y1="1375.6" x2="134.4" y2="1375.6" stroke="#231815" stroke-width="1.8" />
<line x1="581.2" y1="1375.6" x2="574.2" y2="1375.6" stroke="#231815" stroke-width="1.8" />
<text x="119.3" y="1783.6" font-size="35.8" text-anchor="end" fill="#231815">0.0</text>
<text x="119.3" y="1684.2" font-size="35.8" text-anchor="end" fill="#231815">0.4</text>
<text x="119.3" y="1584.8" font-size="35.8" text-anchor="end" fill="#231815">0.8</text>
<text x="119.3" y="1485.4" font-size="35.8" text-anchor="end" fill="#231815">1.2</text>
<text x="119.3" y="1386" font-size="35.8" text-anchor="end" fill="#231815">1.6</text>
<text x="127.8" y="1804.4" font-size="30.5" text-anchor="middle" fill="#231815">0</text>
<text x="203.4" y="1804.4" font-size="30.5" text-anchor="middle" fill="#231815">1</text>
<text x="279.1" y="1804.4" font-size="30.5" text-anchor="middle" fill="#231815">2</text>
<text x="354.8" y="1804.4" font-size="30.5" text-anchor="middle" fill="#231815">3</text>
<text x="430.4" y="1804.4" font-size="30.5" text-anchor="middle" fill="#231815">4</text>
<text x="506.1" y="1804.4" font-size="30.5" text-anchor="middle" fill="#231815">5</text>
<text x="581.7" y="1804.4" font-size="30.5" text-anchor="middle" fill="#231815">6</text>
<text x="353.2" y="1863.8" font-size="46" text-anchor="middle" fill="#231815" textLength="104" lengthAdjust="spacingAndGlyphs">T (K)</text>
<text x="48.5" y="1574.8" font-size="47" text-anchor="middle" fill="#231815" transform="rotate(-90 48.5 1574.8)" textLength="219.5" lengthAdjust="spacingAndGlyphs">ρ (m<tspan font-family="'Liberation Serif', 'DejaVu Serif', serif" font-size="49">Ω</tspan> cm)</text>
<text x="133.8" y="1385.6" font-size="29" fill="#231815" textLength="188.5" lengthAdjust="spacingAndGlyphs">TaS<tspan font-size="19" dy="7">2</tspan><tspan dy="-7">(CTA</tspan><tspan font-size="19" dy="-10">+</tspan><tspan dy="10">)</tspan><tspan font-size="19" dy="7">0.1</tspan></text>
<text x="487.7" y="1458.6" font-size="34" fill="#231815" textLength="66.5" lengthAdjust="spacingAndGlyphs">H//c</text>
<text x="369.7" y="1639.7" font-size="42.7" fill="#231815">T<tspan font-size="33" dy="11">c</tspan><tspan font-size="29.5" dx="-1" dy="-29.4">mid</tspan></text>
<line x1="452.5" y1="1570.4" x2="506.4" y2="1570.4" stroke="#000" stroke-width="1.1" />
<circle cx="479.1" cy="1570.4" r="4.5" fill="#000" />
<text x="512.6" y="1578.4" font-size="22.7" fill="#111">0T</text>
<line x1="452.5" y1="1599.8" x2="506.4" y2="1599.8" stroke="#ef7d78" stroke-width="1.1" />
<circle cx="479.1" cy="1599.8" r="4.5" fill="#e71f19" />
<text x="512.6" y="1607.8" font-size="22.7" fill="#111">0.05T</text>
<line x1="452.5" y1="1628.9" x2="506.4" y2="1628.9" stroke="#a9d585" stroke-width="1.7" />
<circle cx="479.1" cy="1628.9" r="4.5" fill="#6fba2c" />
<text x="512.6" y="1636.9" font-size="22.7" fill="#111">0.08T</text>
<line x1="452.5" y1="1658.2" x2="506.4" y2="1658.2" stroke="#6d8cc8" stroke-width="1.1" />
<circle cx="479.1" cy="1658.2" r="4.5" fill="#1f4fa3" />
<text x="512.6" y="1666.2" font-size="22.7" fill="#111">0.11T</text>
<line x1="452.5" y1="1687.6" x2="506.4" y2="1687.6" stroke="#8fd3e2" stroke-width="1" />
<circle cx="479.1" cy="1687.6" r="4.5" fill="#6cc5d8" />
<text x="512.6" y="1695.6" font-size="22.7" fill="#111">0.15T</text>
<line x1="452.5" y1="1716.6" x2="506.4" y2="1716.6" stroke="#cf95c9" stroke-width="1" />
<circle cx="479.1" cy="1716.6" r="4.5" fill="#b05aa6" />
<text x="512.6" y="1724.6" font-size="22.7" fill="#111">0.20T</text>
<line x1="452.5" y1="1745.9" x2="506.4" y2="1745.9" stroke="#b9ba8a" stroke-width="1.4" />
<circle cx="479.1" cy="1745.9" r="4.5" fill="#7f8133" />
<text x="512.6" y="1753.9" font-size="22.7" fill="#111">0.24T</text>
<text x="639.6" y="1325.5" font-size="38.5" fill="#231815" textLength="49.3" lengthAdjust="spacingAndGlyphs">(g)</text>
<rect x="1014.3" y="1618.2" width="11.6" height="11.6" fill="none" stroke="#1f4fa3" stroke-width="2.5"/>
<rect x="1037.4" y="1642.3" width="11.6" height="11.6" fill="none" stroke="#1f4fa3" stroke-width="2.5"/>
<rect x="1068.8" y="1673" width="11.6" height="11.6" fill="none" stroke="#1f4fa3" stroke-width="2.5"/>
<rect x="1098.1" y="1696.5" width="11.6" height="11.6" fill="none" stroke="#1f4fa3" stroke-width="2.5"/>
<rect x="1120.2" y="1714.5" width="11.6" height="11.6" fill="none" stroke="#1f4fa3" stroke-width="2.5"/>
<rect x="1151.3" y="1732.6" width="11.6" height="11.6" fill="none" stroke="#1f4fa3" stroke-width="2.5"/>
<path d="M1194.2,1768.5 L1194.2,1762.7 L1205.8,1762.7 L1205.8,1768.5" fill="none" stroke="#1f4fa3" stroke-width="2.5"/>
<polyline points="787,1387.4 791.1,1391.6 795.2,1395.8 799.3,1399.9 803.4,1404.1 807.5,1408.3 811.6,1412.4 815.7,1416.6 819.8,1420.7 823.9,1424.9 828,1429.1 832.1,1433.2 836.2,1437.4 840.3,1441.6 844.4,1445.7 848.5,1449.9 852.6,1454.1 856.7,1458.3 860.8,1462.5 864.9,1466.7 869.1,1470.9 873.2,1475.1 877.3,1479.3 881.4,1483.5 885.5,1487.7 889.6,1491.9 893.7,1496.1 897.8,1500.4 901.9,1504.6 906,1508.8 910.1,1513 914.2,1517.2 918.3,1521.4 922.4,1525.6 926.5,1529.7 930.6,1533.9 934.7,1538.1 938.8,1542.3 942.9,1546.4 947,1550.6 951.1,1554.8 955.2,1558.9 959.3,1563.1 963.4,1567.3 967.5,1571.4 971.6,1575.6 975.7,1579.7 979.8,1583.9 983.9,1588.1 988,1592.2 992.1,1596.4 996.2,1600.6 1000.3,1604.8 1004.4,1609 1008.5,1613.3 1012.6,1617.5 1016.7,1621.8 1020.8,1626 1025,1630.2 1029.1,1634.4 1033.2,1638.6 1037.3,1642.8 1041.4,1646.8 1045.5,1650.9 1049.6,1654.9 1053.7,1658.9 1057.8,1662.9 1061.9,1666.8 1066,1670.7 1070.1,1674.6 1074.2,1678.4 1078.3,1682.2 1082.4,1685.9 1086.5,1689.6 1090.6,1693.2 1094.7,1696.8 1098.8,1700.4 1102.9,1703.8 1107,1707.3 1111.1,1710.6 1115.2,1713.9 1119.3,1717.1 1123.4,1720.2 1127.5,1723.3 1131.6,1726.3 1135.7,1729.3 1139.8,1732.3 1143.9,1735.3 1148,1738.2 1152.1,1741 1156.2,1743.9 1160.3,1746.7 1164.4,1749.4 1168.5,1752.1 1172.6,1754.7 1176.7,1757.3 1180.9,1759.8 1185,1762.2 1189.1,1764.4 1193.2,1766.4 1197.3,1768.5" fill="none" stroke="#e71f19" stroke-width="6.6" stroke-linejoin="round"/>
<rect x="787" y="1347.2" width="422.2" height="421.3" fill="none" stroke="#231815" stroke-width="2"/>
<line x1="821.1" y1="1768.5" x2="821.1" y2="1764.8" stroke="#231815" stroke-width="1.8" />
<line x1="821.1" y1="1347.2" x2="821.1" y2="1350.9" stroke="#231815" stroke-width="1.8" />
<line x1="855.1" y1="1768.5" x2="855.1" y2="1761.5" stroke="#231815" stroke-width="1.8" />
<line x1="855.1" y1="1347.2" x2="855.1" y2="1354.2" stroke="#231815" stroke-width="1.8" />
<line x1="889.2" y1="1768.5" x2="889.2" y2="1764.8" stroke="#231815" stroke-width="1.8" />
<line x1="889.2" y1="1347.2" x2="889.2" y2="1350.9" stroke="#231815" stroke-width="1.8" />
<line x1="923.3" y1="1768.5" x2="923.3" y2="1761.5" stroke="#231815" stroke-width="1.8" />
<line x1="923.3" y1="1347.2" x2="923.3" y2="1354.2" stroke="#231815" stroke-width="1.8" />
<line x1="957.4" y1="1768.5" x2="957.4" y2="1764.8" stroke="#231815" stroke-width="1.8" />
<line x1="957.4" y1="1347.2" x2="957.4" y2="1350.9" stroke="#231815" stroke-width="1.8" />
<line x1="991.5" y1="1768.5" x2="991.5" y2="1761.5" stroke="#231815" stroke-width="1.8" />
<line x1="991.5" y1="1347.2" x2="991.5" y2="1354.2" stroke="#231815" stroke-width="1.8" />
<line x1="1025.5" y1="1768.5" x2="1025.5" y2="1764.8" stroke="#231815" stroke-width="1.8" />
<line x1="1025.5" y1="1347.2" x2="1025.5" y2="1350.9" stroke="#231815" stroke-width="1.8" />
<line x1="1059.6" y1="1768.5" x2="1059.6" y2="1761.5" stroke="#231815" stroke-width="1.8" />
<line x1="1059.6" y1="1347.2" x2="1059.6" y2="1354.2" stroke="#231815" stroke-width="1.8" />
<line x1="1093.7" y1="1768.5" x2="1093.7" y2="1764.8" stroke="#231815" stroke-width="1.8" />
<line x1="1093.7" y1="1347.2" x2="1093.7" y2="1350.9" stroke="#231815" stroke-width="1.8" />
<line x1="1127.8" y1="1768.5" x2="1127.8" y2="1761.5" stroke="#231815" stroke-width="1.8" />
<line x1="1127.8" y1="1347.2" x2="1127.8" y2="1354.2" stroke="#231815" stroke-width="1.8" />
<line x1="1161.8" y1="1768.5" x2="1161.8" y2="1764.8" stroke="#231815" stroke-width="1.8" />
<line x1="1161.8" y1="1347.2" x2="1161.8" y2="1350.9" stroke="#231815" stroke-width="1.8" />
<line x1="1195.9" y1="1768.5" x2="1195.9" y2="1761.5" stroke="#231815" stroke-width="1.8" />
<line x1="1195.9" y1="1347.2" x2="1195.9" y2="1354.2" stroke="#231815" stroke-width="1.8" />
<line x1="787" y1="1723.3" x2="790.7" y2="1723.3" stroke="#231815" stroke-width="1.8" />
<line x1="1209.2" y1="1723.3" x2="1205.5" y2="1723.3" stroke="#231815" stroke-width="1.8" />
<line x1="787" y1="1678.2" x2="794" y2="1678.2" stroke="#231815" stroke-width="1.8" />
<line x1="1209.2" y1="1678.2" x2="1202.2" y2="1678.2" stroke="#231815" stroke-width="1.8" />
<line x1="787" y1="1633" x2="790.7" y2="1633" stroke="#231815" stroke-width="1.8" />
<line x1="1209.2" y1="1633" x2="1205.5" y2="1633" stroke="#231815" stroke-width="1.8" />
<line x1="787" y1="1587.9" x2="794" y2="1587.9" stroke="#231815" stroke-width="1.8" />
<line x1="1209.2" y1="1587.9" x2="1202.2" y2="1587.9" stroke="#231815" stroke-width="1.8" />
<line x1="787" y1="1542.8" x2="790.7" y2="1542.8" stroke="#231815" stroke-width="1.8" />
<line x1="1209.2" y1="1542.8" x2="1205.5" y2="1542.8" stroke="#231815" stroke-width="1.8" />
<line x1="787" y1="1497.6" x2="794" y2="1497.6" stroke="#231815" stroke-width="1.8" />
<line x1="1209.2" y1="1497.6" x2="1202.2" y2="1497.6" stroke="#231815" stroke-width="1.8" />
<line x1="787" y1="1452.5" x2="790.7" y2="1452.5" stroke="#231815" stroke-width="1.8" />
<line x1="1209.2" y1="1452.5" x2="1205.5" y2="1452.5" stroke="#231815" stroke-width="1.8" />
<line x1="787" y1="1407.3" x2="794" y2="1407.3" stroke="#231815" stroke-width="1.8" />
<line x1="1209.2" y1="1407.3" x2="1202.2" y2="1407.3" stroke="#231815" stroke-width="1.8" />
<line x1="787" y1="1362.2" x2="790.7" y2="1362.2" stroke="#231815" stroke-width="1.8" />
<line x1="1209.2" y1="1362.2" x2="1205.5" y2="1362.2" stroke="#231815" stroke-width="1.8" />
<text x="778.8" y="1779.9" font-size="35.8" text-anchor="end" fill="#231815" textLength="67.5" lengthAdjust="spacingAndGlyphs">0.00</text>
<text x="778.8" y="1689.6" font-size="35.8" text-anchor="end" fill="#231815" textLength="67.5" lengthAdjust="spacingAndGlyphs">0.15</text>
<text x="778.8" y="1599.3" font-size="35.8" text-anchor="end" fill="#231815" textLength="67.5" lengthAdjust="spacingAndGlyphs">0.30</text>
<text x="778.8" y="1509" font-size="35.8" text-anchor="end" fill="#231815" textLength="67.5" lengthAdjust="spacingAndGlyphs">0.45</text>
<text x="778.8" y="1418.7" font-size="35.8" text-anchor="end" fill="#231815" textLength="67.5" lengthAdjust="spacingAndGlyphs">0.60</text>
<text x="786" y="1802" font-size="32.6" text-anchor="middle" fill="#231815">0.0</text>
<text x="854.1" y="1802" font-size="32.6" text-anchor="middle" fill="#231815">0.5</text>
<text x="922.3" y="1802" font-size="32.6" text-anchor="middle" fill="#231815">1.0</text>
<text x="990.5" y="1802" font-size="32.6" text-anchor="middle" fill="#231815">1.5</text>
<text x="1058.6" y="1802" font-size="32.6" text-anchor="middle" fill="#231815">2.0</text>
<text x="1126.8" y="1802" font-size="32.6" text-anchor="middle" fill="#231815">2.5</text>
<text x="1194.9" y="1802" font-size="32.6" text-anchor="middle" fill="#231815">3.0</text>
<text x="997.2" y="1865" font-size="46" text-anchor="middle" fill="#231815" textLength="104" lengthAdjust="spacingAndGlyphs">T (K)</text>
<text x="677.5" y="1558" font-size="42.7" text-anchor="middle" fill="#231815" transform="rotate(-90 677.5 1558)">H<tspan font-size="28" dy="9">c2</tspan><tspan dy="-9"> (T)</tspan></text>
</svg>
</body></html>
